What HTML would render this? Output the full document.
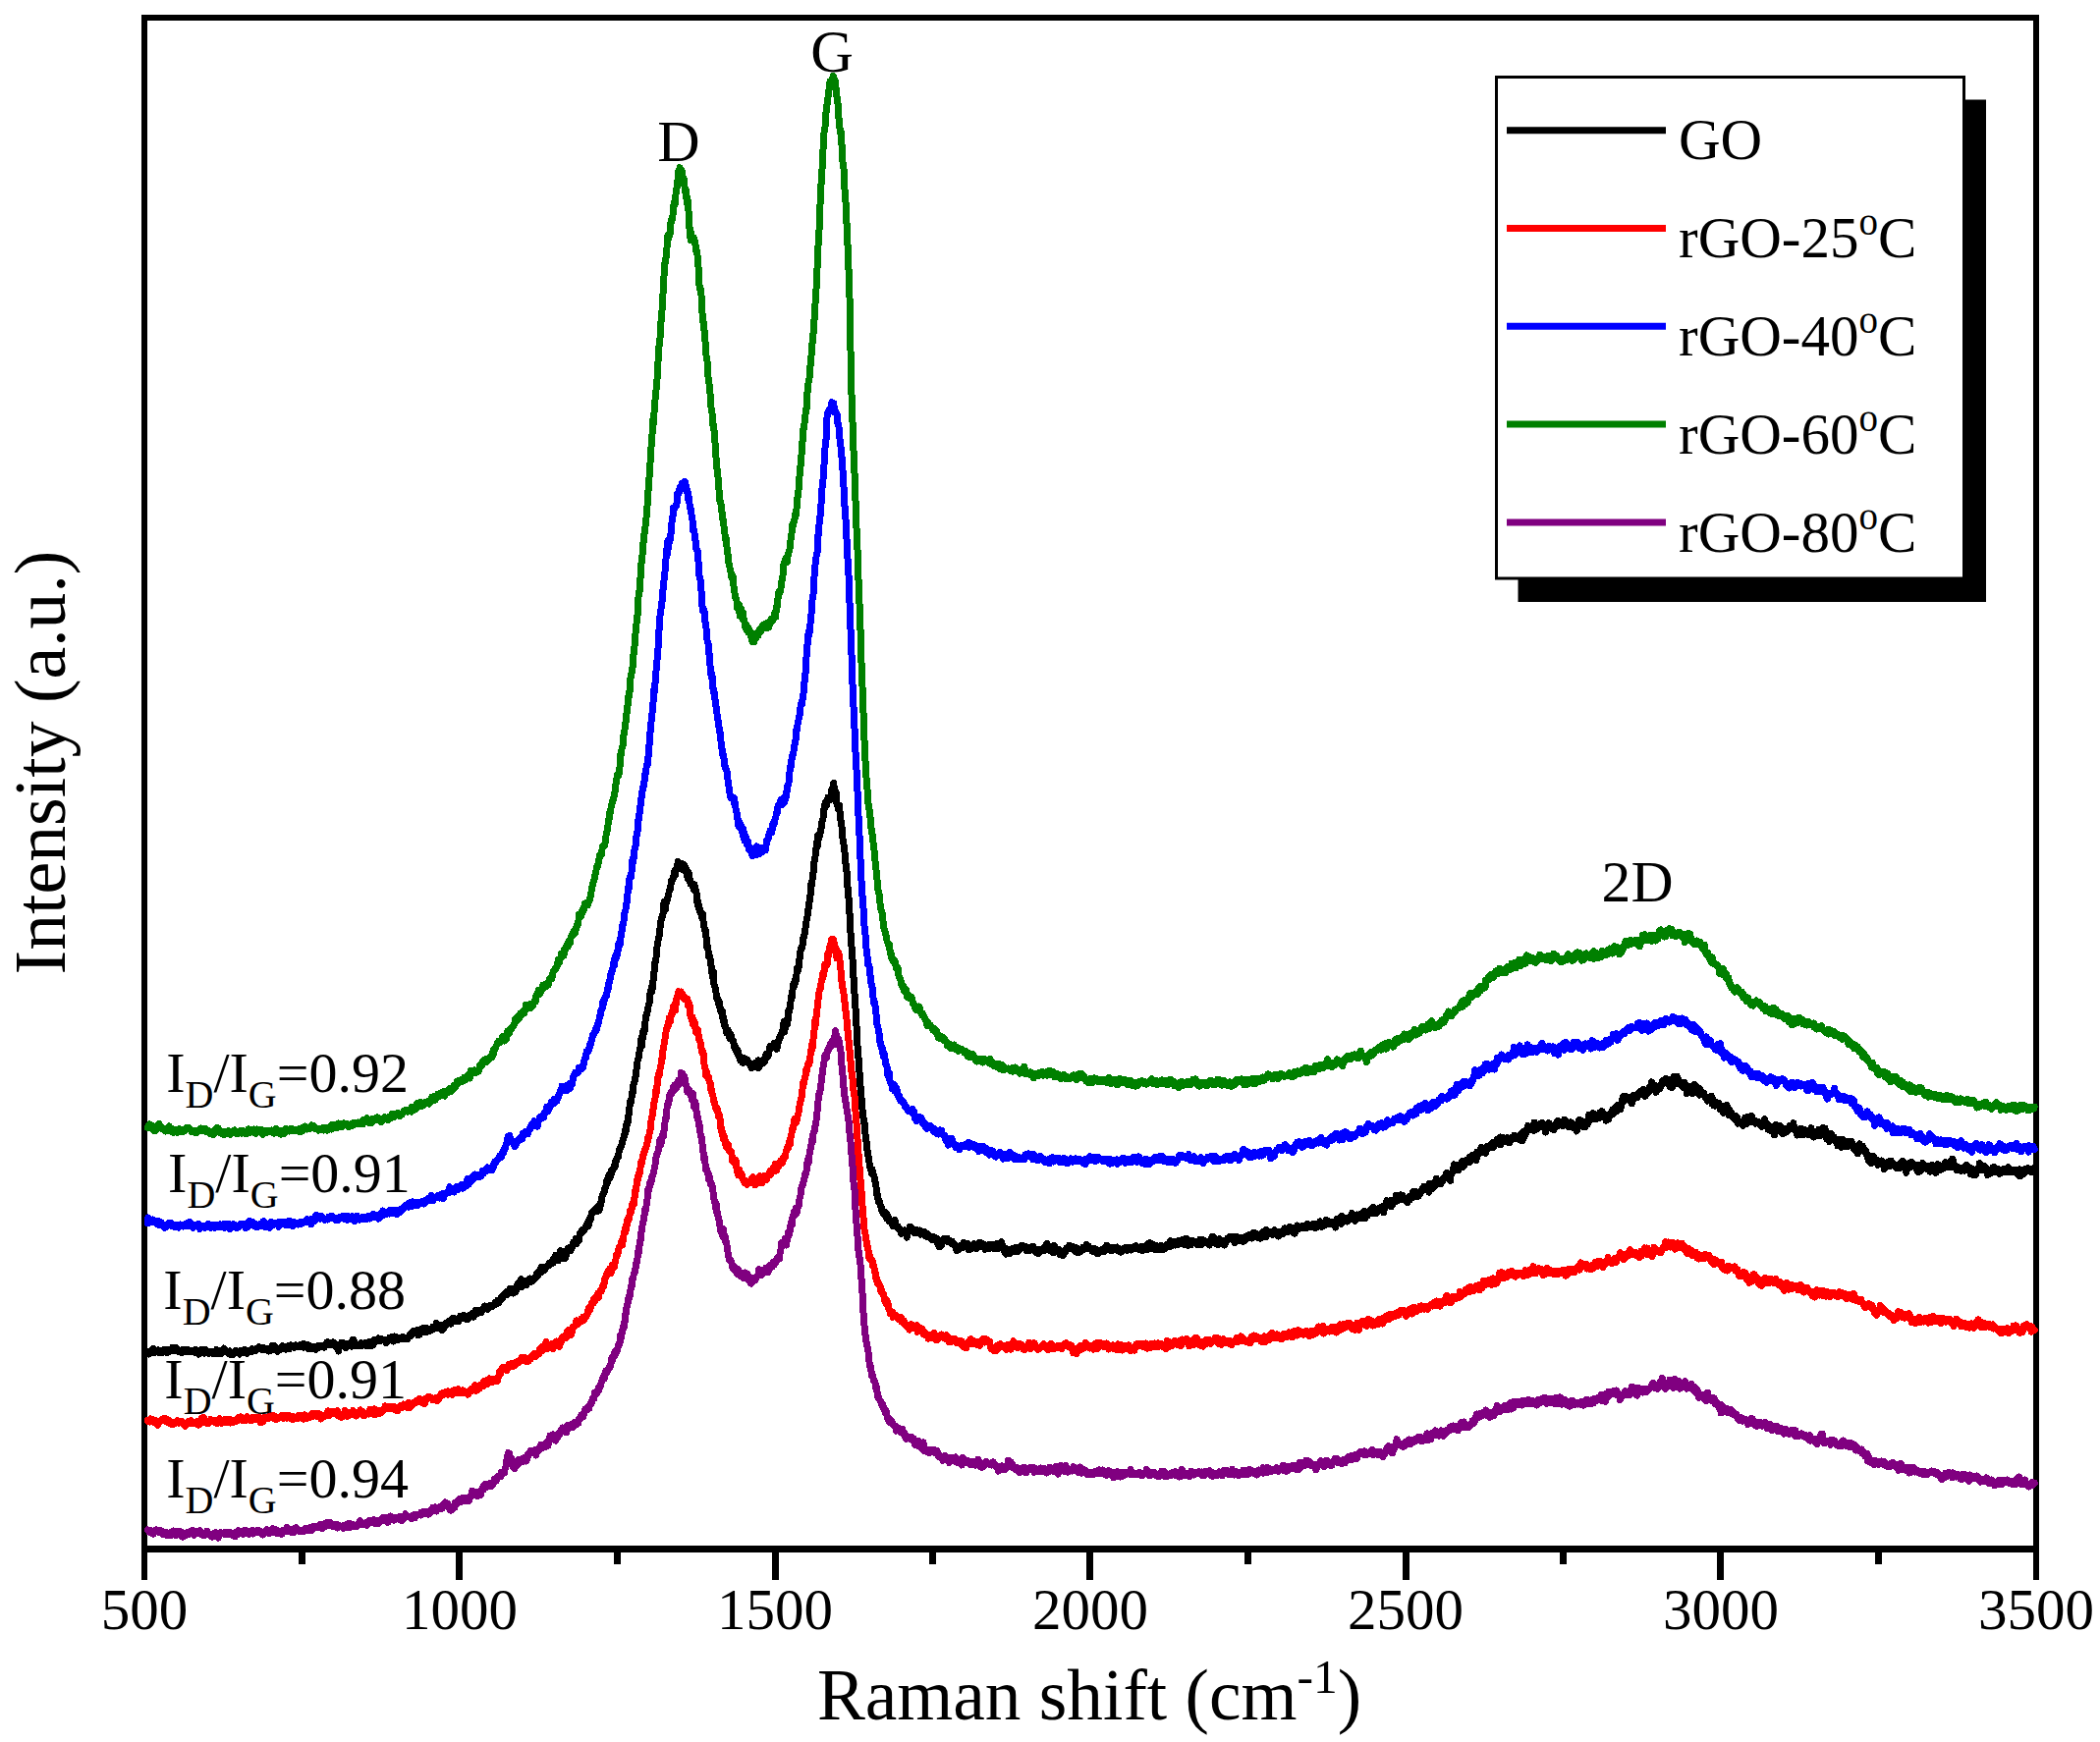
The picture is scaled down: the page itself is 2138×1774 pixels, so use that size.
<!DOCTYPE html>
<html><head><meta charset="utf-8"><title>Raman spectra</title>
<style>
html,body{margin:0;padding:0;background:#fff;}
svg{display:block;}
text{font-family:"Liberation Serif","Times New Roman",serif;fill:#000;}
</style></head><body>
<svg width="2138" height="1774" viewBox="0 0 2138 1774">
<rect x="0" y="0" width="2138" height="1774" fill="#fff"/>

<g fill="#000" shape-rendering="crispEdges">
<rect x="144" y="15" width="1932" height="6"/>
<rect x="144" y="15" width="6" height="1566"/>
<rect x="2070" y="15" width="6" height="1566"/>
<rect x="144" y="1574" width="1932" height="7"/>
<rect x="144" y="1577" width="6" height="32"/>
<rect x="464" y="1577" width="7" height="32"/>
<rect x="786" y="1577" width="7" height="32"/>
<rect x="1106" y="1577" width="7" height="32"/>
<rect x="1428" y="1577" width="7" height="32"/>
<rect x="1748" y="1577" width="7" height="32"/>
<rect x="2070" y="1577" width="6" height="32"/>
<rect x="304" y="1577" width="7" height="16"/>
<rect x="625" y="1577" width="7" height="16"/>
<rect x="946" y="1577" width="7" height="16"/>
<rect x="1267" y="1577" width="7" height="16"/>
<rect x="1588" y="1577" width="7" height="16"/>
<rect x="1909" y="1577" width="7" height="16"/>
</g>
<path d="M150.3,1376.4 150.9,1378.7 151.6,1379.0 152.2,1376.7 152.9,1376.2 153.5,1375.8 154.2,1376.6 154.8,1375.7 155.4,1375.7 156.1,1373.2 156.7,1377.8 157.4,1376.2 158.0,1376.9 158.6,1376.1 159.3,1375.2 159.9,1376.4 160.6,1376.2 161.2,1374.8 161.9,1376.5 162.5,1377.8 163.1,1376.8 163.8,1376.6 164.4,1377.8 165.1,1377.3 165.7,1375.7 166.3,1375.9 167.0,1375.5 167.6,1374.3 168.3,1375.3 168.9,1377.3 169.6,1377.5 170.2,1376.6 170.8,1376.2 171.5,1377.0 172.1,1376.6 172.8,1374.3 173.4,1375.2 174.1,1375.5 174.7,1373.7 175.3,1372.6 176.0,1374.2 176.6,1374.8 177.3,1375.2 177.9,1372.6 178.5,1373.8 179.2,1374.0 179.8,1372.9 180.5,1374.8 181.1,1375.3 181.8,1375.0 182.4,1376.8 183.0,1376.4 183.7,1376.0 184.3,1376.5 185.0,1377.5 185.6,1374.8 186.3,1376.1 186.9,1376.8 187.5,1374.3 188.2,1376.5 188.8,1375.2 189.5,1375.7 190.1,1375.0 190.7,1376.3 191.4,1376.5 192.0,1374.8 192.7,1376.5 193.3,1376.3 194.0,1376.8 194.6,1375.4 195.2,1376.7 195.9,1376.5 196.5,1375.8 197.2,1376.3 197.8,1376.8 198.4,1377.4 199.1,1374.5 199.7,1377.6 200.4,1377.3 201.0,1377.4 201.7,1376.7 202.3,1379.2 202.9,1376.3 203.6,1377.9 204.2,1377.9 204.9,1374.7 205.5,1375.6 206.2,1374.6 206.8,1375.8 207.4,1377.7 208.1,1378.1 208.7,1374.3 209.4,1375.8 210.0,1376.9 210.6,1377.8 211.3,1377.8 211.9,1377.0 212.6,1378.1 213.2,1377.4 213.9,1376.7 214.5,1376.4 215.1,1378.0 215.8,1378.2 216.4,1377.2 217.1,1377.2 217.7,1376.3 218.4,1377.4 219.0,1378.8 219.6,1376.6 220.3,1374.6 220.9,1377.7 221.6,1377.3 222.2,1378.9 222.8,1376.9 223.5,1376.7 224.1,1375.4 224.8,1377.3 225.4,1378.8 226.1,1374.8 226.7,1374.4 227.3,1375.2 228.0,1373.0 228.6,1374.2 229.3,1375.3 229.9,1375.3 230.5,1377.0 231.2,1376.6 231.8,1377.5 232.5,1377.2 233.1,1378.6 233.8,1375.9 234.4,1377.7 235.0,1379.6 235.7,1378.8 236.3,1379.6 237.0,1378.5 237.6,1379.1 238.3,1378.0 238.9,1377.7 239.5,1375.9 240.2,1375.2 240.8,1376.7 241.5,1377.6 242.1,1377.1 242.7,1377.8 243.4,1378.3 244.0,1379.0 244.7,1377.6 245.3,1375.2 246.0,1376.9 246.6,1376.2 247.2,1377.0 247.9,1376.0 248.5,1374.7 249.2,1374.6 249.8,1377.6 250.5,1376.5 251.1,1377.9 251.7,1378.3 252.4,1375.4 253.0,1376.9 253.7,1376.8 254.3,1376.2 254.9,1375.9 255.6,1375.4 256.2,1376.3 256.9,1373.8 257.5,1374.5 258.2,1374.5 258.8,1375.7 259.4,1374.0 260.1,1375.5 260.7,1374.2 261.4,1373.7 262.0,1373.3 262.6,1372.4 263.3,1371.9 263.9,1373.1 264.6,1372.3 265.2,1373.3 265.9,1372.8 266.5,1374.1 267.1,1372.3 267.8,1374.2 268.4,1372.7 269.1,1372.8 269.7,1373.8 270.4,1373.3 271.0,1374.3 271.6,1373.3 272.3,1373.3 272.9,1373.4 273.6,1376.1 274.2,1374.6 274.8,1373.7 275.5,1374.2 276.1,1372.5 276.8,1375.0 277.4,1370.3 278.1,1372.0 278.7,1371.8 279.3,1370.2 280.0,1372.8 280.6,1374.0 281.3,1374.1 281.9,1375.0 282.6,1376.3 283.2,1375.7 283.8,1375.3 284.5,1374.5 285.1,1374.4 285.8,1372.4 286.4,1373.4 287.0,1371.6 287.7,1370.5 288.3,1371.6 289.0,1373.0 289.6,1372.3 290.3,1371.5 290.9,1374.2 291.5,1372.9 292.2,1373.0 292.8,1372.8 293.5,1370.9 294.1,1374.0 294.7,1371.7 295.4,1371.6 296.0,1369.8 296.7,1369.8 297.3,1371.0 298.0,1371.8 298.6,1372.0 299.2,1371.6 299.9,1372.2 300.5,1371.6 301.2,1370.0 301.8,1371.5 302.5,1371.7 303.1,1371.4 303.7,1371.5 304.4,1371.7 305.0,1370.2 305.7,1369.3 306.3,1371.6 306.9,1370.7 307.6,1370.7 308.2,1371.4 308.9,1372.1 309.5,1368.4 310.2,1369.2 310.8,1369.5 311.4,1371.3 312.1,1371.0 312.7,1369.4 313.4,1371.1 314.0,1373.8 314.7,1372.7 315.3,1370.8 315.9,1370.9 316.6,1372.1 317.2,1371.8 317.9,1371.3 318.5,1373.8 319.1,1371.3 319.8,1373.3 320.4,1373.3 321.1,1371.3 321.7,1374.5 322.4,1372.9 323.0,1371.5 323.6,1372.7 324.3,1371.9 324.9,1370.1 325.6,1371.7 326.2,1371.5 326.8,1371.3 327.5,1371.0 328.1,1371.7 328.8,1371.7 329.4,1370.9 330.1,1372.1 330.7,1370.4 331.3,1370.2 332.0,1369.3 332.6,1367.0 333.3,1366.8 333.9,1369.4 334.6,1368.6 335.2,1368.8 335.8,1369.5 336.5,1368.7 337.1,1369.6 337.8,1368.5 338.4,1368.2 339.0,1366.8 339.7,1370.1 340.3,1368.7 341.0,1368.3 341.6,1370.2 342.3,1370.8 342.9,1372.4 343.5,1370.4 344.2,1372.4 344.8,1376.1 345.5,1370.0 346.1,1371.5 346.8,1369.3 347.4,1369.7 348.0,1367.0 348.7,1367.0 349.3,1368.6 350.0,1368.3 350.6,1369.9 351.2,1368.6 351.9,1369.4 352.5,1372.7 353.2,1368.5 353.8,1368.8 354.5,1368.8 355.1,1368.8 355.7,1369.9 356.4,1368.6 357.0,1367.2 357.7,1369.1 358.3,1371.2 358.9,1370.0 359.6,1364.1 360.2,1366.9 360.9,1366.7 361.5,1368.7 362.2,1368.1 362.8,1370.4 363.4,1369.8 364.1,1370.7 364.7,1369.7 365.4,1369.3 366.0,1369.8 366.7,1370.1 367.3,1368.9 367.9,1367.6 368.6,1370.2 369.2,1368.6 369.9,1368.6 370.5,1368.2 371.1,1368.4 371.8,1368.7 372.4,1367.1 373.1,1370.8 373.7,1370.7 374.4,1369.3 375.0,1370.4 375.6,1369.7 376.3,1370.2 376.9,1366.2 377.6,1368.3 378.2,1368.9 378.9,1370.2 379.5,1369.6 380.1,1369.2 380.8,1365.8 381.4,1364.3 382.1,1366.0 382.7,1364.8 383.3,1366.2 384.0,1365.2 384.6,1365.2 385.3,1362.9 385.9,1365.6 386.6,1365.0 387.2,1365.7 387.8,1364.4 388.5,1363.7 389.1,1364.3 389.8,1364.3 390.4,1364.8 391.0,1364.7 391.7,1364.8 392.3,1365.2 393.0,1367.7 393.6,1365.2 394.3,1365.9 394.9,1364.8 395.5,1364.0 396.2,1362.7 396.8,1363.8 397.5,1363.7 398.1,1364.5 398.8,1361.7 399.4,1363.1 400.0,1363.8 400.7,1366.0 401.3,1361.0 402.0,1363.7 402.6,1361.3 403.2,1363.5 403.9,1361.7 404.5,1362.8 405.2,1364.4 405.8,1363.0 406.5,1363.2 407.1,1363.5 407.7,1362.2 408.4,1363.6 409.0,1362.3 409.7,1361.4 410.3,1362.3 411.0,1362.9 411.6,1363.6 412.2,1362.6 412.9,1362.5 413.5,1363.9 414.2,1363.3 414.8,1363.6 415.4,1362.1 416.1,1361.0 416.7,1360.0 417.4,1358.9 418.0,1360.5 418.7,1359.6 419.3,1357.4 419.9,1357.4 420.6,1355.6 421.2,1356.6 421.9,1355.8 422.5,1355.3 423.1,1355.3 423.8,1355.5 424.4,1354.7 425.1,1358.1 425.7,1359.7 426.4,1355.5 427.0,1359.4 427.6,1356.2 428.3,1355.2 428.9,1354.8 429.6,1353.0 430.2,1356.6 430.9,1354.5 431.5,1352.7 432.1,1355.0 432.8,1354.0 433.4,1355.3 434.1,1356.7 434.7,1352.5 435.3,1354.4 436.0,1355.6 436.6,1355.1 437.3,1355.7 437.9,1353.6 438.6,1353.2 439.2,1354.6 439.8,1352.8 440.5,1351.5 441.1,1353.3 441.8,1353.2 442.4,1351.4 443.1,1350.0 443.7,1350.5 444.3,1347.5 445.0,1350.4 445.6,1349.1 446.3,1352.7 446.9,1350.8 447.5,1351.3 448.2,1351.3 448.8,1349.7 449.5,1353.2 450.1,1354.6 450.8,1351.7 451.4,1353.5 452.0,1352.0 452.7,1349.2 453.3,1350.7 454.0,1349.9 454.6,1347.0 455.2,1347.3 455.9,1347.7 456.5,1345.9 457.2,1347.6 457.8,1347.3 458.5,1345.4 459.1,1348.2 459.7,1345.5 460.4,1342.9 461.0,1344.0 461.7,1342.2 462.3,1345.5 463.0,1343.6 463.6,1345.9 464.2,1343.6 464.9,1345.3 465.5,1344.5 466.2,1345.1 466.8,1345.5 467.4,1343.7 468.1,1342.4 468.7,1340.4 469.4,1343.0 470.0,1341.9 470.7,1340.1 471.3,1340.6 471.9,1339.4 472.6,1340.8 473.2,1342.0 473.9,1343.1 474.5,1342.4 475.2,1341.1 475.8,1343.2 476.4,1343.4 477.1,1341.4 477.7,1341.4 478.4,1339.0 479.0,1339.4 479.6,1340.4 480.3,1339.8 480.9,1339.9 481.6,1337.3 482.2,1341.2 482.9,1338.0 483.5,1338.2 484.1,1334.8 484.8,1337.2 485.4,1337.9 486.1,1337.6 486.7,1336.6 487.3,1334.5 488.0,1335.1 488.6,1336.8 489.3,1334.9 489.9,1336.7 490.6,1334.3 491.2,1333.8 491.8,1333.1 492.5,1331.8 493.1,1330.6 493.8,1330.1 494.4,1332.0 495.1,1332.7 495.7,1333.0 496.3,1333.4 497.0,1330.1 497.6,1330.2 498.3,1331.2 498.9,1329.3 499.5,1329.6 500.2,1330.3 500.8,1330.5 501.5,1329.9 502.1,1329.4 502.8,1328.2 503.4,1328.5 504.0,1326.2 504.7,1327.3 505.3,1328.0 506.0,1325.5 506.6,1324.3 507.3,1325.6 507.9,1326.7 508.5,1325.1 509.2,1324.0 509.8,1323.6 510.5,1320.5 511.1,1321.7 511.7,1321.6 512.4,1319.6 513.0,1318.5 513.7,1318.0 514.3,1317.7 515.0,1318.0 515.6,1315.6 516.2,1317.2 516.9,1318.2 517.5,1316.1 518.2,1316.9 518.8,1314.7 519.4,1312.3 520.1,1313.6 520.7,1313.0 521.4,1316.5 522.0,1313.7 522.7,1317.0 523.3,1316.4 523.9,1313.1 524.6,1316.0 525.2,1315.5 525.9,1310.3 526.5,1312.1 527.2,1307.6 527.8,1309.1 528.4,1306.3 529.1,1307.4 529.7,1304.5 530.4,1302.8 531.0,1307.1 531.6,1310.2 532.3,1306.1 532.9,1307.6 533.6,1307.0 534.2,1307.0 534.9,1308.8 535.5,1308.9 536.1,1304.7 536.8,1307.2 537.4,1305.3 538.1,1303.3 538.7,1306.1 539.4,1305.7 540.0,1302.0 540.6,1305.5 541.3,1303.2 541.9,1302.9 542.6,1304.2 543.2,1302.0 543.8,1301.2 544.5,1301.7 545.1,1301.2 545.8,1299.9 546.4,1297.4 547.1,1296.3 547.7,1299.3 548.3,1295.8 549.0,1296.8 549.6,1293.5 550.3,1293.9 550.9,1290.6 551.5,1295.6 552.2,1291.9 552.8,1292.6 553.5,1291.9 554.1,1294.0 554.8,1290.3 555.4,1291.7 556.0,1290.5 556.7,1289.9 557.3,1289.6 558.0,1289.1 558.6,1287.8 559.3,1286.1 559.9,1287.8 560.5,1285.9 561.2,1285.1 561.8,1285.3 562.5,1283.3 563.1,1286.3 563.7,1282.1 564.4,1281.9 565.0,1283.2 565.7,1278.1 566.3,1278.8 567.0,1279.3 567.6,1281.0 568.2,1283.9 568.9,1280.6 569.5,1280.8 570.2,1277.1 570.8,1273.6 571.5,1274.7 572.1,1280.5 572.7,1279.3 573.4,1277.8 574.0,1281.6 574.7,1278.3 575.3,1281.4 575.9,1280.2 576.6,1275.2 577.2,1273.6 577.9,1274.2 578.5,1271.1 579.2,1274.2 579.8,1270.5 580.4,1273.9 581.1,1273.0 581.7,1271.6 582.4,1270.0 583.0,1269.6 583.6,1265.5 584.3,1267.0 584.9,1264.6 585.6,1265.2 586.2,1261.6 586.9,1266.8 587.5,1264.0 588.1,1261.1 588.8,1263.7 589.4,1263.5 590.1,1258.3 590.7,1255.8 591.4,1255.4 592.0,1253.4 592.6,1252.6 593.3,1254.8 593.9,1252.6 594.6,1251.6 595.2,1251.9 595.8,1249.9 596.5,1250.4 597.1,1249.9 597.8,1246.1 598.4,1246.5 599.1,1248.4 599.7,1243.0 600.3,1241.3 601.0,1243.0 601.6,1238.9 602.3,1235.6 602.9,1236.1 603.6,1233.8 604.2,1234.6 604.8,1234.3 605.5,1232.8 606.1,1231.0 606.8,1232.2 607.4,1231.4 608.0,1233.7 608.7,1229.0 609.3,1229.5 610.0,1232.8 610.6,1226.5 611.3,1227.4 611.9,1226.0 612.5,1221.6 613.2,1216.9 613.8,1216.7 614.5,1214.8 615.1,1214.3 615.7,1210.4 616.4,1209.6 617.0,1207.8 617.7,1202.3 618.3,1205.2 619.0,1201.7 619.6,1198.5 620.2,1196.2 620.9,1199.7 621.5,1197.1 622.2,1192.5 622.8,1194.5 623.5,1190.7 624.1,1190.1 624.7,1190.1 625.4,1186.8 626.0,1188.4 626.7,1182.6 627.3,1181.1 627.9,1181.3 628.6,1178.5 629.2,1178.8 629.9,1174.7 630.5,1171.3 631.2,1169.0 631.8,1168.1 632.4,1168.0 633.1,1164.7 633.7,1162.8 634.4,1160.5 635.0,1158.0 635.7,1156.9 636.3,1151.0 636.9,1153.9 637.6,1145.6 638.2,1143.6 638.9,1144.6 639.5,1138.6 640.1,1134.8 640.8,1129.5 641.4,1122.6 642.1,1123.1 642.7,1121.6 643.4,1112.9 644.0,1114.0 644.6,1106.3 645.3,1103.0 645.9,1102.9 646.6,1098.2 647.2,1095.8 647.8,1090.4 648.5,1086.3 649.1,1079.9 649.8,1078.4 650.4,1075.4 651.1,1070.5 651.7,1068.8 652.3,1063.1 653.0,1056.9 653.6,1064.9 654.3,1054.9 654.9,1050.0 655.6,1052.2 656.2,1049.7 656.8,1041.1 657.5,1037.4 658.1,1032.8 658.8,1033.1 659.4,1027.7 660.0,1025.0 660.7,1022.3 661.3,1020.6 662.0,1011.6 662.6,1010.6 663.3,1005.5 663.9,1009.7 664.5,1002.8 665.2,996.7 665.8,990.6 666.5,987.7 667.1,977.3 667.8,978.6 668.4,967.7 669.0,964.1 669.7,960.9 670.3,955.3 671.0,953.6 671.6,948.9 672.2,943.0 672.9,937.6 673.5,936.7 674.2,932.4 674.8,933.2 675.5,925.2 676.1,918.5 676.7,921.4 677.4,926.5 678.0,921.0 678.7,916.2 679.3,916.8 679.9,913.8 680.6,912.2 681.2,908.0 681.9,906.4 682.5,904.7 683.2,899.9 683.8,896.6 684.4,896.8 685.1,895.6 685.7,892.2 686.4,890.0 687.0,886.7 687.7,891.0 688.3,884.9 688.9,883.8 689.6,883.4 690.2,877.2 690.9,878.0 691.5,880.4 692.1,883.1 692.8,880.3 693.4,881.8 694.1,882.7 694.7,879.5 695.4,885.8 696.0,883.7 696.6,880.5 697.3,884.8 697.9,883.0 698.6,886.1 699.2,891.2 699.9,890.2 700.5,894.8 701.1,888.5 701.8,893.4 702.4,896.3 703.1,900.0 703.7,899.8 704.3,899.5 705.0,901.7 705.6,902.3 706.3,906.1 706.9,900.8 707.6,905.3 708.2,905.8 708.8,908.6 709.5,911.8 710.1,921.2 710.8,918.2 711.4,924.5 712.0,924.8 712.7,928.1 713.3,929.4 714.0,930.4 714.6,934.3 715.3,930.3 715.9,937.6 716.5,940.2 717.2,946.3 717.8,945.9 718.5,948.8 719.1,955.4 719.8,964.3 720.4,964.0 721.0,967.8 721.7,974.5 722.3,973.7 723.0,975.7 723.6,981.2 724.2,984.4 724.9,991.0 725.5,994.8 726.2,989.6 726.8,1002.1 727.5,1003.6 728.1,1006.4 728.7,1007.8 729.4,1015.6 730.0,1015.1 730.7,1018.5 731.3,1021.7 732.0,1019.5 732.6,1025.0 733.2,1025.7 733.9,1030.7 734.5,1030.8 735.2,1029.1 735.8,1037.0 736.4,1035.2 737.1,1043.1 737.7,1040.5 738.4,1045.9 739.0,1047.4 739.7,1051.6 740.3,1051.0 740.9,1048.6 741.6,1049.9 742.2,1055.1 742.9,1057.3 743.5,1053.0 744.1,1053.6 744.8,1056.7 745.4,1058.9 746.1,1060.3 746.7,1060.1 747.4,1065.3 748.0,1067.7 748.6,1068.4 749.3,1066.7 749.9,1071.2 750.6,1071.9 751.2,1069.9 751.9,1075.5 752.5,1074.6 753.1,1075.0 753.8,1080.1 754.4,1078.7 755.1,1080.2 755.7,1081.9 756.3,1082.5 757.0,1077.6 757.6,1077.9 758.3,1080.3 758.9,1078.1 759.6,1079.7 760.2,1079.8 760.8,1079.6 761.5,1081.3 762.1,1082.6 762.8,1082.5 763.4,1084.6 764.1,1084.6 764.7,1084.2 765.3,1087.8 766.0,1087.1 766.6,1084.1 767.3,1086.8 767.9,1083.8 768.5,1085.7 769.2,1082.3 769.8,1085.9 770.5,1083.1 771.1,1082.2 771.8,1079.9 772.4,1087.4 773.0,1082.5 773.7,1082.3 774.3,1083.0 775.0,1081.4 775.6,1083.2 776.2,1079.8 776.9,1082.9 777.5,1080.6 778.2,1081.1 778.8,1080.8 779.5,1075.8 780.1,1073.1 780.7,1074.1 781.4,1076.4 782.0,1075.0 782.7,1074.1 783.3,1068.4 784.0,1065.5 784.6,1067.9 785.2,1066.9 785.9,1066.0 786.5,1066.4 787.2,1066.4 787.8,1062.8 788.4,1063.7 789.1,1066.5 789.7,1065.2 790.4,1065.0 791.0,1068.2 791.7,1061.7 792.3,1062.0 792.9,1058.5 793.6,1056.8 794.2,1057.0 794.9,1054.1 795.5,1052.5 796.2,1052.0 796.8,1050.0 797.4,1044.0 798.1,1040.7 798.7,1050.9 799.4,1046.9 800.0,1044.0 800.6,1039.6 801.3,1038.2 801.9,1042.5 802.6,1029.4 803.2,1031.1 803.9,1028.7 804.5,1023.3 805.1,1019.5 805.8,1014.1 806.4,1015.1 807.1,1007.1 807.7,1002.2 808.3,1004.1 809.0,1003.4 809.6,998.1 810.3,998.5 810.9,993.1 811.6,986.3 812.2,989.5 812.8,986.6 813.5,982.9 814.1,975.5 814.8,969.5 815.4,966.4 816.1,965.7 816.7,964.0 817.3,960.8 818.0,954.5 818.6,953.7 819.3,950.0 819.9,946.5 820.5,940.2 821.2,937.1 821.8,935.1 822.5,927.7 823.1,925.1 823.8,919.4 824.4,917.0 825.0,911.9 825.7,901.0 826.3,901.4 827.0,896.0 827.6,892.9 828.3,885.3 828.9,877.7 829.5,876.0 830.2,870.8 830.8,865.4 831.5,857.7 832.1,862.8 832.7,850.8 833.4,854.5 834.0,852.5 834.7,850.6 835.3,847.2 836.0,843.8 836.6,840.1 837.2,835.0 837.9,835.2 838.5,824.3 839.2,823.7 839.8,819.6 840.4,817.2 841.1,819.3 841.7,819.7 842.4,814.7 843.0,812.1 843.7,813.5 844.3,812.8 844.9,814.6 845.6,811.4 846.2,808.0 846.9,803.7 847.5,803.5 848.2,802.5 848.8,797.5 849.4,804.7 850.1,805.7 850.7,805.9 851.4,808.1 852.0,818.4 852.6,819.4 853.3,824.0 853.9,819.9 854.6,820.0 855.2,828.7 855.9,835.6 856.5,836.7 857.1,843.1 857.8,852.0 858.4,857.2 859.1,860.3 859.7,865.4 860.4,871.5 861.0,879.6 861.6,881.2 862.3,891.6 862.9,902.7 863.6,908.3 864.2,917.2 864.8,926.9 865.5,938.3 866.1,951.9 866.8,961.2 867.4,969.4 868.1,977.9 868.7,991.5 869.3,999.4 870.0,1011.8 870.6,1020.9 871.3,1030.6 871.9,1042.6 872.5,1055.5 873.2,1068.4 873.8,1076.6 874.5,1079.8 875.1,1094.5 875.8,1103.2 876.4,1112.5 877.0,1117.6 877.7,1128.3 878.3,1131.6 879.0,1138.5 879.6,1143.0 880.3,1144.3 880.9,1153.8 881.5,1159.9 882.2,1163.2 882.8,1170.3 883.5,1174.7 884.1,1177.6 884.7,1182.1 885.4,1186.7 886.0,1189.1 886.7,1190.9 887.3,1195.2 888.0,1190.9 888.6,1195.6 889.2,1195.9 889.9,1197.6 890.5,1202.4 891.2,1204.5 891.8,1207.4 892.5,1212.7 893.1,1219.1 893.7,1217.4 894.4,1224.0 895.0,1222.0 895.7,1225.0 896.3,1227.6 896.9,1228.2 897.6,1231.7 898.2,1234.1 898.9,1233.8 899.5,1236.5 900.2,1236.0 900.8,1234.4 901.4,1236.1 902.1,1235.9 902.7,1240.8 903.4,1237.1 904.0,1241.7 904.6,1239.4 905.3,1244.1 905.9,1244.1 906.6,1244.1 907.2,1244.2 907.9,1245.2 908.5,1247.1 909.1,1248.5 909.8,1245.9 910.4,1243.9 911.1,1242.6 911.7,1247.6 912.4,1249.3 913.0,1249.1 913.6,1249.4 914.3,1249.3 914.9,1251.5 915.6,1252.3 916.2,1253.3 916.8,1251.9 917.5,1256.3 918.1,1253.5 918.8,1254.7 919.4,1253.3 920.1,1254.9 920.7,1254.4 921.3,1253.0 922.0,1254.8 922.6,1253.3 923.3,1260.1 923.9,1255.3 924.6,1255.0 925.2,1253.9 925.8,1253.1 926.5,1249.1 927.1,1252.4 927.8,1253.3 928.4,1250.4 929.0,1253.7 929.7,1252.1 930.3,1254.0 931.0,1255.8 931.6,1255.8 932.3,1255.0 932.9,1252.6 933.5,1253.1 934.2,1253.0 934.8,1254.3 935.5,1256.1 936.1,1254.2 936.7,1253.0 937.4,1257.2 938.0,1255.3 938.7,1254.2 939.3,1254.1 940.0,1256.7 940.6,1256.7 941.2,1254.5 941.9,1258.1 942.5,1259.2 943.2,1259.2 943.8,1256.0 944.5,1257.7 945.1,1258.7 945.7,1258.4 946.4,1259.5 947.0,1259.5 947.7,1261.6 948.3,1262.2 948.9,1259.3 949.6,1260.6 950.2,1261.3 950.9,1259.7 951.5,1260.7 952.2,1262.4 952.8,1262.2 953.4,1262.1 954.1,1261.2 954.7,1266.1 955.4,1267.7 956.0,1269.7 956.7,1267.3 957.3,1267.6 957.9,1269.1 958.6,1267.6 959.2,1264.1 959.9,1265.1 960.5,1261.7 961.1,1263.7 961.8,1261.8 962.4,1262.2 963.1,1262.2 963.7,1263.4 964.4,1261.2 965.0,1263.4 965.6,1264.9 966.3,1263.0 966.9,1263.5 967.6,1265.4 968.2,1266.0 968.8,1266.7 969.5,1264.2 970.1,1266.1 970.8,1266.7 971.4,1266.5 972.1,1267.1 972.7,1269.4 973.3,1268.2 974.0,1273.5 974.6,1269.8 975.3,1269.6 975.9,1269.2 976.6,1272.5 977.2,1268.8 977.8,1271.0 978.5,1269.0 979.1,1270.3 979.8,1269.5 980.4,1270.7 981.0,1265.4 981.7,1267.4 982.3,1269.0 983.0,1266.0 983.6,1266.8 984.3,1267.3 984.9,1266.2 985.5,1271.4 986.2,1272.7 986.8,1269.9 987.5,1268.9 988.1,1272.1 988.8,1271.1 989.4,1270.8 990.0,1270.9 990.7,1268.7 991.3,1269.6 992.0,1266.6 992.6,1270.7 993.2,1270.3 993.9,1271.8 994.5,1271.6 995.2,1269.4 995.8,1268.9 996.5,1266.8 997.1,1265.2 997.7,1267.0 998.4,1267.3 999.0,1265.9 999.7,1268.8 1000.3,1268.7 1000.9,1270.1 1001.6,1268.0 1002.2,1267.2 1002.9,1272.2 1003.5,1271.2 1004.2,1271.4 1004.8,1270.7 1005.4,1270.2 1006.1,1270.9 1006.7,1269.6 1007.4,1267.4 1008.0,1271.5 1008.7,1267.3 1009.3,1269.8 1009.9,1270.8 1010.6,1269.8 1011.2,1267.5 1011.9,1271.5 1012.5,1271.1 1013.1,1271.3 1013.8,1271.1 1014.4,1267.9 1015.1,1266.7 1015.7,1270.7 1016.4,1271.2 1017.0,1270.4 1017.6,1266.8 1018.3,1267.8 1018.9,1268.8 1019.6,1264.8 1020.2,1267.8 1020.9,1268.3 1021.5,1272.1 1022.1,1270.8 1022.8,1275.2 1023.4,1272.5 1024.1,1271.3 1024.7,1277.2 1025.3,1272.8 1026.0,1275.8 1026.6,1276.7 1027.3,1272.8 1027.9,1273.2 1028.6,1276.4 1029.2,1274.2 1029.8,1272.8 1030.5,1271.9 1031.1,1273.1 1031.8,1274.1 1032.4,1271.0 1033.0,1270.9 1033.7,1273.1 1034.3,1272.6 1035.0,1273.7 1035.6,1274.8 1036.3,1270.5 1036.9,1273.8 1037.5,1272.9 1038.2,1271.6 1038.8,1270.5 1039.5,1269.1 1040.1,1268.2 1040.8,1270.0 1041.4,1268.7 1042.0,1269.6 1042.7,1270.1 1043.3,1270.6 1044.0,1269.4 1044.6,1270.3 1045.2,1273.3 1045.9,1270.5 1046.5,1272.6 1047.2,1270.7 1047.8,1273.8 1048.5,1272.8 1049.1,1271.7 1049.7,1270.5 1050.4,1269.9 1051.0,1269.6 1051.7,1269.4 1052.3,1272.0 1053.0,1272.9 1053.6,1271.5 1054.2,1274.7 1054.9,1273.0 1055.5,1275.8 1056.2,1274.0 1056.8,1272.3 1057.4,1276.4 1058.1,1275.1 1058.7,1273.1 1059.4,1272.8 1060.0,1273.9 1060.7,1272.4 1061.3,1273.3 1061.9,1272.8 1062.6,1273.7 1063.2,1270.1 1063.9,1272.2 1064.5,1270.8 1065.1,1267.7 1065.8,1266.4 1066.4,1270.5 1067.1,1271.0 1067.7,1273.1 1068.4,1272.3 1069.0,1271.9 1069.6,1274.1 1070.3,1269.6 1070.9,1272.3 1071.6,1271.8 1072.2,1275.7 1072.9,1272.9 1073.5,1268.5 1074.1,1275.2 1074.8,1271.7 1075.4,1274.1 1076.1,1272.2 1076.7,1272.4 1077.3,1274.5 1078.0,1274.7 1078.6,1272.5 1079.3,1277.4 1079.9,1276.6 1080.6,1275.2 1081.2,1277.5 1081.8,1275.2 1082.5,1278.6 1083.1,1277.2 1083.8,1275.8 1084.4,1275.0 1085.1,1272.9 1085.7,1271.2 1086.3,1272.4 1087.0,1271.4 1087.6,1271.8 1088.3,1271.6 1088.9,1268.1 1089.5,1270.6 1090.2,1270.9 1090.8,1271.1 1091.5,1271.1 1092.1,1269.1 1092.8,1272.6 1093.4,1270.9 1094.0,1272.9 1094.7,1270.1 1095.3,1274.6 1096.0,1272.5 1096.6,1275.4 1097.2,1275.6 1097.9,1275.9 1098.5,1272.0 1099.2,1273.5 1099.8,1273.0 1100.5,1274.3 1101.1,1273.1 1101.7,1272.3 1102.4,1270.5 1103.0,1270.9 1103.7,1270.3 1104.3,1272.0 1105.0,1269.4 1105.6,1270.2 1106.2,1267.3 1106.9,1268.2 1107.5,1268.7 1108.2,1268.7 1108.8,1271.0 1109.4,1272.0 1110.1,1270.8 1110.7,1272.0 1111.4,1272.5 1112.0,1274.1 1112.7,1271.2 1113.3,1271.5 1113.9,1272.7 1114.6,1274.4 1115.2,1273.6 1115.9,1272.0 1116.5,1273.0 1117.2,1276.7 1117.8,1275.3 1118.4,1276.6 1119.1,1273.3 1119.7,1273.2 1120.4,1274.6 1121.0,1273.0 1121.6,1273.9 1122.3,1272.5 1122.9,1272.2 1123.6,1274.9 1124.2,1271.6 1124.9,1273.0 1125.5,1271.0 1126.1,1271.1 1126.8,1268.1 1127.4,1269.4 1128.1,1272.7 1128.7,1271.0 1129.3,1272.0 1130.0,1272.1 1130.6,1273.4 1131.3,1270.2 1131.9,1270.5 1132.6,1272.4 1133.2,1273.0 1133.8,1270.9 1134.5,1270.4 1135.1,1270.2 1135.8,1272.2 1136.4,1270.7 1137.1,1270.1 1137.7,1273.2 1138.3,1271.0 1139.0,1273.6 1139.6,1274.1 1140.3,1273.1 1140.9,1275.2 1141.5,1274.8 1142.2,1274.6 1142.8,1272.5 1143.5,1271.5 1144.1,1273.0 1144.8,1272.2 1145.4,1270.6 1146.0,1271.3 1146.7,1270.1 1147.3,1270.1 1148.0,1273.4 1148.6,1271.6 1149.3,1272.0 1149.9,1271.2 1150.5,1270.8 1151.2,1270.3 1151.8,1273.0 1152.5,1271.2 1153.1,1270.1 1153.7,1270.6 1154.4,1271.8 1155.0,1269.3 1155.7,1270.8 1156.3,1268.6 1157.0,1271.8 1157.6,1269.6 1158.2,1271.8 1158.9,1272.2 1159.5,1271.1 1160.2,1270.6 1160.8,1271.9 1161.4,1269.8 1162.1,1269.9 1162.7,1270.1 1163.4,1273.4 1164.0,1272.2 1164.7,1272.5 1165.3,1269.3 1165.9,1272.2 1166.6,1268.7 1167.2,1269.7 1167.9,1267.5 1168.5,1272.5 1169.2,1266.4 1169.8,1270.4 1170.4,1269.8 1171.1,1265.7 1171.7,1269.5 1172.4,1271.9 1173.0,1271.4 1173.6,1268.1 1174.3,1268.7 1174.9,1267.8 1175.6,1268.3 1176.2,1269.0 1176.9,1272.8 1177.5,1270.2 1178.1,1269.0 1178.8,1271.5 1179.4,1272.6 1180.1,1272.2 1180.7,1269.7 1181.4,1271.6 1182.0,1268.5 1182.6,1270.3 1183.3,1270.4 1183.9,1272.8 1184.6,1270.6 1185.2,1270.1 1185.8,1272.0 1186.5,1270.2 1187.1,1270.1 1187.8,1269.4 1188.4,1267.1 1189.1,1266.9 1189.7,1268.2 1190.3,1267.6 1191.0,1269.6 1191.6,1263.8 1192.3,1264.1 1192.9,1269.1 1193.5,1267.4 1194.2,1265.1 1194.8,1265.6 1195.5,1267.2 1196.1,1264.8 1196.8,1268.0 1197.4,1265.6 1198.0,1265.6 1198.7,1266.2 1199.3,1267.6 1200.0,1263.6 1200.6,1265.6 1201.3,1266.6 1201.9,1263.1 1202.5,1262.9 1203.2,1265.8 1203.8,1265.8 1204.5,1264.3 1205.1,1263.2 1205.7,1261.9 1206.4,1268.0 1207.0,1262.5 1207.7,1263.5 1208.3,1261.7 1209.0,1264.2 1209.6,1268.2 1210.2,1266.0 1210.9,1267.1 1211.5,1265.5 1212.2,1268.0 1212.8,1265.8 1213.5,1263.3 1214.1,1265.7 1214.7,1263.7 1215.4,1265.0 1216.0,1264.9 1216.7,1266.1 1217.3,1266.1 1217.9,1265.0 1218.6,1264.5 1219.2,1267.8 1219.9,1267.1 1220.5,1267.3 1221.2,1265.3 1221.8,1262.1 1222.4,1264.1 1223.1,1267.5 1223.7,1264.6 1224.4,1264.2 1225.0,1262.9 1225.6,1264.2 1226.3,1265.1 1226.9,1264.7 1227.6,1265.8 1228.2,1265.6 1228.9,1265.6 1229.5,1265.6 1230.1,1267.1 1230.8,1265.2 1231.4,1268.0 1232.1,1264.6 1232.7,1262.9 1233.4,1260.7 1234.0,1262.3 1234.6,1259.2 1235.3,1259.6 1235.9,1260.4 1236.6,1263.9 1237.2,1262.0 1237.8,1266.2 1238.5,1264.6 1239.1,1262.3 1239.8,1264.1 1240.4,1267.7 1241.1,1262.6 1241.7,1261.7 1242.3,1263.9 1243.0,1266.3 1243.6,1265.8 1244.3,1263.5 1244.9,1263.5 1245.6,1264.0 1246.2,1265.2 1246.8,1268.0 1247.5,1263.5 1248.1,1265.7 1248.8,1263.0 1249.4,1263.7 1250.0,1260.6 1250.7,1260.5 1251.3,1261.5 1252.0,1259.1 1252.6,1261.5 1253.3,1259.8 1253.9,1261.5 1254.5,1261.1 1255.2,1259.6 1255.8,1260.8 1256.5,1263.7 1257.1,1266.0 1257.7,1259.2 1258.4,1260.8 1259.0,1260.6 1259.7,1261.4 1260.3,1262.2 1261.0,1260.0 1261.6,1262.4 1262.2,1263.8 1262.9,1260.2 1263.5,1263.0 1264.2,1263.2 1264.8,1261.3 1265.5,1264.5 1266.1,1263.1 1266.7,1261.5 1267.4,1263.6 1268.0,1259.6 1268.7,1262.1 1269.3,1260.3 1269.9,1258.2 1270.6,1259.4 1271.2,1260.0 1271.9,1260.7 1272.5,1257.4 1273.2,1257.7 1273.8,1258.8 1274.4,1261.0 1275.1,1256.3 1275.7,1258.8 1276.4,1255.1 1277.0,1257.9 1277.7,1259.8 1278.3,1259.3 1278.9,1257.2 1279.6,1256.8 1280.2,1257.7 1280.9,1260.7 1281.5,1260.4 1282.1,1257.6 1282.8,1261.1 1283.4,1258.2 1284.1,1256.7 1284.7,1256.2 1285.4,1260.0 1286.0,1259.3 1286.6,1254.2 1287.3,1255.7 1287.9,1256.8 1288.6,1259.9 1289.2,1252.4 1289.8,1256.4 1290.5,1257.4 1291.1,1254.0 1291.8,1256.3 1292.4,1256.7 1293.1,1256.7 1293.7,1255.7 1294.3,1255.8 1295.0,1255.2 1295.6,1257.4 1296.3,1256.1 1296.9,1254.8 1297.6,1252.6 1298.2,1256.8 1298.8,1257.0 1299.5,1256.8 1300.1,1254.0 1300.8,1255.8 1301.4,1259.0 1302.0,1259.0 1302.7,1256.1 1303.3,1257.3 1304.0,1257.1 1304.6,1256.7 1305.3,1254.0 1305.9,1256.9 1306.5,1254.6 1307.2,1253.0 1307.8,1250.8 1308.5,1251.5 1309.1,1252.5 1309.8,1253.5 1310.4,1252.5 1311.0,1254.6 1311.7,1253.9 1312.3,1251.9 1313.0,1249.4 1313.6,1251.5 1314.2,1252.3 1314.9,1253.6 1315.5,1253.1 1316.2,1254.7 1316.8,1252.2 1317.5,1250.9 1318.1,1256.1 1318.7,1251.4 1319.4,1250.3 1320.0,1251.1 1320.7,1248.0 1321.3,1251.3 1321.9,1250.2 1322.6,1251.1 1323.2,1250.4 1323.9,1250.6 1324.5,1250.5 1325.2,1248.9 1325.8,1249.3 1326.4,1250.0 1327.1,1249.5 1327.7,1250.0 1328.4,1248.2 1329.0,1250.8 1329.7,1248.9 1330.3,1246.8 1330.9,1249.2 1331.6,1249.9 1332.2,1246.8 1332.9,1249.8 1333.5,1249.8 1334.1,1248.5 1334.8,1247.9 1335.4,1248.2 1336.1,1246.8 1336.7,1249.2 1337.4,1248.3 1338.0,1246.2 1338.6,1249.2 1339.3,1250.6 1339.9,1247.8 1340.6,1249.0 1341.2,1249.0 1341.9,1246.5 1342.5,1249.2 1343.1,1246.2 1343.8,1243.8 1344.4,1247.5 1345.1,1248.0 1345.7,1249.2 1346.3,1246.8 1347.0,1246.5 1347.6,1248.1 1348.3,1246.9 1348.9,1247.9 1349.6,1247.1 1350.2,1242.5 1350.8,1244.2 1351.5,1243.9 1352.1,1246.5 1352.8,1244.5 1353.4,1244.0 1354.0,1245.4 1354.7,1245.9 1355.3,1246.6 1356.0,1246.1 1356.6,1244.8 1357.3,1246.0 1357.9,1246.5 1358.5,1246.2 1359.2,1245.4 1359.8,1250.1 1360.5,1246.2 1361.1,1241.8 1361.8,1243.3 1362.4,1244.9 1363.0,1243.4 1363.7,1240.8 1364.3,1241.9 1365.0,1243.3 1365.6,1246.3 1366.2,1238.7 1366.9,1243.8 1367.5,1240.5 1368.2,1241.3 1368.8,1240.5 1369.5,1240.2 1370.1,1242.6 1370.7,1243.0 1371.4,1243.9 1372.0,1243.1 1372.7,1243.2 1373.3,1242.1 1374.0,1241.2 1374.6,1241.3 1375.2,1240.6 1375.9,1236.6 1376.5,1235.3 1377.2,1237.4 1377.8,1241.0 1378.4,1241.6 1379.1,1241.6 1379.7,1243.5 1380.4,1240.6 1381.0,1241.9 1381.7,1237.0 1382.3,1240.3 1382.9,1240.7 1383.6,1237.8 1384.2,1236.7 1384.9,1236.9 1385.5,1238.1 1386.1,1239.0 1386.8,1240.4 1387.4,1239.1 1388.1,1234.3 1388.7,1233.4 1389.4,1238.5 1390.0,1240.5 1390.6,1236.4 1391.3,1237.1 1391.9,1237.3 1392.6,1237.6 1393.2,1235.7 1393.9,1235.4 1394.5,1235.7 1395.1,1232.5 1395.8,1234.1 1396.4,1235.5 1397.1,1230.1 1397.7,1229.4 1398.3,1231.7 1399.0,1234.0 1399.6,1233.9 1400.3,1235.9 1400.9,1233.6 1401.6,1235.4 1402.2,1232.5 1402.8,1234.0 1403.5,1232.1 1404.1,1230.6 1404.8,1231.9 1405.4,1231.5 1406.1,1229.2 1406.7,1232.2 1407.3,1228.8 1408.0,1233.6 1408.6,1234.9 1409.3,1230.5 1409.9,1229.5 1410.5,1226.8 1411.2,1227.4 1411.8,1222.8 1412.5,1224.2 1413.1,1224.5 1413.8,1223.5 1414.4,1224.9 1415.0,1225.6 1415.7,1222.5 1416.3,1228.8 1417.0,1226.2 1417.6,1222.6 1418.2,1226.2 1418.9,1223.0 1419.5,1223.6 1420.2,1224.1 1420.8,1222.7 1421.5,1217.3 1422.1,1220.5 1422.7,1222.2 1423.4,1222.6 1424.0,1217.8 1424.7,1217.9 1425.3,1218.1 1426.0,1216.9 1426.6,1217.3 1427.2,1217.7 1427.9,1217.2 1428.5,1221.7 1429.2,1219.4 1429.8,1221.3 1430.4,1221.3 1431.1,1220.8 1431.7,1223.2 1432.4,1223.7 1433.0,1224.9 1433.7,1222.0 1434.3,1220.3 1434.9,1222.4 1435.6,1218.2 1436.2,1219.5 1436.9,1220.3 1437.5,1218.8 1438.2,1215.7 1438.8,1213.6 1439.4,1219.0 1440.1,1215.8 1440.7,1214.5 1441.4,1213.4 1442.0,1216.1 1442.6,1218.3 1443.3,1217.0 1443.9,1218.4 1444.6,1215.9 1445.2,1215.4 1445.9,1216.2 1446.5,1214.0 1447.1,1213.3 1447.8,1211.6 1448.4,1209.8 1449.1,1211.5 1449.7,1208.2 1450.3,1209.8 1451.0,1208.7 1451.6,1209.7 1452.3,1208.5 1452.9,1212.1 1453.6,1211.2 1454.2,1211.9 1454.8,1214.2 1455.5,1205.5 1456.1,1208.7 1456.8,1206.5 1457.4,1210.8 1458.1,1210.4 1458.7,1209.5 1459.3,1207.1 1460.0,1204.4 1460.6,1208.4 1461.3,1204.6 1461.9,1203.2 1462.5,1200.3 1463.2,1202.7 1463.8,1202.1 1464.5,1202.9 1465.1,1204.0 1465.8,1205.2 1466.4,1202.4 1467.0,1205.8 1467.7,1202.6 1468.3,1201.1 1469.0,1202.3 1469.6,1200.1 1470.3,1199.5 1470.9,1199.1 1471.5,1199.4 1472.2,1195.9 1472.8,1194.3 1473.5,1198.1 1474.1,1196.6 1474.7,1197.9 1475.4,1198.7 1476.0,1197.3 1476.7,1202.4 1477.3,1194.6 1478.0,1194.0 1478.6,1193.4 1479.2,1193.7 1479.9,1189.1 1480.5,1185.8 1481.2,1190.7 1481.8,1186.4 1482.4,1188.6 1483.1,1191.3 1483.7,1188.3 1484.4,1189.9 1485.0,1191.8 1485.7,1188.6 1486.3,1189.4 1486.9,1186.3 1487.6,1186.6 1488.2,1184.5 1488.9,1182.3 1489.5,1188.4 1490.2,1186.2 1490.8,1186.3 1491.4,1183.2 1492.1,1183.5 1492.7,1182.7 1493.4,1181.4 1494.0,1183.6 1494.6,1182.1 1495.3,1182.6 1495.9,1178.8 1496.6,1183.3 1497.2,1182.0 1497.9,1179.6 1498.5,1176.5 1499.1,1176.2 1499.8,1179.3 1500.4,1176.4 1501.1,1176.5 1501.7,1178.5 1502.4,1175.9 1503.0,1181.4 1503.6,1173.4 1504.3,1176.0 1504.9,1176.0 1505.6,1172.6 1506.2,1172.6 1506.8,1172.6 1507.5,1169.8 1508.1,1168.5 1508.8,1170.9 1509.4,1171.4 1510.1,1170.4 1510.7,1173.6 1511.3,1172.7 1512.0,1173.8 1512.6,1174.4 1513.3,1169.0 1513.9,1167.6 1514.5,1169.7 1515.2,1168.9 1515.8,1168.8 1516.5,1166.5 1517.1,1165.9 1517.8,1167.1 1518.4,1166.4 1519.0,1164.6 1519.7,1163.7 1520.3,1168.4 1521.0,1166.0 1521.6,1164.9 1522.3,1165.3 1522.9,1164.9 1523.5,1164.9 1524.2,1160.6 1524.8,1162.4 1525.5,1161.2 1526.1,1163.4 1526.7,1163.6 1527.4,1158.0 1528.0,1165.9 1528.7,1162.5 1529.3,1162.2 1530.0,1158.3 1530.6,1160.9 1531.2,1159.8 1531.9,1159.7 1532.5,1160.6 1533.2,1162.9 1533.8,1160.0 1534.5,1158.9 1535.1,1162.8 1535.7,1161.6 1536.4,1159.1 1537.0,1163.8 1537.7,1159.2 1538.3,1158.8 1538.9,1159.6 1539.6,1159.0 1540.2,1159.0 1540.9,1158.4 1541.5,1156.3 1542.2,1158.0 1542.8,1158.4 1543.4,1159.5 1544.1,1157.1 1544.7,1158.6 1545.4,1159.1 1546.0,1160.0 1546.6,1156.6 1547.3,1157.8 1547.9,1158.9 1548.6,1155.5 1549.2,1158.2 1549.9,1161.9 1550.5,1152.7 1551.1,1159.4 1551.8,1152.0 1552.4,1154.1 1553.1,1155.4 1553.7,1154.0 1554.4,1150.1 1555.0,1148.3 1555.6,1146.4 1556.3,1150.7 1556.9,1150.0 1557.6,1150.5 1558.2,1150.8 1558.8,1150.0 1559.5,1150.5 1560.1,1149.8 1560.8,1145.9 1561.4,1151.3 1562.1,1143.1 1562.7,1150.7 1563.3,1148.3 1564.0,1149.5 1564.6,1150.0 1565.3,1149.4 1565.9,1147.9 1566.6,1147.3 1567.2,1144.8 1567.8,1147.5 1568.5,1144.3 1569.1,1145.4 1569.8,1143.4 1570.4,1143.8 1571.0,1145.5 1571.7,1147.9 1572.3,1144.9 1573.0,1146.1 1573.6,1153.1 1574.3,1149.0 1574.9,1148.2 1575.5,1149.6 1576.2,1145.8 1576.8,1143.6 1577.5,1144.4 1578.1,1146.3 1578.7,1146.7 1579.4,1148.3 1580.0,1149.5 1580.7,1148.1 1581.3,1150.4 1582.0,1150.7 1582.6,1145.9 1583.2,1148.2 1583.9,1144.6 1584.5,1143.8 1585.2,1142.8 1585.8,1141.3 1586.5,1146.7 1587.1,1142.3 1587.7,1143.1 1588.4,1142.2 1589.0,1145.3 1589.7,1145.6 1590.3,1143.9 1590.9,1146.7 1591.6,1144.9 1592.2,1145.2 1592.9,1140.3 1593.5,1145.7 1594.2,1145.2 1594.8,1143.3 1595.4,1142.6 1596.1,1145.8 1596.7,1146.0 1597.4,1147.7 1598.0,1145.7 1598.7,1142.9 1599.3,1145.9 1599.9,1143.2 1600.6,1148.1 1601.2,1147.9 1601.9,1146.0 1602.5,1147.8 1603.1,1148.2 1603.8,1146.6 1604.4,1149.9 1605.1,1152.0 1605.7,1146.6 1606.4,1147.2 1607.0,1142.7 1607.6,1140.5 1608.3,1144.1 1608.9,1140.7 1609.6,1142.6 1610.2,1142.9 1610.8,1145.6 1611.5,1145.5 1612.1,1148.0 1612.8,1145.2 1613.4,1146.4 1614.1,1147.7 1614.7,1141.9 1615.3,1141.7 1616.0,1145.3 1616.6,1141.5 1617.3,1142.3 1617.9,1135.0 1618.6,1139.5 1619.2,1135.5 1619.8,1134.9 1620.5,1138.5 1621.1,1139.9 1621.8,1133.8 1622.4,1134.7 1623.0,1137.6 1623.7,1138.3 1624.3,1134.7 1625.0,1140.0 1625.6,1137.4 1626.3,1135.5 1626.9,1135.4 1627.5,1138.4 1628.2,1138.8 1628.8,1133.0 1629.5,1135.1 1630.1,1135.7 1630.8,1131.5 1631.4,1133.1 1632.0,1137.4 1632.7,1135.5 1633.3,1137.0 1634.0,1134.8 1634.6,1136.2 1635.2,1141.2 1635.9,1138.4 1636.5,1136.8 1637.2,1136.3 1637.8,1139.8 1638.5,1137.0 1639.1,1135.0 1639.7,1133.5 1640.4,1133.2 1641.0,1133.5 1641.7,1130.0 1642.3,1134.5 1642.9,1132.7 1643.6,1132.8 1644.2,1128.6 1644.9,1132.1 1645.5,1128.1 1646.2,1126.0 1646.8,1131.3 1647.4,1125.9 1648.1,1128.9 1648.7,1127.3 1649.4,1129.9 1650.0,1128.9 1650.7,1125.5 1651.3,1123.0 1651.9,1119.1 1652.6,1116.8 1653.2,1120.0 1653.9,1116.5 1654.5,1119.5 1655.1,1119.9 1655.8,1116.6 1656.4,1117.0 1657.1,1118.0 1657.7,1118.9 1658.4,1119.3 1659.0,1118.0 1659.6,1121.2 1660.3,1117.5 1660.9,1118.1 1661.6,1123.7 1662.2,1120.4 1662.9,1119.0 1663.5,1115.1 1664.1,1115.6 1664.8,1116.6 1665.4,1115.5 1666.1,1118.0 1666.7,1115.9 1667.3,1117.0 1668.0,1113.1 1668.6,1112.6 1669.3,1112.5 1669.9,1111.6 1670.6,1112.3 1671.2,1114.0 1671.8,1112.9 1672.5,1114.1 1673.1,1109.4 1673.8,1112.2 1674.4,1113.5 1675.0,1116.4 1675.7,1112.2 1676.3,1112.8 1677.0,1110.8 1677.6,1113.1 1678.3,1112.6 1678.9,1108.1 1679.5,1107.1 1680.2,1106.2 1680.8,1106.3 1681.5,1101.8 1682.1,1106.4 1682.8,1104.4 1683.4,1109.0 1684.0,1108.9 1684.7,1105.4 1685.3,1105.4 1686.0,1112.3 1686.6,1108.6 1687.2,1109.6 1687.9,1108.1 1688.5,1109.1 1689.2,1108.8 1689.8,1108.7 1690.5,1105.7 1691.1,1106.6 1691.7,1103.7 1692.4,1100.9 1693.0,1103.3 1693.7,1100.8 1694.3,1102.1 1695.0,1099.6 1695.6,1102.5 1696.2,1098.3 1696.9,1101.8 1697.5,1098.9 1698.2,1103.6 1698.8,1100.4 1699.4,1105.1 1700.1,1106.9 1700.7,1106.7 1701.4,1107.5 1702.0,1101.6 1702.7,1107.5 1703.3,1103.7 1703.9,1096.6 1704.6,1098.8 1705.2,1099.3 1705.9,1100.9 1706.5,1101.9 1707.1,1096.1 1707.8,1103.2 1708.4,1102.9 1709.1,1099.1 1709.7,1103.5 1710.4,1101.3 1711.0,1104.4 1711.6,1103.6 1712.3,1102.9 1712.9,1105.4 1713.6,1107.3 1714.2,1104.6 1714.9,1102.2 1715.5,1104.9 1716.1,1108.2 1716.8,1108.0 1717.4,1113.7 1718.1,1110.4 1718.7,1110.0 1719.3,1112.0 1720.0,1110.1 1720.6,1111.7 1721.3,1109.0 1721.9,1106.1 1722.6,1107.4 1723.2,1113.5 1723.8,1108.4 1724.5,1107.1 1725.1,1104.3 1725.8,1106.7 1726.4,1109.5 1727.1,1108.0 1727.7,1107.2 1728.3,1113.2 1729.0,1111.2 1729.6,1111.3 1730.3,1115.1 1730.9,1108.8 1731.5,1112.1 1732.2,1111.2 1732.8,1112.4 1733.5,1113.7 1734.1,1113.8 1734.8,1113.6 1735.4,1115.3 1736.0,1117.4 1736.7,1118.2 1737.3,1118.9 1738.0,1118.1 1738.6,1121.1 1739.2,1119.8 1739.9,1119.0 1740.5,1121.0 1741.2,1119.1 1741.8,1120.6 1742.5,1116.1 1743.1,1124.0 1743.7,1118.6 1744.4,1121.7 1745.0,1126.0 1745.7,1122.9 1746.3,1126.1 1747.0,1122.3 1747.6,1125.3 1748.2,1123.4 1748.9,1126.0 1749.5,1125.6 1750.2,1123.6 1750.8,1127.7 1751.4,1129.9 1752.1,1127.5 1752.7,1129.3 1753.4,1130.5 1754.0,1129.4 1754.7,1133.2 1755.3,1131.0 1755.9,1127.3 1756.6,1126.1 1757.2,1126.9 1757.9,1125.3 1758.5,1128.3 1759.2,1128.0 1759.8,1132.0 1760.4,1135.6 1761.1,1130.8 1761.7,1132.1 1762.4,1134.8 1763.0,1133.6 1763.6,1137.4 1764.3,1135.9 1764.9,1136.0 1765.6,1136.9 1766.2,1140.0 1766.9,1140.8 1767.5,1136.5 1768.1,1137.5 1768.8,1138.9 1769.4,1144.1 1770.1,1141.5 1770.7,1141.6 1771.3,1142.3 1772.0,1143.5 1772.6,1142.8 1773.3,1144.5 1773.9,1142.4 1774.6,1146.4 1775.2,1142.8 1775.8,1140.6 1776.5,1138.2 1777.1,1138.8 1777.8,1139.0 1778.4,1142.3 1779.1,1144.0 1779.7,1137.2 1780.3,1140.7 1781.0,1142.1 1781.6,1140.8 1782.3,1141.6 1782.9,1141.5 1783.5,1136.4 1784.2,1142.7 1784.8,1141.7 1785.5,1141.8 1786.1,1141.2 1786.8,1141.1 1787.4,1144.1 1788.0,1141.7 1788.7,1143.0 1789.3,1142.2 1790.0,1144.0 1790.6,1142.9 1791.3,1144.8 1791.9,1143.5 1792.5,1144.4 1793.2,1146.9 1793.8,1147.3 1794.5,1146.3 1795.1,1143.9 1795.7,1143.7 1796.4,1139.7 1797.0,1145.9 1797.7,1143.7 1798.3,1145.2 1799.0,1147.5 1799.6,1144.7 1800.2,1150.2 1800.9,1147.5 1801.5,1150.2 1802.2,1147.5 1802.8,1149.3 1803.4,1151.7 1804.1,1148.9 1804.7,1147.8 1805.4,1147.9 1806.0,1148.8 1806.7,1155.9 1807.3,1148.6 1807.9,1145.6 1808.6,1147.3 1809.2,1145.8 1809.9,1149.4 1810.5,1150.0 1811.2,1147.9 1811.8,1147.9 1812.4,1146.8 1813.1,1152.7 1813.7,1150.7 1814.4,1152.9 1815.0,1154.8 1815.6,1150.4 1816.3,1152.0 1816.9,1152.3 1817.6,1153.5 1818.2,1149.3 1818.9,1151.6 1819.5,1152.5 1820.1,1150.3 1820.8,1150.8 1821.4,1150.0 1822.1,1146.5 1822.7,1149.3 1823.4,1148.3 1824.0,1148.5 1824.6,1149.0 1825.3,1149.0 1825.9,1143.8 1826.6,1149.8 1827.2,1147.7 1827.8,1150.8 1828.5,1150.1 1829.1,1151.6 1829.8,1156.0 1830.4,1154.1 1831.1,1152.7 1831.7,1154.6 1832.3,1155.3 1833.0,1155.0 1833.6,1149.1 1834.3,1151.7 1834.9,1153.8 1835.5,1154.9 1836.2,1155.5 1836.8,1150.3 1837.5,1154.5 1838.1,1151.7 1838.8,1153.4 1839.4,1151.8 1840.0,1152.1 1840.7,1155.3 1841.3,1152.9 1842.0,1152.7 1842.6,1155.3 1843.3,1154.5 1843.9,1148.5 1844.5,1151.2 1845.2,1151.8 1845.8,1155.4 1846.5,1158.0 1847.1,1153.5 1847.7,1154.2 1848.4,1155.8 1849.0,1156.0 1849.7,1154.6 1850.3,1156.3 1851.0,1154.2 1851.6,1150.5 1852.2,1153.0 1852.9,1154.6 1853.5,1156.5 1854.2,1150.5 1854.8,1151.6 1855.5,1154.4 1856.1,1148.5 1856.7,1155.1 1857.4,1156.1 1858.0,1149.1 1858.7,1156.0 1859.3,1155.6 1859.9,1159.9 1860.6,1158.6 1861.2,1159.1 1861.9,1161.3 1862.5,1162.7 1863.2,1160.9 1863.8,1157.8 1864.4,1154.4 1865.1,1158.0 1865.7,1156.9 1866.4,1160.1 1867.0,1157.6 1867.6,1158.9 1868.3,1160.3 1868.9,1162.2 1869.6,1160.8 1870.2,1160.8 1870.9,1166.7 1871.5,1165.9 1872.1,1161.9 1872.8,1160.4 1873.4,1164.3 1874.1,1162.4 1874.7,1168.4 1875.4,1161.7 1876.0,1164.2 1876.6,1160.8 1877.3,1163.7 1877.9,1165.1 1878.6,1162.7 1879.2,1162.2 1879.8,1167.9 1880.5,1165.8 1881.1,1163.2 1881.8,1162.5 1882.4,1164.7 1883.1,1167.0 1883.7,1162.6 1884.3,1163.7 1885.0,1162.2 1885.6,1167.4 1886.3,1165.9 1886.9,1168.9 1887.6,1169.8 1888.2,1168.3 1888.8,1171.0 1889.5,1172.0 1890.1,1167.2 1890.8,1171.4 1891.4,1175.0 1892.0,1167.2 1892.7,1168.6 1893.3,1164.9 1894.0,1168.4 1894.6,1167.1 1895.3,1169.0 1895.9,1169.3 1896.5,1167.1 1897.2,1171.9 1897.8,1171.4 1898.5,1171.0 1899.1,1173.9 1899.7,1172.3 1900.4,1175.3 1901.0,1177.1 1901.7,1178.8 1902.3,1182.2 1903.0,1178.3 1903.6,1183.5 1904.2,1179.3 1904.9,1184.6 1905.5,1182.3 1906.2,1181.2 1906.8,1177.4 1907.5,1181.2 1908.1,1178.7 1908.7,1180.0 1909.4,1183.4 1910.0,1180.7 1910.7,1181.5 1911.3,1184.4 1911.9,1186.4 1912.6,1184.5 1913.2,1183.7 1913.9,1182.9 1914.5,1184.7 1915.2,1185.2 1915.8,1182.0 1916.4,1183.0 1917.1,1184.6 1917.7,1187.2 1918.4,1190.5 1919.0,1187.7 1919.7,1187.8 1920.3,1188.3 1920.9,1184.1 1921.6,1184.1 1922.2,1183.4 1922.9,1182.9 1923.5,1183.4 1924.1,1183.0 1924.8,1187.6 1925.4,1182.3 1926.1,1184.1 1926.7,1185.6 1927.4,1185.6 1928.0,1185.3 1928.6,1186.2 1929.3,1188.1 1929.9,1187.6 1930.6,1189.0 1931.2,1188.0 1931.8,1189.8 1932.5,1186.5 1933.1,1188.5 1933.8,1185.9 1934.4,1189.5 1935.1,1184.8 1935.7,1185.5 1936.3,1182.9 1937.0,1183.7 1937.6,1182.7 1938.3,1183.9 1938.9,1188.4 1939.6,1185.1 1940.2,1189.4 1940.8,1194.3 1941.5,1188.3 1942.1,1189.7 1942.8,1185.0 1943.4,1187.4 1944.0,1185.2 1944.7,1189.0 1945.3,1185.7 1946.0,1183.1 1946.6,1184.6 1947.3,1185.1 1947.9,1185.9 1948.5,1187.5 1949.2,1186.6 1949.8,1187.1 1950.5,1189.3 1951.1,1190.7 1951.8,1186.8 1952.4,1193.1 1953.0,1193.5 1953.7,1188.3 1954.3,1193.0 1955.0,1186.6 1955.6,1188.7 1956.2,1191.4 1956.9,1185.9 1957.5,1184.5 1958.2,1186.0 1958.8,1187.7 1959.5,1189.2 1960.1,1188.6 1960.7,1189.0 1961.4,1189.0 1962.0,1190.7 1962.7,1187.7 1963.3,1188.5 1963.9,1189.0 1964.6,1188.4 1965.2,1193.2 1965.9,1186.9 1966.5,1188.6 1967.2,1186.3 1967.8,1189.0 1968.4,1189.3 1969.1,1189.5 1969.7,1190.3 1970.4,1187.1 1971.0,1194.3 1971.7,1190.0 1972.3,1187.9 1972.9,1185.5 1973.6,1191.2 1974.2,1189.7 1974.9,1188.1 1975.5,1189.2 1976.1,1191.1 1976.8,1187.7 1977.4,1188.4 1978.1,1188.8 1978.7,1189.9 1979.4,1187.0 1980.0,1184.9 1980.6,1187.7 1981.3,1183.7 1981.9,1185.5 1982.6,1188.5 1983.2,1187.2 1983.9,1188.5 1984.5,1188.0 1985.1,1188.5 1985.8,1187.5 1986.4,1182.2 1987.1,1186.2 1987.7,1180.2 1988.3,1181.7 1989.0,1188.6 1989.6,1188.8 1990.3,1186.6 1990.9,1188.6 1991.6,1190.8 1992.2,1191.9 1992.8,1188.6 1993.5,1188.6 1994.1,1190.0 1994.8,1190.8 1995.4,1191.0 1996.0,1189.9 1996.7,1192.5 1997.3,1189.8 1998.0,1191.6 1998.6,1189.8 1999.3,1189.7 1999.9,1192.3 2000.5,1189.0 2001.2,1186.9 2001.8,1188.2 2002.5,1186.4 2003.1,1189.3 2003.8,1188.9 2004.4,1191.4 2005.0,1188.7 2005.7,1192.2 2006.3,1196.0 2007.0,1192.0 2007.6,1194.4 2008.2,1196.1 2008.9,1190.9 2009.5,1194.7 2010.2,1193.9 2010.8,1195.0 2011.5,1196.5 2012.1,1194.4 2012.7,1192.2 2013.4,1192.5 2014.0,1189.9 2014.7,1190.8 2015.3,1184.7 2016.0,1191.8 2016.6,1189.0 2017.2,1191.7 2017.9,1189.5 2018.5,1189.3 2019.2,1189.0 2019.8,1190.5 2020.4,1187.3 2021.1,1189.2 2021.7,1191.9 2022.4,1190.2 2023.0,1190.9 2023.7,1196.6 2024.3,1194.6 2024.9,1195.5 2025.6,1192.8 2026.2,1193.5 2026.9,1194.5 2027.5,1192.3 2028.1,1191.3 2028.8,1189.3 2029.4,1191.0 2030.1,1188.6 2030.7,1193.5 2031.4,1190.1 2032.0,1192.1 2032.6,1193.4 2033.3,1192.5 2033.9,1193.1 2034.6,1192.6 2035.2,1191.0 2035.9,1195.5 2036.5,1191.8 2037.1,1191.4 2037.8,1191.3 2038.4,1191.3 2039.1,1190.8 2039.7,1193.9 2040.3,1191.7 2041.0,1192.4 2041.6,1191.2 2042.3,1193.9 2042.9,1190.1 2043.6,1193.3 2044.2,1192.5 2044.8,1188.8 2045.5,1192.7 2046.1,1193.3 2046.8,1191.9 2047.4,1192.5 2048.1,1193.1 2048.7,1193.6 2049.3,1191.9 2050.0,1191.6 2050.6,1192.3 2051.3,1194.0 2051.9,1193.7 2052.5,1194.3 2053.2,1194.7 2053.8,1191.5 2054.5,1193.7 2055.1,1192.1 2055.8,1197.4 2056.4,1190.9 2057.0,1195.3 2057.7,1197.2 2058.3,1191.8 2059.0,1192.5 2059.6,1193.8 2060.2,1195.4 2060.9,1190.9 2061.5,1193.3 2062.2,1193.9 2062.8,1192.7 2063.5,1190.1 2064.1,1190.9 2064.7,1189.6 2065.4,1191.4 2066.0,1191.8 2066.7,1193.0 2067.3,1192.7 2068.0,1193.4 2068.6,1191.9 2069.2,1193.8 2069.9,1189.9 2070.5,1190.8 2071.2,1191.2" fill="none" stroke="#000000" stroke-width="7" stroke-linejoin="round" stroke-linecap="round" shape-rendering="crispEdges"/>
<path d="M150.3,1446.4 150.9,1447.7 151.6,1447.6 152.2,1446.9 152.9,1447.9 153.5,1444.8 154.2,1446.3 154.8,1445.2 155.4,1445.8 156.1,1446.2 156.7,1447.3 157.4,1448.7 158.0,1446.4 158.6,1448.5 159.3,1447.2 159.9,1450.5 160.6,1451.1 161.2,1449.6 161.9,1447.3 162.5,1447.8 163.1,1447.2 163.8,1446.8 164.4,1446.7 165.1,1445.9 165.7,1444.9 166.3,1445.4 167.0,1446.0 167.6,1445.1 168.3,1447.0 168.9,1444.5 169.6,1448.0 170.2,1447.3 170.8,1447.2 171.5,1446.0 172.1,1448.7 172.8,1448.8 173.4,1449.6 174.1,1448.5 174.7,1448.4 175.3,1451.0 176.0,1449.9 176.6,1448.1 177.3,1449.6 177.9,1448.5 178.5,1448.3 179.2,1449.2 179.8,1447.6 180.5,1446.6 181.1,1448.3 181.8,1449.1 182.4,1447.5 183.0,1448.7 183.7,1448.6 184.3,1447.2 185.0,1448.2 185.6,1448.4 186.3,1448.6 186.9,1449.5 187.5,1450.9 188.2,1452.3 188.8,1449.7 189.5,1449.8 190.1,1450.9 190.7,1448.2 191.4,1448.0 192.0,1447.4 192.7,1449.6 193.3,1449.7 194.0,1447.4 194.6,1446.9 195.2,1448.9 195.9,1448.0 196.5,1448.3 197.2,1448.5 197.8,1449.3 198.4,1449.3 199.1,1449.9 199.7,1448.3 200.4,1447.9 201.0,1450.8 201.7,1451.2 202.3,1451.2 202.9,1449.8 203.6,1448.6 204.2,1448.1 204.9,1444.9 205.5,1444.0 206.2,1445.7 206.8,1445.9 207.4,1443.6 208.1,1448.2 208.7,1446.4 209.4,1448.3 210.0,1449.3 210.6,1449.4 211.3,1447.1 211.9,1449.7 212.6,1448.1 213.2,1448.1 213.9,1447.8 214.5,1445.4 215.1,1446.1 215.8,1447.7 216.4,1446.6 217.1,1446.5 217.7,1446.3 218.4,1446.6 219.0,1448.3 219.6,1447.7 220.3,1446.1 220.9,1447.4 221.6,1449.5 222.2,1446.7 222.8,1446.9 223.5,1444.7 224.1,1448.0 224.8,1448.2 225.4,1449.2 226.1,1447.6 226.7,1446.4 227.3,1448.6 228.0,1447.5 228.6,1445.6 229.3,1445.2 229.9,1447.0 230.5,1446.1 231.2,1448.6 231.8,1445.5 232.5,1446.2 233.1,1446.8 233.8,1445.4 234.4,1445.7 235.0,1449.0 235.7,1447.8 236.3,1447.4 237.0,1446.3 237.6,1448.2 238.3,1447.7 238.9,1447.3 239.5,1446.1 240.2,1446.5 240.8,1447.0 241.5,1445.1 242.1,1446.9 242.7,1443.8 243.4,1444.2 244.0,1444.9 244.7,1444.6 245.3,1442.9 246.0,1445.7 246.6,1446.3 247.2,1446.3 247.9,1445.8 248.5,1446.1 249.2,1446.1 249.8,1444.4 250.5,1445.3 251.1,1446.2 251.7,1442.8 252.4,1445.1 253.0,1444.5 253.7,1444.4 254.3,1444.3 254.9,1445.7 255.6,1446.8 256.2,1446.6 256.9,1443.4 257.5,1444.6 258.2,1444.6 258.8,1444.7 259.4,1444.2 260.1,1443.9 260.7,1444.4 261.4,1445.5 262.0,1443.7 262.6,1445.1 263.3,1444.6 263.9,1443.0 264.6,1444.7 265.2,1449.0 265.9,1444.5 266.5,1444.2 267.1,1445.5 267.8,1447.6 268.4,1445.0 269.1,1444.3 269.7,1443.2 270.4,1443.6 271.0,1444.7 271.6,1444.5 272.3,1443.6 272.9,1444.6 273.6,1444.5 274.2,1442.2 274.8,1443.1 275.5,1443.3 276.1,1441.8 276.8,1442.7 277.4,1441.8 278.1,1441.8 278.7,1441.7 279.3,1441.9 280.0,1445.1 280.6,1442.9 281.3,1445.3 281.9,1444.5 282.6,1444.9 283.2,1444.6 283.8,1443.1 284.5,1442.9 285.1,1443.3 285.8,1443.1 286.4,1441.7 287.0,1442.7 287.7,1443.7 288.3,1444.2 289.0,1442.8 289.6,1441.3 290.3,1442.6 290.9,1442.3 291.5,1442.3 292.2,1444.2 292.8,1441.2 293.5,1442.4 294.1,1441.1 294.7,1442.1 295.4,1442.6 296.0,1444.8 296.7,1443.3 297.3,1443.7 298.0,1445.9 298.6,1442.6 299.2,1444.4 299.9,1444.1 300.5,1444.1 301.2,1443.0 301.8,1443.1 302.5,1443.1 303.1,1444.4 303.7,1441.5 304.4,1443.4 305.0,1443.4 305.7,1443.1 306.3,1441.2 306.9,1442.9 307.6,1442.1 308.2,1443.7 308.9,1445.0 309.5,1443.7 310.2,1440.8 310.8,1442.6 311.4,1441.4 312.1,1443.4 312.7,1444.4 313.4,1442.6 314.0,1443.9 314.7,1443.6 315.3,1442.8 315.9,1441.7 316.6,1442.3 317.2,1439.9 317.9,1442.3 318.5,1440.9 319.1,1442.2 319.8,1441.7 320.4,1439.1 321.1,1441.5 321.7,1441.8 322.4,1442.3 323.0,1440.0 323.6,1440.0 324.3,1440.9 324.9,1439.7 325.6,1440.0 326.2,1441.1 326.8,1445.1 327.5,1441.3 328.1,1441.3 328.8,1441.2 329.4,1441.8 330.1,1442.8 330.7,1441.1 331.3,1441.2 332.0,1440.8 332.6,1440.2 333.3,1438.7 333.9,1436.9 334.6,1441.9 335.2,1439.1 335.8,1440.6 336.5,1438.1 337.1,1438.9 337.8,1438.5 338.4,1437.2 339.0,1437.8 339.7,1438.3 340.3,1439.2 341.0,1439.8 341.6,1440.1 342.3,1438.9 342.9,1438.9 343.5,1436.6 344.2,1439.4 344.8,1442.0 345.5,1440.4 346.1,1441.1 346.8,1440.9 347.4,1440.6 348.0,1443.4 348.7,1440.7 349.3,1441.0 350.0,1439.5 350.6,1439.1 351.2,1436.4 351.9,1439.8 352.5,1438.5 353.2,1438.3 353.8,1442.3 354.5,1441.7 355.1,1441.5 355.7,1441.3 356.4,1439.9 357.0,1440.1 357.7,1439.1 358.3,1439.6 358.9,1440.3 359.6,1436.5 360.2,1440.3 360.9,1439.0 361.5,1441.2 362.2,1441.9 362.8,1439.7 363.4,1440.6 364.1,1440.5 364.7,1439.2 365.4,1439.3 366.0,1438.6 366.7,1435.9 367.3,1437.0 367.9,1439.0 368.6,1438.6 369.2,1437.4 369.9,1438.8 370.5,1441.8 371.1,1441.6 371.8,1440.6 372.4,1439.3 373.1,1439.9 373.7,1439.9 374.4,1439.0 375.0,1439.2 375.6,1439.9 376.3,1439.2 376.9,1435.2 377.6,1438.2 378.2,1436.2 378.9,1437.3 379.5,1436.3 380.1,1437.4 380.8,1439.8 381.4,1434.8 382.1,1441.0 382.7,1440.0 383.3,1437.7 384.0,1436.9 384.6,1439.0 385.3,1437.0 385.9,1439.4 386.6,1438.4 387.2,1437.8 387.8,1439.0 388.5,1436.3 389.1,1437.6 389.8,1436.7 390.4,1435.3 391.0,1435.0 391.7,1434.9 392.3,1431.7 393.0,1434.2 393.6,1434.4 394.3,1434.5 394.9,1432.9 395.5,1433.3 396.2,1433.8 396.8,1434.0 397.5,1434.8 398.1,1432.2 398.8,1432.1 399.4,1432.4 400.0,1433.3 400.7,1433.2 401.3,1432.2 402.0,1435.0 402.6,1436.0 403.2,1435.5 403.9,1433.4 404.5,1433.9 405.2,1436.4 405.8,1433.6 406.5,1433.5 407.1,1431.9 407.7,1433.3 408.4,1432.9 409.0,1433.7 409.7,1431.1 410.3,1431.4 411.0,1430.1 411.6,1431.3 412.2,1430.5 412.9,1430.8 413.5,1430.3 414.2,1433.3 414.8,1430.0 415.4,1430.2 416.1,1428.5 416.7,1432.3 417.4,1433.8 418.0,1430.3 418.7,1431.1 419.3,1430.8 419.9,1430.9 420.6,1430.6 421.2,1427.9 421.9,1427.8 422.5,1427.6 423.1,1427.5 423.8,1426.2 424.4,1428.1 425.1,1426.3 425.7,1426.6 426.4,1425.8 427.0,1424.6 427.6,1426.4 428.3,1425.3 428.9,1427.4 429.6,1428.3 430.2,1427.2 430.9,1427.9 431.5,1426.6 432.1,1429.9 432.8,1425.9 433.4,1424.3 434.1,1425.6 434.7,1424.4 435.3,1423.4 436.0,1422.8 436.6,1422.2 437.3,1423.4 437.9,1423.3 438.6,1423.0 439.2,1423.5 439.8,1423.8 440.5,1425.6 441.1,1424.8 441.8,1425.3 442.4,1424.1 443.1,1423.8 443.7,1425.3 444.3,1426.0 445.0,1426.4 445.6,1424.2 446.3,1424.3 446.9,1424.8 447.5,1421.9 448.2,1421.2 448.8,1421.6 449.5,1419.0 450.1,1420.8 450.8,1420.8 451.4,1420.3 452.0,1420.3 452.7,1417.9 453.3,1419.4 454.0,1418.1 454.6,1419.5 455.2,1418.5 455.9,1417.0 456.5,1420.1 457.2,1419.8 457.8,1418.6 458.5,1418.6 459.1,1418.0 459.7,1417.7 460.4,1420.4 461.0,1418.1 461.7,1416.0 462.3,1415.9 463.0,1415.5 463.6,1415.8 464.2,1418.5 464.9,1418.6 465.5,1417.4 466.2,1418.4 466.8,1414.9 467.4,1418.2 468.1,1418.2 468.7,1418.8 469.4,1416.5 470.0,1416.7 470.7,1416.9 471.3,1415.8 471.9,1418.1 472.6,1416.6 473.2,1417.7 473.9,1417.8 474.5,1417.2 475.2,1417.4 475.8,1418.5 476.4,1420.1 477.1,1418.1 477.7,1417.4 478.4,1415.8 479.0,1416.0 479.6,1415.5 480.3,1416.5 480.9,1414.1 481.6,1414.5 482.2,1413.4 482.9,1413.3 483.5,1410.6 484.1,1414.8 484.8,1416.5 485.4,1414.2 486.1,1415.8 486.7,1414.5 487.3,1412.0 488.0,1414.2 488.6,1411.6 489.3,1410.5 489.9,1411.3 490.6,1410.8 491.2,1409.3 491.8,1411.7 492.5,1406.9 493.1,1408.3 493.8,1407.9 494.4,1408.3 495.1,1406.9 495.7,1405.6 496.3,1409.6 497.0,1406.8 497.6,1405.3 498.3,1403.8 498.9,1406.3 499.5,1406.0 500.2,1406.0 500.8,1407.6 501.5,1405.5 502.1,1404.2 502.8,1404.6 503.4,1406.9 504.0,1405.4 504.7,1405.5 505.3,1404.1 506.0,1405.5 506.6,1406.5 507.3,1402.1 507.9,1400.8 508.5,1396.8 509.2,1399.7 509.8,1397.6 510.5,1396.5 511.1,1395.3 511.7,1392.5 512.4,1392.4 513.0,1394.5 513.7,1393.8 514.3,1392.5 515.0,1394.6 515.6,1393.3 516.2,1395.4 516.9,1392.0 517.5,1390.2 518.2,1390.8 518.8,1389.2 519.4,1391.3 520.1,1388.8 520.7,1388.3 521.4,1391.2 522.0,1391.0 522.7,1391.5 523.3,1391.1 523.9,1389.7 524.6,1390.4 525.2,1389.7 525.9,1387.1 526.5,1387.6 527.2,1387.9 527.8,1385.9 528.4,1385.8 529.1,1386.6 529.7,1385.5 530.4,1385.2 531.0,1382.3 531.6,1385.4 532.3,1384.9 532.9,1385.8 533.6,1382.7 534.2,1383.0 534.9,1382.8 535.5,1386.2 536.1,1385.8 536.8,1383.2 537.4,1385.1 538.1,1386.0 538.7,1385.4 539.4,1383.7 540.0,1384.2 540.6,1382.8 541.3,1380.7 541.9,1381.7 542.6,1381.2 543.2,1379.1 543.8,1380.5 544.5,1381.9 545.1,1378.0 545.8,1381.1 546.4,1380.0 547.1,1378.1 547.7,1377.9 548.3,1377.3 549.0,1378.6 549.6,1374.2 550.3,1375.4 550.9,1372.7 551.5,1376.2 552.2,1375.2 552.8,1371.0 553.5,1371.5 554.1,1373.4 554.8,1370.2 555.4,1369.1 556.0,1366.4 556.7,1370.8 557.3,1373.5 558.0,1371.1 558.6,1370.5 559.3,1371.3 559.9,1370.7 560.5,1370.5 561.2,1370.4 561.8,1368.6 562.5,1372.8 563.1,1373.6 563.7,1370.4 564.4,1370.8 565.0,1367.5 565.7,1368.0 566.3,1369.6 567.0,1366.0 567.6,1367.0 568.2,1368.6 568.9,1366.1 569.5,1371.3 570.2,1368.5 570.8,1366.9 571.5,1366.2 572.1,1362.0 572.7,1361.6 573.4,1363.5 574.0,1363.3 574.7,1362.8 575.3,1360.5 575.9,1359.7 576.6,1362.2 577.2,1356.6 577.9,1357.7 578.5,1356.2 579.2,1354.4 579.8,1355.6 580.4,1355.4 581.1,1357.5 581.7,1359.3 582.4,1355.6 583.0,1351.8 583.6,1352.0 584.3,1351.1 584.9,1351.1 585.6,1349.9 586.2,1349.0 586.9,1344.9 587.5,1346.1 588.1,1347.3 588.8,1348.1 589.4,1346.0 590.1,1345.7 590.7,1345.1 591.4,1343.6 592.0,1345.8 592.6,1343.6 593.3,1341.6 593.9,1344.4 594.6,1344.2 595.2,1340.9 595.8,1341.3 596.5,1341.0 597.1,1339.1 597.8,1338.7 598.4,1337.6 599.1,1332.7 599.7,1332.8 600.3,1334.3 601.0,1331.6 601.6,1331.1 602.3,1327.1 602.9,1328.0 603.6,1327.5 604.2,1327.1 604.8,1322.6 605.5,1323.3 606.1,1324.3 606.8,1323.1 607.4,1320.4 608.0,1319.1 608.7,1317.2 609.3,1321.5 610.0,1317.0 610.6,1316.2 611.3,1314.5 611.9,1314.1 612.5,1314.7 613.2,1310.9 613.8,1308.8 614.5,1310.4 615.1,1307.3 615.7,1302.6 616.4,1301.3 617.0,1299.4 617.7,1297.0 618.3,1298.8 619.0,1295.6 619.6,1293.6 620.2,1294.1 620.9,1291.9 621.5,1293.6 622.2,1296.5 622.8,1290.8 623.5,1287.9 624.1,1291.1 624.7,1289.2 625.4,1290.3 626.0,1285.4 626.7,1285.3 627.3,1279.4 627.9,1277.3 628.6,1278.3 629.2,1275.3 629.9,1272.4 630.5,1269.4 631.2,1268.9 631.8,1267.9 632.4,1265.1 633.1,1262.9 633.7,1267.8 634.4,1260.4 635.0,1258.1 635.7,1254.8 636.3,1255.6 636.9,1249.3 637.6,1252.2 638.2,1246.6 638.9,1242.3 639.5,1242.9 640.1,1239.4 640.8,1240.6 641.4,1233.5 642.1,1235.2 642.7,1232.7 643.4,1230.6 644.0,1225.3 644.6,1225.6 645.3,1226.4 645.9,1221.0 646.6,1212.4 647.2,1212.7 647.8,1207.9 648.5,1206.2 649.1,1198.8 649.8,1200.7 650.4,1195.3 651.1,1195.4 651.7,1191.9 652.3,1186.3 653.0,1182.9 653.6,1184.5 654.3,1177.7 654.9,1176.6 655.6,1173.9 656.2,1172.6 656.8,1170.1 657.5,1169.5 658.1,1167.0 658.8,1164.5 659.4,1162.1 660.0,1157.7 660.7,1158.4 661.3,1152.3 662.0,1150.9 662.6,1145.7 663.3,1138.3 663.9,1137.8 664.5,1132.0 665.2,1129.1 665.8,1123.5 666.5,1121.4 667.1,1117.5 667.8,1110.7 668.4,1112.3 669.0,1105.8 669.7,1097.3 670.3,1097.1 671.0,1092.0 671.6,1093.9 672.2,1086.4 672.9,1084.7 673.5,1079.5 674.2,1077.4 674.8,1070.7 675.5,1066.3 676.1,1063.6 676.7,1059.6 677.4,1055.9 678.0,1051.1 678.7,1047.8 679.3,1046.5 679.9,1044.0 680.6,1043.9 681.2,1036.9 681.9,1039.0 682.5,1039.9 683.2,1033.9 683.8,1032.7 684.4,1032.1 685.1,1027.2 685.7,1024.7 686.4,1026.8 687.0,1022.9 687.7,1028.5 688.3,1020.2 688.9,1016.8 689.6,1014.0 690.2,1014.2 690.9,1009.7 691.5,1014.9 692.1,1014.4 692.8,1013.4 693.4,1010.0 694.1,1015.0 694.7,1015.0 695.4,1013.1 696.0,1014.3 696.6,1017.4 697.3,1017.3 697.9,1017.4 698.6,1017.7 699.2,1019.2 699.9,1017.0 700.5,1024.2 701.1,1023.7 701.8,1022.4 702.4,1024.9 703.1,1035.7 703.7,1035.2 704.3,1038.9 705.0,1035.9 705.6,1043.3 706.3,1043.2 706.9,1040.0 707.6,1044.9 708.2,1048.6 708.8,1051.4 709.5,1049.4 710.1,1048.3 710.8,1050.3 711.4,1057.8 712.0,1059.1 712.7,1059.6 713.3,1062.5 714.0,1067.6 714.6,1071.3 715.3,1072.5 715.9,1071.0 716.5,1078.0 717.2,1086.1 717.8,1085.7 718.5,1094.7 719.1,1093.0 719.8,1092.0 720.4,1097.4 721.0,1098.4 721.7,1097.4 722.3,1101.9 723.0,1102.3 723.6,1108.9 724.2,1109.5 724.9,1113.4 725.5,1114.5 726.2,1118.0 726.8,1122.1 727.5,1123.2 728.1,1125.6 728.7,1128.7 729.4,1130.7 730.0,1128.1 730.7,1131.3 731.3,1136.5 732.0,1134.9 732.6,1136.2 733.2,1140.8 733.9,1149.3 734.5,1148.9 735.2,1155.1 735.8,1152.9 736.4,1159.4 737.1,1156.5 737.7,1159.0 738.4,1161.7 739.0,1167.1 739.7,1166.3 740.3,1169.2 740.9,1165.6 741.6,1165.6 742.2,1171.6 742.9,1171.0 743.5,1172.6 744.1,1174.2 744.8,1172.8 745.4,1181.4 746.1,1179.6 746.7,1183.5 747.4,1183.3 748.0,1180.8 748.6,1181.4 749.3,1182.9 749.9,1188.6 750.6,1193.1 751.2,1192.2 751.9,1196.9 752.5,1190.8 753.1,1194.4 753.8,1195.0 754.4,1197.3 755.1,1195.6 755.7,1199.2 756.3,1200.9 757.0,1201.5 757.6,1203.1 758.3,1204.8 758.9,1202.2 759.6,1204.3 760.2,1205.9 760.8,1206.3 761.5,1203.6 762.1,1204.1 762.8,1204.6 763.4,1204.0 764.1,1202.8 764.7,1204.0 765.3,1199.9 766.0,1199.1 766.6,1198.8 767.3,1202.7 767.9,1204.9 768.5,1206.8 769.2,1205.9 769.8,1203.2 770.5,1202.7 771.1,1202.2 771.8,1202.6 772.4,1204.2 773.0,1198.9 773.7,1197.9 774.3,1201.1 775.0,1201.6 775.6,1201.1 776.2,1204.5 776.9,1200.8 777.5,1200.4 778.2,1199.6 778.8,1197.4 779.5,1198.1 780.1,1201.5 780.7,1201.3 781.4,1198.4 782.0,1196.8 782.7,1195.3 783.3,1196.0 784.0,1192.4 784.6,1196.3 785.2,1193.4 785.9,1192.5 786.5,1192.4 787.2,1189.2 787.8,1192.7 788.4,1192.7 789.1,1185.3 789.7,1190.1 790.4,1192.1 791.0,1191.3 791.7,1185.7 792.3,1187.4 792.9,1187.8 793.6,1184.4 794.2,1183.9 794.9,1181.9 795.5,1185.0 796.2,1181.8 796.8,1183.6 797.4,1179.0 798.1,1180.1 798.7,1179.4 799.4,1178.5 800.0,1174.3 800.6,1171.2 801.3,1169.9 801.9,1167.8 802.6,1169.2 803.2,1163.2 803.9,1164.7 804.5,1165.2 805.1,1156.6 805.8,1156.5 806.4,1150.1 807.1,1150.3 807.7,1147.7 808.3,1144.0 809.0,1139.3 809.6,1140.3 810.3,1143.4 810.9,1142.3 811.6,1138.7 812.2,1135.5 812.8,1134.3 813.5,1129.8 814.1,1125.1 814.8,1122.2 815.4,1120.3 816.1,1117.1 816.7,1112.0 817.3,1106.0 818.0,1101.5 818.6,1103.2 819.3,1097.3 819.9,1097.9 820.5,1090.1 821.2,1091.1 821.8,1088.0 822.5,1083.8 823.1,1082.2 823.8,1083.8 824.4,1080.7 825.0,1074.8 825.7,1072.3 826.3,1063.9 827.0,1068.1 827.6,1063.1 828.3,1054.0 828.9,1051.4 829.5,1040.3 830.2,1044.0 830.8,1037.3 831.5,1030.9 832.1,1026.0 832.7,1021.6 833.4,1013.0 834.0,1010.0 834.7,1007.2 835.3,1006.9 836.0,1001.3 836.6,997.7 837.2,996.7 837.9,990.6 838.5,993.7 839.2,988.5 839.8,982.1 840.4,983.5 841.1,983.8 841.7,980.5 842.4,981.4 843.0,970.3 843.7,972.4 844.3,965.6 844.9,966.9 845.6,966.1 846.2,957.6 846.9,956.6 847.5,958.9 848.2,957.3 848.8,956.9 849.4,963.0 850.1,968.8 850.7,964.5 851.4,967.2 852.0,975.9 852.6,969.5 853.3,970.0 853.9,970.4 854.6,975.7 855.2,979.5 855.9,986.7 856.5,992.5 857.1,1000.6 857.8,1005.0 858.4,1008.9 859.1,1012.4 859.7,1017.6 860.4,1024.3 861.0,1029.3 861.6,1035.3 862.3,1039.7 862.9,1048.0 863.6,1058.6 864.2,1059.9 864.8,1069.1 865.5,1071.8 866.1,1082.1 866.8,1089.6 867.4,1094.5 868.1,1098.8 868.7,1109.5 869.3,1111.4 870.0,1116.5 870.6,1125.2 871.3,1136.3 871.9,1142.0 872.5,1153.2 873.2,1162.5 873.8,1173.3 874.5,1180.0 875.1,1189.7 875.8,1199.5 876.4,1204.6 877.0,1212.7 877.7,1221.9 878.3,1233.1 879.0,1240.0 879.6,1247.5 880.3,1254.9 880.9,1255.6 881.5,1261.5 882.2,1264.3 882.8,1268.9 883.5,1269.1 884.1,1274.0 884.7,1280.8 885.4,1278.0 886.0,1281.2 886.7,1283.2 887.3,1284.2 888.0,1283.4 888.6,1288.7 889.2,1287.5 889.9,1290.8 890.5,1295.6 891.2,1296.2 891.8,1301.8 892.5,1301.7 893.1,1306.6 893.7,1304.8 894.4,1308.1 895.0,1307.5 895.7,1309.3 896.3,1310.3 896.9,1314.9 897.6,1313.7 898.2,1316.3 898.9,1317.6 899.5,1317.8 900.2,1322.3 900.8,1324.7 901.4,1322.2 902.1,1327.4 902.7,1327.3 903.4,1324.9 904.0,1327.5 904.6,1332.0 905.3,1333.5 905.9,1334.0 906.6,1338.0 907.2,1336.1 907.9,1336.3 908.5,1336.3 909.1,1341.3 909.8,1338.0 910.4,1339.3 911.1,1339.3 911.7,1339.0 912.4,1340.1 913.0,1341.1 913.6,1341.4 914.3,1342.2 914.9,1343.6 915.6,1341.9 916.2,1341.4 916.8,1342.7 917.5,1341.4 918.1,1346.3 918.8,1346.7 919.4,1347.1 920.1,1345.0 920.7,1346.6 921.3,1348.8 922.0,1348.4 922.6,1348.9 923.3,1350.4 923.9,1351.3 924.6,1350.8 925.2,1352.7 925.8,1354.2 926.5,1350.7 927.1,1350.0 927.8,1348.6 928.4,1351.5 929.0,1350.0 929.7,1351.7 930.3,1351.3 931.0,1350.7 931.6,1352.8 932.3,1351.9 932.9,1352.1 933.5,1349.8 934.2,1356.3 934.8,1354.4 935.5,1352.4 936.1,1352.6 936.7,1353.8 937.4,1352.4 938.0,1355.1 938.7,1353.0 939.3,1355.7 940.0,1357.1 940.6,1359.1 941.2,1356.5 941.9,1358.3 942.5,1359.3 943.2,1358.9 943.8,1359.5 944.5,1360.7 945.1,1363.2 945.7,1362.8 946.4,1360.9 947.0,1362.9 947.7,1359.4 948.3,1359.1 948.9,1362.5 949.6,1358.8 950.2,1358.1 950.9,1357.3 951.5,1358.9 952.2,1363.7 952.8,1360.7 953.4,1364.6 954.1,1362.8 954.7,1364.2 955.4,1363.6 956.0,1362.5 956.7,1360.4 957.3,1360.3 957.9,1359.9 958.6,1359.0 959.2,1361.9 959.9,1362.2 960.5,1360.9 961.1,1361.5 961.8,1360.7 962.4,1363.3 963.1,1362.7 963.7,1359.5 964.4,1362.2 965.0,1362.8 965.6,1362.4 966.3,1366.6 966.9,1366.0 967.6,1365.4 968.2,1366.9 968.8,1364.5 969.5,1363.4 970.1,1364.8 970.8,1363.7 971.4,1365.3 972.1,1363.7 972.7,1366.8 973.3,1367.2 974.0,1365.2 974.6,1365.3 975.3,1365.9 975.9,1367.2 976.6,1365.4 977.2,1365.5 977.8,1366.3 978.5,1368.8 979.1,1365.8 979.8,1367.8 980.4,1371.3 981.0,1370.3 981.7,1370.2 982.3,1371.5 983.0,1368.2 983.6,1372.8 984.3,1369.8 984.9,1367.2 985.5,1367.1 986.2,1366.1 986.8,1366.0 987.5,1364.3 988.1,1364.8 988.8,1363.8 989.4,1368.9 990.0,1364.8 990.7,1365.4 991.3,1365.9 992.0,1368.9 992.6,1368.2 993.2,1368.9 993.9,1366.3 994.5,1367.6 995.2,1367.6 995.8,1367.9 996.5,1369.6 997.1,1369.3 997.7,1370.2 998.4,1365.7 999.0,1367.9 999.7,1365.3 1000.3,1364.2 1000.9,1363.3 1001.6,1363.8 1002.2,1365.7 1002.9,1367.0 1003.5,1366.7 1004.2,1363.7 1004.8,1365.0 1005.4,1364.9 1006.1,1365.8 1006.7,1367.2 1007.4,1365.9 1008.0,1370.2 1008.7,1372.7 1009.3,1371.9 1009.9,1374.2 1010.6,1374.4 1011.2,1374.4 1011.9,1375.4 1012.5,1374.6 1013.1,1375.1 1013.8,1375.8 1014.4,1370.8 1015.1,1371.6 1015.7,1371.8 1016.4,1373.7 1017.0,1369.8 1017.6,1368.9 1018.3,1368.6 1018.9,1370.3 1019.6,1370.7 1020.2,1370.0 1020.9,1371.8 1021.5,1371.6 1022.1,1371.2 1022.8,1371.8 1023.4,1371.2 1024.1,1372.5 1024.7,1374.5 1025.3,1371.5 1026.0,1369.2 1026.6,1373.7 1027.3,1372.3 1027.9,1370.9 1028.6,1371.9 1029.2,1374.3 1029.8,1369.7 1030.5,1369.1 1031.1,1369.2 1031.8,1365.7 1032.4,1369.8 1033.0,1371.0 1033.7,1370.9 1034.3,1370.6 1035.0,1369.3 1035.6,1368.9 1036.3,1372.6 1036.9,1370.1 1037.5,1372.0 1038.2,1368.5 1038.8,1370.7 1039.5,1371.0 1040.1,1371.5 1040.8,1369.9 1041.4,1371.6 1042.0,1374.1 1042.7,1373.1 1043.3,1372.7 1044.0,1374.1 1044.6,1371.5 1045.2,1372.6 1045.9,1371.8 1046.5,1370.5 1047.2,1369.4 1047.8,1367.3 1048.5,1369.8 1049.1,1373.7 1049.7,1372.8 1050.4,1371.5 1051.0,1372.3 1051.7,1370.7 1052.3,1371.3 1053.0,1367.6 1053.6,1369.3 1054.2,1370.4 1054.9,1372.3 1055.5,1373.0 1056.2,1374.0 1056.8,1372.8 1057.4,1374.1 1058.1,1372.7 1058.7,1373.4 1059.4,1371.9 1060.0,1372.3 1060.7,1371.7 1061.3,1370.7 1061.9,1371.3 1062.6,1368.6 1063.2,1370.8 1063.9,1372.0 1064.5,1371.3 1065.1,1370.4 1065.8,1372.1 1066.4,1373.1 1067.1,1374.5 1067.7,1371.9 1068.4,1371.1 1069.0,1371.8 1069.6,1372.4 1070.3,1368.6 1070.9,1373.3 1071.6,1372.6 1072.2,1370.2 1072.9,1373.6 1073.5,1371.9 1074.1,1371.7 1074.8,1371.4 1075.4,1372.4 1076.1,1372.6 1076.7,1371.9 1077.3,1370.3 1078.0,1371.7 1078.6,1371.8 1079.3,1371.6 1079.9,1371.4 1080.6,1371.0 1081.2,1373.6 1081.8,1370.1 1082.5,1369.4 1083.1,1371.3 1083.8,1369.8 1084.4,1368.4 1085.1,1369.8 1085.7,1367.8 1086.3,1368.8 1087.0,1371.1 1087.6,1370.7 1088.3,1369.2 1088.9,1369.4 1089.5,1370.5 1090.2,1371.8 1090.8,1370.1 1091.5,1374.1 1092.1,1374.7 1092.8,1377.8 1093.4,1376.4 1094.0,1377.6 1094.7,1373.1 1095.3,1375.8 1096.0,1378.7 1096.6,1375.5 1097.2,1373.2 1097.9,1375.1 1098.5,1372.6 1099.2,1371.0 1099.8,1370.3 1100.5,1372.2 1101.1,1374.1 1101.7,1372.3 1102.4,1372.1 1103.0,1370.8 1103.7,1373.1 1104.3,1370.4 1105.0,1367.4 1105.6,1368.4 1106.2,1369.3 1106.9,1370.0 1107.5,1370.8 1108.2,1369.9 1108.8,1370.2 1109.4,1373.0 1110.1,1370.2 1110.7,1371.2 1111.4,1372.3 1112.0,1371.9 1112.7,1370.8 1113.3,1374.2 1113.9,1373.2 1114.6,1371.2 1115.2,1368.2 1115.9,1369.1 1116.5,1370.9 1117.2,1367.5 1117.8,1373.4 1118.4,1369.7 1119.1,1369.4 1119.7,1370.9 1120.4,1367.6 1121.0,1370.2 1121.6,1369.7 1122.3,1370.5 1122.9,1368.3 1123.6,1371.1 1124.2,1371.8 1124.9,1371.4 1125.5,1369.8 1126.1,1369.9 1126.8,1368.1 1127.4,1369.0 1128.1,1371.7 1128.7,1374.1 1129.3,1373.1 1130.0,1373.2 1130.6,1371.9 1131.3,1372.3 1131.9,1371.8 1132.6,1371.7 1133.2,1369.9 1133.8,1372.1 1134.5,1373.5 1135.1,1371.6 1135.8,1371.4 1136.4,1372.9 1137.1,1374.6 1137.7,1374.0 1138.3,1368.9 1139.0,1374.9 1139.6,1371.8 1140.3,1370.1 1140.9,1372.0 1141.5,1373.6 1142.2,1369.8 1142.8,1375.0 1143.5,1372.8 1144.1,1373.1 1144.8,1371.5 1145.4,1372.1 1146.0,1370.9 1146.7,1373.5 1147.3,1371.7 1148.0,1373.5 1148.6,1371.6 1149.3,1369.8 1149.9,1374.1 1150.5,1374.6 1151.2,1375.8 1151.8,1373.5 1152.5,1373.4 1153.1,1374.2 1153.7,1373.2 1154.4,1371.9 1155.0,1375.1 1155.7,1370.9 1156.3,1372.1 1157.0,1368.9 1157.6,1371.4 1158.2,1370.4 1158.9,1368.7 1159.5,1370.1 1160.2,1368.9 1160.8,1368.5 1161.4,1370.7 1162.1,1369.5 1162.7,1369.5 1163.4,1369.3 1164.0,1371.7 1164.7,1368.4 1165.3,1370.2 1165.9,1368.7 1166.6,1368.1 1167.2,1373.0 1167.9,1369.9 1168.5,1373.1 1169.2,1369.7 1169.8,1372.8 1170.4,1372.9 1171.1,1371.7 1171.7,1368.6 1172.4,1369.6 1173.0,1372.0 1173.6,1371.1 1174.3,1370.8 1174.9,1369.4 1175.6,1368.1 1176.2,1371.1 1176.9,1369.2 1177.5,1371.4 1178.1,1368.8 1178.8,1368.0 1179.4,1371.5 1180.1,1368.2 1180.7,1369.3 1181.4,1369.9 1182.0,1369.5 1182.6,1368.6 1183.3,1369.6 1183.9,1371.7 1184.6,1371.2 1185.2,1372.0 1185.8,1370.4 1186.5,1371.9 1187.1,1373.8 1187.8,1369.1 1188.4,1365.4 1189.1,1368.3 1189.7,1369.3 1190.3,1371.7 1191.0,1368.0 1191.6,1367.1 1192.3,1368.9 1192.9,1370.9 1193.5,1368.4 1194.2,1369.9 1194.8,1368.3 1195.5,1368.1 1196.1,1365.3 1196.8,1367.4 1197.4,1366.4 1198.0,1367.9 1198.7,1366.9 1199.3,1370.0 1200.0,1367.4 1200.6,1368.2 1201.3,1365.3 1201.9,1367.0 1202.5,1370.6 1203.2,1365.9 1203.8,1364.0 1204.5,1366.3 1205.1,1364.9 1205.7,1364.1 1206.4,1364.3 1207.0,1364.4 1207.7,1366.7 1208.3,1363.6 1209.0,1366.0 1209.6,1368.4 1210.2,1365.8 1210.9,1370.8 1211.5,1367.6 1212.2,1367.0 1212.8,1367.2 1213.5,1368.4 1214.1,1364.9 1214.7,1367.6 1215.4,1369.6 1216.0,1366.1 1216.7,1366.3 1217.3,1362.6 1217.9,1365.2 1218.6,1362.7 1219.2,1364.3 1219.9,1365.1 1220.5,1369.1 1221.2,1366.9 1221.8,1366.3 1222.4,1369.9 1223.1,1370.8 1223.7,1370.6 1224.4,1369.7 1225.0,1371.0 1225.6,1370.1 1226.3,1369.4 1226.9,1365.7 1227.6,1364.5 1228.2,1368.7 1228.9,1365.2 1229.5,1367.3 1230.1,1367.4 1230.8,1364.1 1231.4,1366.3 1232.1,1367.0 1232.7,1368.4 1233.4,1365.5 1234.0,1366.7 1234.6,1365.1 1235.3,1365.1 1235.9,1365.8 1236.6,1365.2 1237.2,1362.2 1237.8,1365.7 1238.5,1364.5 1239.1,1364.3 1239.8,1362.6 1240.4,1367.6 1241.1,1368.5 1241.7,1366.8 1242.3,1366.3 1243.0,1367.0 1243.6,1369.2 1244.3,1367.2 1244.9,1365.5 1245.6,1363.6 1246.2,1366.5 1246.8,1365.0 1247.5,1365.0 1248.1,1367.5 1248.8,1365.3 1249.4,1365.4 1250.0,1365.9 1250.7,1366.2 1251.3,1365.3 1252.0,1368.7 1252.6,1368.3 1253.3,1366.0 1253.9,1369.7 1254.5,1366.8 1255.2,1367.6 1255.8,1366.5 1256.5,1366.8 1257.1,1366.3 1257.7,1366.8 1258.4,1366.2 1259.0,1362.6 1259.7,1365.1 1260.3,1365.9 1261.0,1366.2 1261.6,1363.1 1262.2,1363.8 1262.9,1363.7 1263.5,1360.8 1264.2,1363.0 1264.8,1365.3 1265.5,1362.6 1266.1,1363.8 1266.7,1364.6 1267.4,1365.3 1268.0,1365.3 1268.7,1366.2 1269.3,1365.8 1269.9,1366.5 1270.6,1366.7 1271.2,1367.0 1271.9,1366.7 1272.5,1367.9 1273.2,1366.6 1273.8,1362.4 1274.4,1361.0 1275.1,1364.2 1275.7,1362.5 1276.4,1360.0 1277.0,1362.7 1277.7,1363.8 1278.3,1360.7 1278.9,1361.1 1279.6,1361.9 1280.2,1361.6 1280.9,1362.6 1281.5,1362.1 1282.1,1364.3 1282.8,1364.0 1283.4,1365.4 1284.1,1362.8 1284.7,1365.1 1285.4,1366.7 1286.0,1364.8 1286.6,1364.1 1287.3,1360.8 1287.9,1362.5 1288.6,1366.4 1289.2,1364.8 1289.8,1363.4 1290.5,1362.3 1291.1,1362.0 1291.8,1364.8 1292.4,1359.8 1293.1,1362.2 1293.7,1358.8 1294.3,1360.6 1295.0,1357.3 1295.6,1361.9 1296.3,1360.0 1296.9,1360.5 1297.6,1362.9 1298.2,1360.6 1298.8,1362.6 1299.5,1361.3 1300.1,1358.7 1300.8,1360.6 1301.4,1361.4 1302.0,1361.2 1302.7,1361.9 1303.3,1360.3 1304.0,1363.7 1304.6,1360.6 1305.3,1363.5 1305.9,1361.4 1306.5,1361.9 1307.2,1358.1 1307.8,1360.7 1308.5,1359.0 1309.1,1360.9 1309.8,1361.8 1310.4,1359.8 1311.0,1359.4 1311.7,1360.2 1312.3,1356.9 1313.0,1358.5 1313.6,1358.2 1314.2,1360.5 1314.9,1358.3 1315.5,1361.6 1316.2,1361.5 1316.8,1356.0 1317.5,1360.1 1318.1,1355.9 1318.7,1359.8 1319.4,1357.1 1320.0,1359.3 1320.7,1360.0 1321.3,1357.1 1321.9,1354.6 1322.6,1358.7 1323.2,1356.6 1323.9,1357.6 1324.5,1358.9 1325.2,1357.2 1325.8,1357.3 1326.4,1356.6 1327.1,1359.2 1327.7,1357.8 1328.4,1356.5 1329.0,1357.6 1329.7,1356.9 1330.3,1355.2 1330.9,1357.6 1331.6,1358.9 1332.2,1358.6 1332.9,1360.7 1333.5,1360.2 1334.1,1359.0 1334.8,1355.7 1335.4,1358.1 1336.1,1359.5 1336.7,1356.8 1337.4,1358.9 1338.0,1355.1 1338.6,1356.9 1339.3,1357.2 1339.9,1357.5 1340.6,1353.9 1341.2,1356.7 1341.9,1353.3 1342.5,1350.9 1343.1,1352.4 1343.8,1353.7 1344.4,1353.1 1345.1,1356.0 1345.7,1352.8 1346.3,1356.6 1347.0,1350.7 1347.6,1358.1 1348.3,1352.7 1348.9,1354.8 1349.6,1353.9 1350.2,1355.6 1350.8,1354.7 1351.5,1354.0 1352.1,1354.3 1352.8,1355.6 1353.4,1354.0 1354.0,1356.0 1354.7,1353.3 1355.3,1352.6 1356.0,1351.7 1356.6,1355.8 1357.3,1355.3 1357.9,1352.6 1358.5,1352.6 1359.2,1351.2 1359.8,1355.0 1360.5,1357.1 1361.1,1353.1 1361.8,1353.6 1362.4,1353.6 1363.0,1354.1 1363.7,1354.4 1364.3,1348.9 1365.0,1350.2 1365.6,1351.8 1366.2,1350.3 1366.9,1353.1 1367.5,1352.5 1368.2,1348.7 1368.8,1349.7 1369.5,1352.1 1370.1,1348.1 1370.7,1348.1 1371.4,1347.5 1372.0,1349.7 1372.7,1349.6 1373.3,1350.0 1374.0,1350.0 1374.6,1347.8 1375.2,1351.9 1375.9,1350.1 1376.5,1349.5 1377.2,1354.0 1377.8,1352.6 1378.4,1352.9 1379.1,1353.3 1379.7,1354.5 1380.4,1351.3 1381.0,1352.6 1381.7,1347.3 1382.3,1349.0 1382.9,1354.2 1383.6,1354.3 1384.2,1350.7 1384.9,1348.6 1385.5,1347.0 1386.1,1346.1 1386.8,1346.7 1387.4,1345.2 1388.1,1347.9 1388.7,1349.1 1389.4,1348.1 1390.0,1348.8 1390.6,1349.9 1391.3,1350.3 1391.9,1349.5 1392.6,1349.0 1393.2,1343.4 1393.9,1344.5 1394.5,1344.8 1395.1,1345.5 1395.8,1345.9 1396.4,1344.9 1397.1,1348.1 1397.7,1350.1 1398.3,1347.7 1399.0,1349.8 1399.6,1348.2 1400.3,1346.8 1400.9,1346.0 1401.6,1346.8 1402.2,1349.0 1402.8,1345.8 1403.5,1343.8 1404.1,1345.0 1404.8,1347.2 1405.4,1343.9 1406.1,1346.1 1406.7,1347.1 1407.3,1346.8 1408.0,1347.9 1408.6,1342.1 1409.3,1342.3 1409.9,1343.2 1410.5,1343.9 1411.2,1340.0 1411.8,1341.0 1412.5,1343.8 1413.1,1341.4 1413.8,1343.6 1414.4,1341.5 1415.0,1338.6 1415.7,1341.2 1416.3,1342.2 1417.0,1339.9 1417.6,1338.1 1418.2,1338.9 1418.9,1338.4 1419.5,1340.1 1420.2,1338.4 1420.8,1340.1 1421.5,1337.3 1422.1,1339.8 1422.7,1336.6 1423.4,1336.6 1424.0,1339.3 1424.7,1337.3 1425.3,1334.8 1426.0,1334.7 1426.6,1335.1 1427.2,1334.5 1427.9,1335.9 1428.5,1336.4 1429.2,1334.6 1429.8,1337.1 1430.4,1338.2 1431.1,1335.9 1431.7,1340.2 1432.4,1339.3 1433.0,1337.2 1433.7,1334.7 1434.3,1336.2 1434.9,1337.4 1435.6,1333.0 1436.2,1333.5 1436.9,1335.7 1437.5,1338.1 1438.2,1337.8 1438.8,1336.3 1439.4,1331.2 1440.1,1334.2 1440.7,1332.1 1441.4,1333.6 1442.0,1335.7 1442.6,1334.1 1443.3,1333.0 1443.9,1333.4 1444.6,1331.8 1445.2,1334.0 1445.9,1330.2 1446.5,1331.1 1447.1,1329.9 1447.8,1331.4 1448.4,1330.8 1449.1,1331.6 1449.7,1330.8 1450.3,1333.2 1451.0,1330.6 1451.6,1330.6 1452.3,1331.6 1452.9,1333.0 1453.6,1333.2 1454.2,1331.2 1454.8,1330.1 1455.5,1330.1 1456.1,1328.8 1456.8,1329.8 1457.4,1329.2 1458.1,1329.7 1458.7,1330.0 1459.3,1329.5 1460.0,1329.7 1460.6,1326.3 1461.3,1327.6 1461.9,1326.9 1462.5,1325.0 1463.2,1329.1 1463.8,1326.8 1464.5,1325.9 1465.1,1329.9 1465.8,1330.1 1466.4,1329.9 1467.0,1328.7 1467.7,1327.5 1468.3,1327.6 1469.0,1324.9 1469.6,1326.9 1470.3,1325.4 1470.9,1326.6 1471.5,1323.1 1472.2,1323.9 1472.8,1319.4 1473.5,1321.1 1474.1,1324.8 1474.7,1325.6 1475.4,1326.1 1476.0,1322.7 1476.7,1323.2 1477.3,1325.2 1478.0,1326.0 1478.6,1320.6 1479.2,1321.3 1479.9,1320.3 1480.5,1322.0 1481.2,1321.3 1481.8,1322.3 1482.4,1322.4 1483.1,1320.8 1483.7,1320.4 1484.4,1321.3 1485.0,1320.8 1485.7,1321.5 1486.3,1315.4 1486.9,1319.1 1487.6,1320.6 1488.2,1317.9 1488.9,1318.1 1489.5,1317.4 1490.2,1317.2 1490.8,1316.7 1491.4,1317.3 1492.1,1313.1 1492.7,1314.3 1493.4,1314.9 1494.0,1313.7 1494.6,1312.8 1495.3,1311.5 1495.9,1312.7 1496.6,1315.7 1497.2,1310.5 1497.9,1315.0 1498.5,1312.2 1499.1,1311.7 1499.8,1314.9 1500.4,1314.3 1501.1,1313.2 1501.7,1311.6 1502.4,1312.1 1503.0,1309.3 1503.6,1309.7 1504.3,1310.3 1504.9,1308.9 1505.6,1309.5 1506.2,1313.9 1506.8,1310.3 1507.5,1308.4 1508.1,1311.4 1508.8,1311.7 1509.4,1309.6 1510.1,1304.6 1510.7,1307.0 1511.3,1307.7 1512.0,1308.8 1512.6,1304.4 1513.3,1304.7 1513.9,1307.0 1514.5,1307.9 1515.2,1307.5 1515.8,1307.7 1516.5,1303.4 1517.1,1304.0 1517.8,1305.8 1518.4,1308.3 1519.0,1305.6 1519.7,1307.3 1520.3,1301.7 1521.0,1305.4 1521.6,1307.3 1522.3,1307.0 1522.9,1303.4 1523.5,1307.1 1524.2,1302.3 1524.8,1305.1 1525.5,1303.5 1526.1,1299.3 1526.7,1296.3 1527.4,1302.1 1528.0,1299.1 1528.7,1295.7 1529.3,1299.3 1530.0,1298.3 1530.6,1301.4 1531.2,1300.4 1531.9,1297.0 1532.5,1301.2 1533.2,1299.4 1533.8,1299.8 1534.5,1300.1 1535.1,1297.4 1535.7,1295.7 1536.4,1297.8 1537.0,1297.6 1537.7,1296.8 1538.3,1295.1 1538.9,1294.7 1539.6,1298.5 1540.2,1298.7 1540.9,1296.9 1541.5,1298.9 1542.2,1299.1 1542.8,1300.1 1543.4,1299.5 1544.1,1299.1 1544.7,1296.2 1545.4,1297.8 1546.0,1297.3 1546.6,1297.4 1547.3,1297.3 1547.9,1297.7 1548.6,1296.3 1549.2,1296.4 1549.9,1298.3 1550.5,1297.7 1551.1,1299.4 1551.8,1296.4 1552.4,1296.4 1553.1,1293.6 1553.7,1296.1 1554.4,1296.0 1555.0,1298.2 1555.6,1296.3 1556.3,1298.0 1556.9,1295.4 1557.6,1293.3 1558.2,1297.1 1558.8,1294.1 1559.5,1295.2 1560.1,1291.5 1560.8,1289.7 1561.4,1293.6 1562.1,1293.2 1562.7,1291.4 1563.3,1297.0 1564.0,1294.0 1564.6,1292.4 1565.3,1295.2 1565.9,1293.2 1566.6,1291.9 1567.2,1294.8 1567.8,1294.6 1568.5,1294.1 1569.1,1293.9 1569.8,1292.7 1570.4,1296.8 1571.0,1298.5 1571.7,1295.2 1572.3,1296.9 1573.0,1297.5 1573.6,1294.1 1574.3,1291.9 1574.9,1291.6 1575.5,1294.1 1576.2,1295.6 1576.8,1292.7 1577.5,1296.5 1578.1,1293.7 1578.7,1296.9 1579.4,1294.0 1580.0,1295.4 1580.7,1296.3 1581.3,1296.8 1582.0,1296.3 1582.6,1297.8 1583.2,1297.3 1583.9,1297.7 1584.5,1294.2 1585.2,1294.1 1585.8,1294.4 1586.5,1297.4 1587.1,1294.2 1587.7,1295.7 1588.4,1295.4 1589.0,1295.1 1589.7,1294.6 1590.3,1294.2 1590.9,1293.3 1591.6,1296.6 1592.2,1296.0 1592.9,1295.6 1593.5,1293.6 1594.2,1299.2 1594.8,1293.9 1595.4,1298.4 1596.1,1296.6 1596.7,1292.9 1597.4,1293.2 1598.0,1295.2 1598.7,1293.6 1599.3,1292.2 1599.9,1292.2 1600.6,1295.8 1601.2,1292.7 1601.9,1292.7 1602.5,1294.8 1603.1,1295.3 1603.8,1291.8 1604.4,1291.6 1605.1,1292.6 1605.7,1292.2 1606.4,1289.8 1607.0,1291.3 1607.6,1290.2 1608.3,1293.3 1608.9,1290.5 1609.6,1285.9 1610.2,1288.0 1610.8,1290.5 1611.5,1289.1 1612.1,1288.9 1612.8,1289.5 1613.4,1288.7 1614.1,1289.8 1614.7,1287.1 1615.3,1288.1 1616.0,1292.0 1616.6,1289.0 1617.3,1291.0 1617.9,1290.0 1618.6,1291.5 1619.2,1292.6 1619.8,1290.1 1620.5,1289.5 1621.1,1292.2 1621.8,1288.0 1622.4,1291.6 1623.0,1288.8 1623.7,1289.5 1624.3,1285.7 1625.0,1288.1 1625.6,1286.4 1626.3,1289.4 1626.9,1284.5 1627.5,1287.3 1628.2,1284.4 1628.8,1288.2 1629.5,1286.6 1630.1,1284.8 1630.8,1284.9 1631.4,1287.7 1632.0,1290.8 1632.7,1285.6 1633.3,1286.4 1634.0,1285.5 1634.6,1285.8 1635.2,1284.8 1635.9,1286.0 1636.5,1282.8 1637.2,1280.4 1637.8,1284.5 1638.5,1283.0 1639.1,1284.0 1639.7,1283.9 1640.4,1286.3 1641.0,1286.4 1641.7,1284.9 1642.3,1283.6 1642.9,1285.1 1643.6,1283.4 1644.2,1281.3 1644.9,1283.0 1645.5,1285.7 1646.2,1282.6 1646.8,1280.9 1647.4,1281.2 1648.1,1279.2 1648.7,1279.5 1649.4,1275.7 1650.0,1278.4 1650.7,1280.0 1651.3,1280.9 1651.9,1281.5 1652.6,1282.6 1653.2,1282.0 1653.9,1281.7 1654.5,1281.3 1655.1,1280.9 1655.8,1277.3 1656.4,1279.1 1657.1,1278.0 1657.7,1278.8 1658.4,1275.3 1659.0,1276.0 1659.6,1272.6 1660.3,1277.9 1660.9,1277.2 1661.6,1276.9 1662.2,1276.5 1662.9,1277.0 1663.5,1276.5 1664.1,1277.5 1664.8,1275.2 1665.4,1275.3 1666.1,1278.5 1666.7,1276.5 1667.3,1276.8 1668.0,1278.1 1668.6,1279.5 1669.3,1280.7 1669.9,1278.3 1670.6,1274.5 1671.2,1279.3 1671.8,1276.1 1672.5,1277.6 1673.1,1275.2 1673.8,1275.2 1674.4,1270.8 1675.0,1274.6 1675.7,1273.3 1676.3,1275.7 1677.0,1271.0 1677.6,1278.0 1678.3,1276.1 1678.9,1273.9 1679.5,1277.6 1680.2,1277.5 1680.8,1277.4 1681.5,1275.9 1682.1,1279.7 1682.8,1273.4 1683.4,1276.1 1684.0,1270.0 1684.7,1273.5 1685.3,1273.1 1686.0,1272.5 1686.6,1274.8 1687.2,1272.9 1687.9,1274.5 1688.5,1274.9 1689.2,1275.0 1689.8,1273.6 1690.5,1275.7 1691.1,1275.5 1691.7,1273.6 1692.4,1272.6 1693.0,1270.7 1693.7,1269.8 1694.3,1269.6 1695.0,1268.8 1695.6,1264.8 1696.2,1267.0 1696.9,1270.1 1697.5,1267.9 1698.2,1265.0 1698.8,1269.1 1699.4,1265.1 1700.1,1268.0 1700.7,1270.0 1701.4,1268.6 1702.0,1268.3 1702.7,1267.3 1703.3,1265.7 1703.9,1269.6 1704.6,1269.6 1705.2,1272.1 1705.9,1269.2 1706.5,1268.3 1707.1,1268.7 1707.8,1265.8 1708.4,1267.3 1709.1,1267.2 1709.7,1267.3 1710.4,1270.6 1711.0,1270.4 1711.6,1266.6 1712.3,1266.3 1712.9,1271.0 1713.6,1271.4 1714.2,1268.6 1714.9,1269.8 1715.5,1270.7 1716.1,1270.7 1716.8,1274.7 1717.4,1274.0 1718.1,1276.6 1718.7,1276.3 1719.3,1271.6 1720.0,1273.7 1720.6,1273.9 1721.3,1276.3 1721.9,1273.4 1722.6,1277.4 1723.2,1278.9 1723.8,1275.4 1724.5,1276.8 1725.1,1276.1 1725.8,1278.1 1726.4,1275.1 1727.1,1277.2 1727.7,1277.2 1728.3,1281.3 1729.0,1277.3 1729.6,1282.0 1730.3,1279.2 1730.9,1279.2 1731.5,1278.6 1732.2,1278.3 1732.8,1279.9 1733.5,1281.6 1734.1,1281.4 1734.8,1279.5 1735.4,1277.9 1736.0,1281.5 1736.7,1277.8 1737.3,1279.6 1738.0,1278.1 1738.6,1278.9 1739.2,1280.5 1739.9,1278.1 1740.5,1279.9 1741.2,1281.1 1741.8,1283.9 1742.5,1285.0 1743.1,1284.9 1743.7,1283.5 1744.4,1287.4 1745.0,1287.5 1745.7,1282.6 1746.3,1285.2 1747.0,1285.7 1747.6,1283.6 1748.2,1286.4 1748.9,1286.3 1749.5,1285.4 1750.2,1286.4 1750.8,1286.2 1751.4,1285.9 1752.1,1288.6 1752.7,1285.3 1753.4,1290.4 1754.0,1289.3 1754.7,1292.6 1755.3,1293.0 1755.9,1293.0 1756.6,1291.1 1757.2,1293.3 1757.9,1293.8 1758.5,1294.0 1759.2,1289.5 1759.8,1292.6 1760.4,1289.6 1761.1,1290.8 1761.7,1290.8 1762.4,1291.8 1763.0,1290.7 1763.6,1291.3 1764.3,1291.6 1764.9,1291.1 1765.6,1291.6 1766.2,1290.0 1766.9,1294.0 1767.5,1292.4 1768.1,1293.8 1768.8,1292.6 1769.4,1295.9 1770.1,1298.1 1770.7,1299.2 1771.3,1298.1 1772.0,1298.4 1772.6,1297.6 1773.3,1299.3 1773.9,1296.3 1774.6,1295.4 1775.2,1296.5 1775.8,1297.4 1776.5,1297.5 1777.1,1296.6 1777.8,1299.1 1778.4,1302.4 1779.1,1302.0 1779.7,1303.0 1780.3,1302.8 1781.0,1306.4 1781.6,1303.2 1782.3,1305.0 1782.9,1303.2 1783.5,1304.8 1784.2,1299.9 1784.8,1297.8 1785.5,1301.6 1786.1,1297.8 1786.8,1300.0 1787.4,1300.6 1788.0,1302.1 1788.7,1304.2 1789.3,1301.3 1790.0,1304.9 1790.6,1307.6 1791.3,1307.8 1791.9,1304.5 1792.5,1306.2 1793.2,1309.4 1793.8,1306.0 1794.5,1308.4 1795.1,1306.0 1795.7,1306.6 1796.4,1302.2 1797.0,1301.5 1797.7,1302.5 1798.3,1304.4 1799.0,1304.5 1799.6,1303.8 1800.2,1306.7 1800.9,1306.9 1801.5,1306.0 1802.2,1304.5 1802.8,1302.1 1803.4,1304.0 1804.1,1304.1 1804.7,1306.2 1805.4,1305.6 1806.0,1303.5 1806.7,1306.2 1807.3,1304.9 1807.9,1302.3 1808.6,1305.7 1809.2,1306.8 1809.9,1304.7 1810.5,1308.2 1811.2,1308.1 1811.8,1307.8 1812.4,1305.2 1813.1,1309.7 1813.7,1310.4 1814.4,1308.1 1815.0,1308.3 1815.6,1311.3 1816.3,1314.4 1816.9,1310.2 1817.6,1308.5 1818.2,1307.2 1818.9,1306.6 1819.5,1308.0 1820.1,1310.0 1820.8,1308.8 1821.4,1313.2 1822.1,1309.6 1822.7,1308.9 1823.4,1312.3 1824.0,1312.6 1824.6,1311.4 1825.3,1308.9 1825.9,1309.6 1826.6,1311.9 1827.2,1310.4 1827.8,1309.6 1828.5,1311.6 1829.1,1312.2 1829.8,1311.7 1830.4,1313.5 1831.1,1309.6 1831.7,1312.6 1832.3,1310.1 1833.0,1311.9 1833.6,1308.5 1834.3,1310.9 1834.9,1310.2 1835.5,1314.9 1836.2,1313.0 1836.8,1316.0 1837.5,1311.9 1838.1,1312.5 1838.8,1313.8 1839.4,1311.2 1840.0,1311.6 1840.7,1314.0 1841.3,1315.2 1842.0,1313.9 1842.6,1316.4 1843.3,1316.5 1843.9,1316.8 1844.5,1315.6 1845.2,1319.7 1845.8,1316.8 1846.5,1319.9 1847.1,1315.5 1847.7,1321.0 1848.4,1316.2 1849.0,1314.2 1849.7,1313.5 1850.3,1315.8 1851.0,1315.1 1851.6,1314.3 1852.2,1317.1 1852.9,1318.9 1853.5,1316.1 1854.2,1318.0 1854.8,1316.9 1855.5,1318.1 1856.1,1314.5 1856.7,1319.7 1857.4,1318.4 1858.0,1319.4 1858.7,1319.9 1859.3,1315.1 1859.9,1320.0 1860.6,1318.2 1861.2,1319.6 1861.9,1317.1 1862.5,1319.4 1863.2,1320.5 1863.8,1316.8 1864.4,1318.6 1865.1,1318.5 1865.7,1318.8 1866.4,1317.5 1867.0,1316.1 1867.6,1318.2 1868.3,1318.0 1868.9,1318.9 1869.6,1319.9 1870.2,1317.5 1870.9,1318.0 1871.5,1320.4 1872.1,1320.1 1872.8,1315.5 1873.4,1319.0 1874.1,1316.2 1874.7,1317.2 1875.4,1316.7 1876.0,1316.9 1876.6,1317.3 1877.3,1319.3 1877.9,1318.6 1878.6,1321.3 1879.2,1320.4 1879.8,1318.0 1880.5,1322.6 1881.1,1320.8 1881.8,1318.1 1882.4,1319.3 1883.1,1321.3 1883.7,1321.5 1884.3,1322.2 1885.0,1318.4 1885.6,1319.0 1886.3,1323.2 1886.9,1317.4 1887.6,1318.2 1888.2,1320.9 1888.8,1322.0 1889.5,1322.0 1890.1,1324.6 1890.8,1324.5 1891.4,1323.0 1892.0,1325.1 1892.7,1324.2 1893.3,1324.8 1894.0,1325.1 1894.6,1323.1 1895.3,1325.8 1895.9,1326.4 1896.5,1327.1 1897.2,1329.1 1897.8,1330.1 1898.5,1329.0 1899.1,1331.6 1899.7,1329.5 1900.4,1328.8 1901.0,1329.9 1901.7,1328.8 1902.3,1330.8 1903.0,1327.6 1903.6,1329.2 1904.2,1329.0 1904.9,1331.7 1905.5,1329.2 1906.2,1330.2 1906.8,1331.9 1907.5,1333.2 1908.1,1336.2 1908.7,1337.5 1909.4,1335.7 1910.0,1336.3 1910.7,1339.3 1911.3,1337.6 1911.9,1336.5 1912.6,1335.8 1913.2,1334.8 1913.9,1334.5 1914.5,1329.4 1915.2,1331.8 1915.8,1332.0 1916.4,1331.7 1917.1,1336.1 1917.7,1336.7 1918.4,1335.1 1919.0,1336.4 1919.7,1334.6 1920.3,1337.5 1920.9,1337.7 1921.6,1337.2 1922.2,1337.9 1922.9,1337.1 1923.5,1340.3 1924.1,1339.6 1924.8,1340.9 1925.4,1339.1 1926.1,1339.9 1926.7,1341.6 1927.4,1340.8 1928.0,1344.6 1928.6,1341.8 1929.3,1343.0 1929.9,1341.5 1930.6,1342.9 1931.2,1341.5 1931.8,1338.8 1932.5,1335.6 1933.1,1337.6 1933.8,1337.8 1934.4,1336.8 1935.1,1337.7 1935.7,1336.6 1936.3,1338.7 1937.0,1341.4 1937.6,1338.4 1938.3,1338.7 1938.9,1342.1 1939.6,1341.8 1940.2,1340.6 1940.8,1339.6 1941.5,1338.6 1942.1,1341.7 1942.8,1338.6 1943.4,1337.7 1944.0,1342.5 1944.7,1340.2 1945.3,1341.2 1946.0,1346.2 1946.6,1342.9 1947.3,1346.1 1947.9,1345.4 1948.5,1343.8 1949.2,1346.2 1949.8,1346.3 1950.5,1347.6 1951.1,1343.7 1951.8,1345.4 1952.4,1344.9 1953.0,1346.9 1953.7,1343.9 1954.3,1341.3 1955.0,1344.9 1955.6,1344.5 1956.2,1346.1 1956.9,1345.9 1957.5,1345.7 1958.2,1346.0 1958.8,1344.1 1959.5,1344.2 1960.1,1345.9 1960.7,1342.1 1961.4,1343.7 1962.0,1345.1 1962.7,1342.6 1963.3,1347.1 1963.9,1342.3 1964.6,1345.6 1965.2,1341.3 1965.9,1345.4 1966.5,1346.1 1967.2,1343.3 1967.8,1340.8 1968.4,1340.8 1969.1,1343.8 1969.7,1345.6 1970.4,1344.2 1971.0,1344.4 1971.7,1342.9 1972.3,1345.1 1972.9,1344.4 1973.6,1342.2 1974.2,1345.0 1974.9,1346.2 1975.5,1346.2 1976.1,1347.5 1976.8,1343.6 1977.4,1342.1 1978.1,1345.9 1978.7,1345.3 1979.4,1343.6 1980.0,1345.8 1980.6,1344.5 1981.3,1346.1 1981.9,1345.2 1982.6,1343.2 1983.2,1345.0 1983.9,1344.2 1984.5,1344.7 1985.1,1344.1 1985.8,1343.9 1986.4,1346.9 1987.1,1346.7 1987.7,1346.5 1988.3,1346.3 1989.0,1350.6 1989.6,1348.0 1990.3,1346.4 1990.9,1345.2 1991.6,1343.1 1992.2,1345.2 1992.8,1346.2 1993.5,1345.1 1994.1,1347.5 1994.8,1347.8 1995.4,1347.8 1996.0,1347.8 1996.7,1350.9 1997.3,1349.6 1998.0,1347.0 1998.6,1347.8 1999.3,1348.9 1999.9,1348.0 2000.5,1350.7 2001.2,1349.7 2001.8,1348.0 2002.5,1351.9 2003.1,1350.5 2003.8,1351.8 2004.4,1351.1 2005.0,1352.1 2005.7,1349.0 2006.3,1349.7 2007.0,1347.9 2007.6,1349.3 2008.2,1348.9 2008.9,1349.6 2009.5,1352.4 2010.2,1347.8 2010.8,1349.9 2011.5,1348.6 2012.1,1349.3 2012.7,1345.6 2013.4,1345.8 2014.0,1343.8 2014.7,1349.1 2015.3,1347.7 2016.0,1348.4 2016.6,1346.1 2017.2,1351.9 2017.9,1351.8 2018.5,1350.9 2019.2,1351.1 2019.8,1350.1 2020.4,1351.9 2021.1,1347.6 2021.7,1350.0 2022.4,1350.0 2023.0,1350.9 2023.7,1348.6 2024.3,1348.7 2024.9,1348.5 2025.6,1351.2 2026.2,1350.4 2026.9,1351.7 2027.5,1350.9 2028.1,1351.5 2028.8,1348.9 2029.4,1349.7 2030.1,1353.0 2030.7,1352.5 2031.4,1351.6 2032.0,1353.0 2032.6,1353.3 2033.3,1354.1 2033.9,1354.8 2034.6,1355.2 2035.2,1355.6 2035.9,1356.4 2036.5,1355.3 2037.1,1353.3 2037.8,1357.7 2038.4,1355.5 2039.1,1353.5 2039.7,1355.5 2040.3,1355.3 2041.0,1354.1 2041.6,1356.0 2042.3,1353.3 2042.9,1353.6 2043.6,1352.8 2044.2,1356.4 2044.8,1355.5 2045.5,1357.5 2046.1,1353.4 2046.8,1356.3 2047.4,1354.5 2048.1,1355.6 2048.7,1352.6 2049.3,1353.6 2050.0,1350.1 2050.6,1351.0 2051.3,1350.6 2051.9,1352.5 2052.5,1349.8 2053.2,1352.7 2053.8,1355.2 2054.5,1355.1 2055.1,1355.5 2055.8,1357.2 2056.4,1357.1 2057.0,1357.0 2057.7,1357.0 2058.3,1353.3 2059.0,1356.5 2059.6,1352.5 2060.2,1350.4 2060.9,1350.0 2061.5,1350.3 2062.2,1350.0 2062.8,1348.9 2063.5,1348.6 2064.1,1349.3 2064.7,1352.0 2065.4,1352.2 2066.0,1351.3 2066.7,1350.3 2067.3,1351.3 2068.0,1356.1 2068.6,1350.9 2069.2,1353.2 2069.9,1355.3 2070.5,1355.1 2071.2,1354.4" fill="none" stroke="#ff0000" stroke-width="7" stroke-linejoin="round" stroke-linecap="round" shape-rendering="crispEdges"/>
<path d="M150.3,1245.7 150.9,1239.9 151.6,1244.3 152.2,1243.6 152.9,1244.3 153.5,1242.4 154.2,1244.5 154.8,1242.7 155.4,1242.1 156.1,1243.6 156.7,1243.2 157.4,1243.0 158.0,1244.0 158.6,1244.6 159.3,1246.2 159.9,1244.7 160.6,1244.4 161.2,1243.3 161.9,1247.4 162.5,1244.9 163.1,1246.8 163.8,1244.6 164.4,1247.8 165.1,1248.4 165.7,1247.6 166.3,1248.9 167.0,1247.5 167.6,1250.3 168.3,1247.4 168.9,1248.7 169.6,1249.2 170.2,1247.8 170.8,1246.9 171.5,1245.6 172.1,1245.5 172.8,1247.7 173.4,1247.6 174.1,1246.2 174.7,1245.7 175.3,1248.7 176.0,1247.3 176.6,1248.9 177.3,1248.0 177.9,1249.7 178.5,1249.3 179.2,1249.2 179.8,1248.2 180.5,1247.2 181.1,1248.8 181.8,1250.1 182.4,1248.0 183.0,1247.8 183.7,1247.1 184.3,1247.8 185.0,1247.2 185.6,1248.3 186.3,1247.5 186.9,1248.9 187.5,1248.0 188.2,1247.6 188.8,1248.1 189.5,1248.5 190.1,1245.8 190.7,1246.4 191.4,1248.3 192.0,1248.1 192.7,1247.7 193.3,1244.4 194.0,1247.4 194.6,1247.8 195.2,1247.5 195.9,1248.0 196.5,1250.5 197.2,1247.4 197.8,1247.6 198.4,1248.4 199.1,1247.3 199.7,1247.7 200.4,1247.8 201.0,1248.5 201.7,1249.7 202.3,1246.4 202.9,1247.4 203.6,1251.6 204.2,1250.0 204.9,1248.9 205.5,1249.0 206.2,1249.8 206.8,1249.0 207.4,1249.7 208.1,1250.2 208.7,1248.9 209.4,1250.0 210.0,1248.2 210.6,1248.9 211.3,1249.5 211.9,1246.5 212.6,1247.8 213.2,1248.7 213.9,1249.2 214.5,1250.3 215.1,1249.2 215.8,1247.5 216.4,1248.9 217.1,1248.0 217.7,1247.9 218.4,1250.3 219.0,1247.2 219.6,1248.9 220.3,1247.9 220.9,1249.8 221.6,1249.1 222.2,1248.9 222.8,1248.7 223.5,1249.1 224.1,1246.8 224.8,1247.4 225.4,1247.3 226.1,1250.0 226.7,1248.0 227.3,1246.7 228.0,1248.3 228.6,1250.5 229.3,1246.5 229.9,1247.1 230.5,1247.1 231.2,1246.2 231.8,1246.3 232.5,1247.1 233.1,1248.0 233.8,1247.0 234.4,1251.5 235.0,1249.0 235.7,1249.1 236.3,1248.6 237.0,1247.1 237.6,1248.2 238.3,1247.0 238.9,1248.4 239.5,1247.6 240.2,1248.6 240.8,1250.6 241.5,1248.5 242.1,1250.0 242.7,1248.9 243.4,1249.4 244.0,1248.3 244.7,1247.1 245.3,1246.4 246.0,1247.3 246.6,1247.1 247.2,1246.3 247.9,1247.6 248.5,1247.9 249.2,1246.8 249.8,1247.0 250.5,1250.7 251.1,1248.3 251.7,1247.4 252.4,1249.4 253.0,1246.1 253.7,1243.7 254.3,1244.7 254.9,1243.8 255.6,1246.3 256.2,1246.6 256.9,1244.4 257.5,1247.7 258.2,1246.0 258.8,1248.1 259.4,1248.5 260.1,1249.2 260.7,1249.5 261.4,1248.2 262.0,1247.1 262.6,1248.2 263.3,1249.0 263.9,1248.6 264.6,1248.1 265.2,1246.4 265.9,1246.7 266.5,1247.2 267.1,1245.5 267.8,1243.9 268.4,1243.7 269.1,1249.1 269.7,1248.0 270.4,1247.9 271.0,1246.9 271.6,1248.4 272.3,1249.8 272.9,1248.5 273.6,1246.4 274.2,1247.5 274.8,1250.3 275.5,1247.2 276.1,1244.6 276.8,1245.1 277.4,1245.2 278.1,1247.6 278.7,1246.5 279.3,1245.1 280.0,1245.6 280.6,1246.5 281.3,1245.9 281.9,1246.0 282.6,1246.7 283.2,1246.0 283.8,1249.3 284.5,1244.4 285.1,1247.1 285.8,1245.2 286.4,1246.1 287.0,1245.0 287.7,1245.6 288.3,1245.7 289.0,1246.3 289.6,1246.6 290.3,1244.5 290.9,1247.5 291.5,1245.8 292.2,1246.9 292.8,1247.0 293.5,1245.9 294.1,1247.4 294.7,1243.4 295.4,1245.0 296.0,1247.1 296.7,1244.6 297.3,1247.3 298.0,1248.6 298.6,1246.7 299.2,1244.4 299.9,1245.9 300.5,1246.3 301.2,1246.1 301.8,1245.3 302.5,1245.8 303.1,1245.2 303.7,1247.0 304.4,1246.3 305.0,1246.7 305.7,1246.9 306.3,1244.3 306.9,1245.8 307.6,1245.7 308.2,1244.5 308.9,1244.4 309.5,1244.4 310.2,1244.2 310.8,1244.3 311.4,1244.0 312.1,1244.8 312.7,1241.8 313.4,1244.3 314.0,1242.1 314.7,1243.2 315.3,1244.9 315.9,1245.7 316.6,1246.8 317.2,1245.6 317.9,1241.3 318.5,1242.1 319.1,1244.1 319.8,1243.6 320.4,1240.6 321.1,1238.1 321.7,1242.1 322.4,1237.4 323.0,1240.5 323.6,1240.5 324.3,1240.4 324.9,1238.6 325.6,1239.4 326.2,1241.0 326.8,1240.4 327.5,1238.6 328.1,1240.1 328.8,1240.2 329.4,1240.8 330.1,1240.8 330.7,1242.3 331.3,1241.3 332.0,1241.2 332.6,1241.8 333.3,1242.1 333.9,1241.9 334.6,1239.3 335.2,1239.6 335.8,1240.1 336.5,1239.9 337.1,1239.8 337.8,1238.2 338.4,1238.6 339.0,1239.0 339.7,1240.9 340.3,1240.8 341.0,1240.2 341.6,1241.7 342.3,1240.2 342.9,1242.8 343.5,1242.7 344.2,1241.7 344.8,1241.9 345.5,1241.0 346.1,1239.3 346.8,1240.3 347.4,1239.6 348.0,1239.5 348.7,1240.6 349.3,1238.1 350.0,1240.6 350.6,1241.6 351.2,1239.9 351.9,1240.7 352.5,1238.5 353.2,1239.8 353.8,1242.3 354.5,1238.7 355.1,1239.6 355.7,1239.4 356.4,1241.3 357.0,1241.7 357.7,1239.7 358.3,1241.3 358.9,1238.7 359.6,1242.2 360.2,1242.1 360.9,1243.6 361.5,1239.2 362.2,1242.3 362.8,1240.2 363.4,1238.2 364.1,1240.9 364.7,1240.8 365.4,1241.6 366.0,1242.0 366.7,1240.7 367.3,1241.8 367.9,1240.8 368.6,1239.9 369.2,1239.5 369.9,1241.0 370.5,1239.2 371.1,1241.1 371.8,1239.4 372.4,1241.8 373.1,1240.0 373.7,1240.9 374.4,1238.6 375.0,1239.3 375.6,1240.1 376.3,1240.9 376.9,1238.6 377.6,1239.8 378.2,1239.3 378.9,1239.5 379.5,1238.5 380.1,1236.4 380.8,1237.2 381.4,1237.9 382.1,1239.9 382.7,1237.7 383.3,1237.9 384.0,1237.3 384.6,1240.4 385.3,1241.0 385.9,1240.2 386.6,1236.3 387.2,1235.9 387.8,1238.5 388.5,1238.5 389.1,1238.3 389.8,1232.9 390.4,1234.7 391.0,1235.1 391.7,1236.1 392.3,1235.4 393.0,1236.6 393.6,1235.4 394.3,1235.6 394.9,1235.0 395.5,1235.7 396.2,1236.0 396.8,1232.4 397.5,1234.4 398.1,1234.0 398.8,1235.2 399.4,1234.6 400.0,1235.4 400.7,1232.4 401.3,1233.6 402.0,1233.1 402.6,1232.2 403.2,1233.9 403.9,1233.6 404.5,1236.7 405.2,1234.6 405.8,1233.2 406.5,1232.8 407.1,1234.9 407.7,1231.7 408.4,1232.3 409.0,1231.7 409.7,1232.2 410.3,1231.0 411.0,1229.7 411.6,1229.0 412.2,1227.9 412.9,1229.0 413.5,1229.0 414.2,1228.1 414.8,1227.9 415.4,1226.5 416.1,1229.1 416.7,1225.0 417.4,1224.6 418.0,1226.2 418.7,1226.5 419.3,1228.1 419.9,1223.9 420.6,1228.0 421.2,1226.9 421.9,1227.3 422.5,1227.5 423.1,1227.4 423.8,1224.2 424.4,1225.3 425.1,1227.9 425.7,1227.1 426.4,1226.1 427.0,1224.9 427.6,1225.2 428.3,1225.8 428.9,1223.9 429.6,1223.6 430.2,1225.6 430.9,1225.1 431.5,1226.0 432.1,1223.8 432.8,1224.5 433.4,1222.2 434.1,1223.2 434.7,1222.6 435.3,1221.7 436.0,1220.4 436.6,1221.6 437.3,1220.9 437.9,1222.0 438.6,1220.4 439.2,1217.5 439.8,1218.6 440.5,1222.3 441.1,1222.4 441.8,1219.1 442.4,1219.9 443.1,1219.7 443.7,1219.2 444.3,1219.7 445.0,1218.9 445.6,1217.8 446.3,1218.4 446.9,1218.7 447.5,1220.0 448.2,1218.4 448.8,1218.4 449.5,1216.6 450.1,1215.8 450.8,1215.5 451.4,1220.7 452.0,1217.0 452.7,1216.6 453.3,1216.2 454.0,1214.9 454.6,1214.8 455.2,1214.5 455.9,1214.5 456.5,1213.5 457.2,1214.3 457.8,1208.8 458.5,1211.6 459.1,1212.8 459.7,1211.9 460.4,1211.7 461.0,1213.7 461.7,1211.8 462.3,1214.0 463.0,1211.4 463.6,1211.6 464.2,1209.4 464.9,1208.7 465.5,1210.9 466.2,1211.6 466.8,1209.6 467.4,1208.0 468.1,1210.0 468.7,1208.9 469.4,1207.8 470.0,1206.5 470.7,1209.3 471.3,1210.1 471.9,1207.6 472.6,1206.0 473.2,1206.7 473.9,1208.3 474.5,1208.1 475.2,1204.1 475.8,1201.5 476.4,1200.3 477.1,1206.1 477.7,1201.2 478.4,1203.5 479.0,1203.2 479.6,1203.4 480.3,1200.9 480.9,1198.7 481.6,1201.0 482.2,1200.0 482.9,1199.9 483.5,1196.0 484.1,1198.0 484.8,1197.5 485.4,1196.3 486.1,1198.5 486.7,1198.8 487.3,1198.4 488.0,1196.4 488.6,1196.8 489.3,1198.1 489.9,1197.4 490.6,1195.9 491.2,1192.4 491.8,1194.8 492.5,1194.8 493.1,1193.4 493.8,1192.5 494.4,1190.6 495.1,1192.5 495.7,1190.1 496.3,1188.9 497.0,1189.5 497.6,1189.8 498.3,1191.1 498.9,1189.3 499.5,1189.6 500.2,1190.7 500.8,1191.8 501.5,1190.1 502.1,1187.0 502.8,1187.5 503.4,1185.5 504.0,1182.9 504.7,1183.9 505.3,1182.8 506.0,1181.9 506.6,1181.2 507.3,1180.6 507.9,1179.6 508.5,1177.5 509.2,1177.7 509.8,1176.9 510.5,1178.2 511.1,1175.1 511.7,1173.3 512.4,1174.8 513.0,1172.7 513.7,1169.8 514.3,1169.2 515.0,1167.1 515.6,1164.6 516.2,1162.8 516.9,1159.0 517.5,1157.0 518.2,1156.8 518.8,1156.3 519.4,1159.7 520.1,1162.4 520.7,1162.0 521.4,1161.7 522.0,1163.9 522.7,1163.3 523.3,1165.9 523.9,1167.6 524.6,1166.6 525.2,1165.2 525.9,1164.8 526.5,1163.3 527.2,1161.4 527.8,1160.6 528.4,1160.2 529.1,1161.3 529.7,1160.5 530.4,1158.0 531.0,1157.5 531.6,1160.0 532.3,1154.5 532.9,1156.4 533.6,1155.7 534.2,1153.9 534.9,1152.6 535.5,1152.6 536.1,1153.6 536.8,1154.4 537.4,1154.6 538.1,1151.0 538.7,1150.1 539.4,1150.6 540.0,1149.0 540.6,1146.3 541.3,1147.8 541.9,1144.9 542.6,1143.7 543.2,1143.9 543.8,1141.7 544.5,1145.1 545.1,1146.0 545.8,1145.0 546.4,1144.2 547.1,1147.3 547.7,1144.8 548.3,1141.6 549.0,1140.3 549.6,1137.6 550.3,1137.0 550.9,1137.3 551.5,1138.3 552.2,1138.4 552.8,1136.9 553.5,1138.1 554.1,1133.9 554.8,1134.0 555.4,1133.2 556.0,1129.9 556.7,1127.3 557.3,1128.2 558.0,1131.9 558.6,1129.5 559.3,1128.0 559.9,1127.9 560.5,1125.9 561.2,1122.3 561.8,1124.0 562.5,1124.0 563.1,1123.2 563.7,1120.9 564.4,1119.1 565.0,1123.1 565.7,1121.3 566.3,1121.8 567.0,1121.1 567.6,1118.2 568.2,1117.7 568.9,1115.1 569.5,1113.8 570.2,1111.6 570.8,1110.5 571.5,1110.8 572.1,1106.1 572.7,1106.3 573.4,1107.3 574.0,1106.5 574.7,1107.9 575.3,1106.3 575.9,1108.3 576.6,1110.8 577.2,1105.5 577.9,1109.9 578.5,1105.7 579.2,1107.3 579.8,1103.8 580.4,1108.5 581.1,1105.8 581.7,1104.0 582.4,1104.3 583.0,1100.4 583.6,1097.7 584.3,1094.6 584.9,1095.0 585.6,1092.1 586.2,1092.2 586.9,1092.8 587.5,1091.9 588.1,1091.1 588.8,1092.0 589.4,1087.3 590.1,1089.7 590.7,1087.0 591.4,1089.0 592.0,1088.9 592.6,1087.8 593.3,1087.3 593.9,1085.0 594.6,1082.1 595.2,1078.3 595.8,1077.9 596.5,1077.0 597.1,1070.9 597.8,1071.3 598.4,1071.3 599.1,1068.3 599.7,1068.7 600.3,1066.3 601.0,1062.9 601.6,1063.0 602.3,1059.0 602.9,1056.8 603.6,1053.8 604.2,1053.0 604.8,1053.3 605.5,1050.6 606.1,1050.5 606.8,1047.0 607.4,1048.9 608.0,1045.1 608.7,1042.6 609.3,1041.7 610.0,1037.9 610.6,1034.8 611.3,1033.6 611.9,1028.8 612.5,1028.8 613.2,1027.0 613.8,1020.2 614.5,1022.9 615.1,1019.6 615.7,1016.0 616.4,1014.7 617.0,1013.4 617.7,1013.7 618.3,1007.7 619.0,1008.5 619.6,1001.8 620.2,1000.8 620.9,998.3 621.5,994.1 622.2,990.6 622.8,990.8 623.5,987.5 624.1,985.2 624.7,980.6 625.4,983.6 626.0,975.4 626.7,973.2 627.3,975.9 627.9,974.7 628.6,969.0 629.2,968.5 629.9,961.0 630.5,961.8 631.2,962.4 631.8,955.9 632.4,951.9 633.1,947.8 633.7,942.8 634.4,941.0 635.0,938.0 635.7,930.0 636.3,928.8 636.9,926.8 637.6,921.8 638.2,918.1 638.9,911.1 639.5,904.3 640.1,905.1 640.8,895.9 641.4,892.7 642.1,893.8 642.7,890.6 643.4,885.3 644.0,875.2 644.6,878.1 645.3,872.7 645.9,866.1 646.6,864.0 647.2,860.5 647.8,853.2 648.5,848.3 649.1,846.2 649.8,834.8 650.4,834.6 651.1,827.5 651.7,822.5 652.3,818.2 653.0,812.3 653.6,810.0 654.3,802.6 654.9,801.6 655.6,799.7 656.2,793.7 656.8,788.5 657.5,787.3 658.1,781.0 658.8,778.5 659.4,778.9 660.0,770.6 660.7,762.3 661.3,755.2 662.0,745.7 662.6,738.7 663.3,732.2 663.9,728.0 664.5,719.3 665.2,713.5 665.8,702.0 666.5,703.9 667.1,694.1 667.8,686.0 668.4,677.0 669.0,672.1 669.7,666.0 670.3,655.0 671.0,641.6 671.6,634.0 672.2,623.2 672.9,621.2 673.5,616.4 674.2,611.3 674.8,601.8 675.5,599.0 676.1,589.2 676.7,584.9 677.4,579.1 678.0,569.3 678.7,559.8 679.3,564.8 679.9,550.7 680.6,557.9 681.2,552.7 681.9,551.8 682.5,545.0 683.2,542.8 683.8,534.8 684.4,527.9 685.1,524.8 685.7,517.2 686.4,517.5 687.0,517.8 687.7,515.8 688.3,513.7 688.9,515.0 689.6,502.6 690.2,504.1 690.9,502.1 691.5,498.6 692.1,500.4 692.8,495.5 693.4,497.1 694.1,498.1 694.7,492.0 695.4,495.9 696.0,497.0 696.6,497.9 697.3,490.3 697.9,496.7 698.6,494.6 699.2,500.3 699.9,498.8 700.5,507.6 701.1,505.2 701.8,511.3 702.4,515.6 703.1,518.5 703.7,519.1 704.3,527.8 705.0,529.6 705.6,540.5 706.3,539.3 706.9,541.3 707.6,549.5 708.2,550.9 708.8,559.0 709.5,559.9 710.1,560.4 710.8,569.2 711.4,577.4 712.0,587.0 712.7,588.9 713.3,592.4 714.0,602.0 714.6,610.5 715.3,622.1 715.9,621.2 716.5,620.8 717.2,623.6 717.8,632.3 718.5,635.5 719.1,640.8 719.8,650.7 720.4,654.3 721.0,655.3 721.7,665.6 722.3,665.7 723.0,677.8 723.6,685.2 724.2,689.4 724.9,686.6 725.5,695.9 726.2,704.1 726.8,702.1 727.5,707.6 728.1,713.4 728.7,717.1 729.4,722.8 730.0,727.1 730.7,731.6 731.3,735.0 732.0,740.4 732.6,745.5 733.2,746.2 733.9,754.2 734.5,759.0 735.2,764.0 735.8,768.5 736.4,768.4 737.1,773.3 737.7,779.5 738.4,780.8 739.0,783.0 739.7,784.3 740.3,785.9 740.9,793.6 741.6,796.4 742.2,802.8 742.9,807.2 743.5,811.2 744.1,812.8 744.8,810.9 745.4,811.6 746.1,814.1 746.7,812.8 747.4,812.7 748.0,819.3 748.6,817.9 749.3,826.3 749.9,826.5 750.6,833.2 751.2,834.6 751.9,841.6 752.5,837.1 753.1,837.7 753.8,842.5 754.4,840.1 755.1,846.5 755.7,845.5 756.3,843.2 757.0,852.9 757.6,848.0 758.3,856.2 758.9,851.0 759.6,855.9 760.2,859.4 760.8,859.3 761.5,856.4 762.1,863.3 762.8,865.5 763.4,866.4 764.1,863.5 764.7,867.2 765.3,869.6 766.0,871.7 766.6,869.2 767.3,867.6 767.9,866.7 768.5,870.8 769.2,864.5 769.8,866.2 770.5,861.9 771.1,870.1 771.8,868.9 772.4,865.1 773.0,867.7 773.7,869.3 774.3,868.2 775.0,866.8 775.6,868.1 776.2,863.3 776.9,863.4 777.5,863.8 778.2,864.6 778.8,862.6 779.5,865.8 780.1,859.6 780.7,855.3 781.4,855.0 782.0,854.5 782.7,850.6 783.3,849.4 784.0,846.0 784.6,845.9 785.2,847.2 785.9,847.7 786.5,840.5 787.2,838.0 787.8,839.5 788.4,838.2 789.1,833.2 789.7,833.0 790.4,828.0 791.0,828.9 791.7,822.1 792.3,820.1 792.9,819.8 793.6,819.0 794.2,819.3 794.9,814.4 795.5,817.9 796.2,819.0 796.8,819.1 797.4,814.7 798.1,812.6 798.7,817.0 799.4,813.5 800.0,812.8 800.6,806.6 801.3,805.5 801.9,800.0 802.6,799.3 803.2,795.9 803.9,786.7 804.5,781.4 805.1,781.7 805.8,774.7 806.4,771.6 807.1,767.2 807.7,767.8 808.3,762.1 809.0,758.4 809.6,755.3 810.3,752.2 810.9,742.6 811.6,743.4 812.2,735.4 812.8,734.6 813.5,729.7 814.1,728.8 814.8,721.7 815.4,717.5 816.1,718.0 816.7,713.6 817.3,712.0 818.0,706.2 818.6,695.8 819.3,693.8 819.9,687.9 820.5,675.9 821.2,666.8 821.8,657.3 822.5,654.4 823.1,644.1 823.8,647.0 824.4,639.9 825.0,634.8 825.7,630.5 826.3,619.9 827.0,611.0 827.6,607.4 828.3,603.2 828.9,587.6 829.5,584.9 830.2,571.0 830.8,568.3 831.5,563.6 832.1,562.2 832.7,545.6 833.4,544.1 834.0,534.2 834.7,530.0 835.3,521.5 836.0,513.5 836.6,502.0 837.2,494.3 837.9,489.3 838.5,483.0 839.2,469.9 839.8,459.8 840.4,450.5 841.1,447.4 841.7,428.1 842.4,421.3 843.0,419.2 843.7,420.3 844.3,419.7 844.9,416.1 845.6,415.9 846.2,413.4 846.9,409.8 847.5,410.5 848.2,413.4 848.8,410.7 849.4,417.7 850.1,420.3 850.7,419.3 851.4,421.5 852.0,421.5 852.6,430.4 853.3,430.7 853.9,433.9 854.6,441.6 855.2,449.7 855.9,453.4 856.5,461.4 857.1,465.9 857.8,475.2 858.4,485.2 859.1,497.2 859.7,509.6 860.4,522.9 861.0,528.9 861.6,541.7 862.3,554.5 862.9,568.1 863.6,574.9 864.2,591.5 864.8,610.6 865.5,621.9 866.1,644.0 866.8,659.6 867.4,679.9 868.1,699.7 868.7,714.6 869.3,724.8 870.0,742.1 870.6,759.3 871.3,770.5 871.9,780.8 872.5,796.3 873.2,810.1 873.8,827.8 874.5,837.9 875.1,852.9 875.8,869.9 876.4,885.0 877.0,896.9 877.7,908.6 878.3,916.0 879.0,924.8 879.6,937.0 880.3,946.8 880.9,950.7 881.5,959.2 882.2,968.0 882.8,970.1 883.5,981.7 884.1,982.0 884.7,982.7 885.4,987.3 886.0,993.6 886.7,999.1 887.3,1003.4 888.0,1005.0 888.6,1011.3 889.2,1017.8 889.9,1022.1 890.5,1021.3 891.2,1025.9 891.8,1031.9 892.5,1035.4 893.1,1044.6 893.7,1045.8 894.4,1048.6 895.0,1052.5 895.7,1060.2 896.3,1061.8 896.9,1065.3 897.6,1067.9 898.2,1066.4 898.9,1073.6 899.5,1076.4 900.2,1073.0 900.8,1077.2 901.4,1080.8 902.1,1085.0 902.7,1085.0 903.4,1087.5 904.0,1095.3 904.6,1093.8 905.3,1092.2 905.9,1100.0 906.6,1102.1 907.2,1103.7 907.9,1105.5 908.5,1109.0 909.1,1104.7 909.8,1104.4 910.4,1104.7 911.1,1111.2 911.7,1110.0 912.4,1108.1 913.0,1109.1 913.6,1114.4 914.3,1115.9 914.9,1117.1 915.6,1116.4 916.2,1117.7 916.8,1121.1 917.5,1120.7 918.1,1121.4 918.8,1121.5 919.4,1121.7 920.1,1123.4 920.7,1124.4 921.3,1126.3 922.0,1128.0 922.6,1127.2 923.3,1128.3 923.9,1129.7 924.6,1131.2 925.2,1130.6 925.8,1131.6 926.5,1131.6 927.1,1131.4 927.8,1130.6 928.4,1130.1 929.0,1129.5 929.7,1134.3 930.3,1131.3 931.0,1134.9 931.6,1139.1 932.3,1140.4 932.9,1138.6 933.5,1141.5 934.2,1140.5 934.8,1138.6 935.5,1139.2 936.1,1137.3 936.7,1138.3 937.4,1140.2 938.0,1138.1 938.7,1141.8 939.3,1144.3 940.0,1143.2 940.6,1142.7 941.2,1143.5 941.9,1146.9 942.5,1144.6 943.2,1146.5 943.8,1149.5 944.5,1145.8 945.1,1147.9 945.7,1147.8 946.4,1147.8 947.0,1147.7 947.7,1146.7 948.3,1149.4 948.9,1148.7 949.6,1150.8 950.2,1149.9 950.9,1149.3 951.5,1152.8 952.2,1152.3 952.8,1153.3 953.4,1152.0 954.1,1154.6 954.7,1151.7 955.4,1155.0 956.0,1152.7 956.7,1152.1 957.3,1151.0 957.9,1151.5 958.6,1151.4 959.2,1154.2 959.9,1155.8 960.5,1155.5 961.1,1156.0 961.8,1156.6 962.4,1158.8 963.1,1161.6 963.7,1159.9 964.4,1159.0 965.0,1162.2 965.6,1166.2 966.3,1162.0 966.9,1162.1 967.6,1160.1 968.2,1159.6 968.8,1159.4 969.5,1161.0 970.1,1163.7 970.8,1165.3 971.4,1164.8 972.1,1166.2 972.7,1168.2 973.3,1167.8 974.0,1166.4 974.6,1168.1 975.3,1167.5 975.9,1168.4 976.6,1170.8 977.2,1167.3 977.8,1168.4 978.5,1167.2 979.1,1166.6 979.8,1167.3 980.4,1167.3 981.0,1167.5 981.7,1165.9 982.3,1166.8 983.0,1166.5 983.6,1167.3 984.3,1166.6 984.9,1167.5 985.5,1166.5 986.2,1163.3 986.8,1168.4 987.5,1164.1 988.1,1166.5 988.8,1167.0 989.4,1165.6 990.0,1165.2 990.7,1167.5 991.3,1165.4 992.0,1167.7 992.6,1169.0 993.2,1167.8 993.9,1166.9 994.5,1168.5 995.2,1171.2 995.8,1170.1 996.5,1172.6 997.1,1169.9 997.7,1169.8 998.4,1167.5 999.0,1169.4 999.7,1171.8 1000.3,1169.8 1000.9,1168.5 1001.6,1167.6 1002.2,1170.6 1002.9,1169.4 1003.5,1169.0 1004.2,1173.3 1004.8,1170.1 1005.4,1173.1 1006.1,1173.9 1006.7,1174.7 1007.4,1176.1 1008.0,1173.2 1008.7,1171.7 1009.3,1174.4 1009.9,1173.5 1010.6,1171.9 1011.2,1173.7 1011.9,1175.6 1012.5,1174.3 1013.1,1177.9 1013.8,1178.1 1014.4,1177.7 1015.1,1175.7 1015.7,1175.8 1016.4,1176.5 1017.0,1174.9 1017.6,1173.9 1018.3,1173.4 1018.9,1175.1 1019.6,1177.1 1020.2,1175.4 1020.9,1179.2 1021.5,1180.1 1022.1,1178.4 1022.8,1175.7 1023.4,1176.1 1024.1,1177.5 1024.7,1176.5 1025.3,1176.0 1026.0,1176.7 1026.6,1179.7 1027.3,1174.8 1027.9,1173.3 1028.6,1176.7 1029.2,1175.5 1029.8,1176.8 1030.5,1176.0 1031.1,1177.4 1031.8,1176.1 1032.4,1180.3 1033.0,1178.6 1033.7,1179.5 1034.3,1177.3 1035.0,1180.4 1035.6,1179.0 1036.3,1179.0 1036.9,1178.2 1037.5,1178.4 1038.2,1179.0 1038.8,1180.9 1039.5,1180.6 1040.1,1180.6 1040.8,1180.4 1041.4,1179.0 1042.0,1178.4 1042.7,1180.8 1043.3,1178.1 1044.0,1175.9 1044.6,1177.6 1045.2,1176.3 1045.9,1175.5 1046.5,1176.3 1047.2,1174.8 1047.8,1177.4 1048.5,1176.6 1049.1,1178.2 1049.7,1176.6 1050.4,1178.1 1051.0,1178.1 1051.7,1180.6 1052.3,1175.4 1053.0,1179.2 1053.6,1179.0 1054.2,1180.7 1054.9,1178.5 1055.5,1178.7 1056.2,1179.9 1056.8,1181.8 1057.4,1179.2 1058.1,1177.7 1058.7,1177.3 1059.4,1178.0 1060.0,1178.0 1060.7,1178.7 1061.3,1180.5 1061.9,1180.9 1062.6,1180.3 1063.2,1180.9 1063.9,1183.7 1064.5,1181.7 1065.1,1183.0 1065.8,1183.2 1066.4,1181.3 1067.1,1183.0 1067.7,1182.5 1068.4,1184.9 1069.0,1180.0 1069.6,1180.5 1070.3,1180.7 1070.9,1180.8 1071.6,1178.7 1072.2,1183.0 1072.9,1183.1 1073.5,1181.6 1074.1,1181.7 1074.8,1181.2 1075.4,1180.5 1076.1,1180.7 1076.7,1179.1 1077.3,1180.2 1078.0,1181.9 1078.6,1179.7 1079.3,1183.8 1079.9,1181.9 1080.6,1181.4 1081.2,1180.8 1081.8,1181.8 1082.5,1181.1 1083.1,1179.2 1083.8,1180.2 1084.4,1183.4 1085.1,1180.5 1085.7,1184.2 1086.3,1180.8 1087.0,1182.0 1087.6,1184.5 1088.3,1183.1 1088.9,1181.9 1089.5,1182.6 1090.2,1179.8 1090.8,1182.4 1091.5,1181.7 1092.1,1183.3 1092.8,1182.8 1093.4,1181.0 1094.0,1180.1 1094.7,1179.8 1095.3,1181.7 1096.0,1181.7 1096.6,1182.7 1097.2,1180.5 1097.9,1182.2 1098.5,1180.8 1099.2,1180.7 1099.8,1181.9 1100.5,1181.9 1101.1,1181.2 1101.7,1182.0 1102.4,1184.4 1103.0,1182.5 1103.7,1182.3 1104.3,1180.8 1105.0,1185.5 1105.6,1183.9 1106.2,1181.5 1106.9,1182.3 1107.5,1179.6 1108.2,1179.3 1108.8,1180.8 1109.4,1181.6 1110.1,1177.8 1110.7,1180.4 1111.4,1181.3 1112.0,1181.7 1112.7,1180.4 1113.3,1181.7 1113.9,1178.1 1114.6,1180.2 1115.2,1182.7 1115.9,1181.9 1116.5,1181.9 1117.2,1180.1 1117.8,1181.1 1118.4,1178.4 1119.1,1180.6 1119.7,1179.8 1120.4,1179.9 1121.0,1180.6 1121.6,1180.7 1122.3,1182.3 1122.9,1181.8 1123.6,1180.5 1124.2,1181.2 1124.9,1180.9 1125.5,1182.3 1126.1,1182.7 1126.8,1181.5 1127.4,1181.6 1128.1,1180.5 1128.7,1183.6 1129.3,1181.4 1130.0,1185.1 1130.6,1182.5 1131.3,1180.8 1131.9,1181.4 1132.6,1184.4 1133.2,1181.2 1133.8,1182.7 1134.5,1183.8 1135.1,1182.6 1135.8,1183.3 1136.4,1182.2 1137.1,1181.0 1137.7,1185.2 1138.3,1182.6 1139.0,1184.2 1139.6,1183.2 1140.3,1181.4 1140.9,1183.5 1141.5,1181.4 1142.2,1180.4 1142.8,1180.2 1143.5,1179.3 1144.1,1180.0 1144.8,1182.4 1145.4,1184.2 1146.0,1182.2 1146.7,1183.9 1147.3,1183.0 1148.0,1182.7 1148.6,1183.2 1149.3,1180.4 1149.9,1182.1 1150.5,1181.1 1151.2,1183.4 1151.8,1182.3 1152.5,1181.4 1153.1,1183.2 1153.7,1178.7 1154.4,1180.3 1155.0,1179.7 1155.7,1179.7 1156.3,1178.6 1157.0,1183.0 1157.6,1183.6 1158.2,1181.5 1158.9,1182.8 1159.5,1177.8 1160.2,1180.8 1160.8,1182.6 1161.4,1182.0 1162.1,1183.1 1162.7,1184.5 1163.4,1182.7 1164.0,1182.7 1164.7,1183.3 1165.3,1184.4 1165.9,1180.5 1166.6,1185.7 1167.2,1180.3 1167.9,1181.5 1168.5,1183.3 1169.2,1183.3 1169.8,1183.2 1170.4,1185.6 1171.1,1181.8 1171.7,1182.2 1172.4,1182.7 1173.0,1181.0 1173.6,1182.9 1174.3,1182.6 1174.9,1182.0 1175.6,1178.6 1176.2,1179.9 1176.9,1179.6 1177.5,1181.8 1178.1,1180.3 1178.8,1181.7 1179.4,1181.8 1180.1,1177.9 1180.7,1180.5 1181.4,1178.0 1182.0,1180.8 1182.6,1177.2 1183.3,1178.5 1183.9,1179.3 1184.6,1178.6 1185.2,1182.4 1185.8,1181.5 1186.5,1181.7 1187.1,1182.3 1187.8,1182.7 1188.4,1180.6 1189.1,1183.8 1189.7,1182.8 1190.3,1180.8 1191.0,1181.8 1191.6,1180.5 1192.3,1183.2 1192.9,1182.5 1193.5,1180.2 1194.2,1182.3 1194.8,1182.8 1195.5,1184.0 1196.1,1182.3 1196.8,1184.4 1197.4,1181.8 1198.0,1182.8 1198.7,1181.1 1199.3,1180.9 1200.0,1178.6 1200.6,1176.6 1201.3,1178.5 1201.9,1178.9 1202.5,1177.7 1203.2,1176.3 1203.8,1178.0 1204.5,1178.3 1205.1,1177.7 1205.7,1178.8 1206.4,1179.1 1207.0,1178.7 1207.7,1179.2 1208.3,1179.8 1209.0,1178.5 1209.6,1177.0 1210.2,1175.7 1210.9,1180.5 1211.5,1179.7 1212.2,1181.4 1212.8,1178.7 1213.5,1180.7 1214.1,1179.6 1214.7,1179.5 1215.4,1177.7 1216.0,1179.9 1216.7,1181.1 1217.3,1182.7 1217.9,1180.9 1218.6,1180.6 1219.2,1182.6 1219.9,1181.7 1220.5,1181.2 1221.2,1180.3 1221.8,1181.0 1222.4,1178.7 1223.1,1179.0 1223.7,1182.9 1224.4,1183.6 1225.0,1184.5 1225.6,1181.4 1226.3,1182.1 1226.9,1180.5 1227.6,1180.2 1228.2,1180.9 1228.9,1179.9 1229.5,1178.4 1230.1,1178.5 1230.8,1179.9 1231.4,1179.2 1232.1,1178.0 1232.7,1179.8 1233.4,1177.5 1234.0,1180.4 1234.6,1181.1 1235.3,1180.8 1235.9,1182.6 1236.6,1178.7 1237.2,1177.6 1237.8,1181.3 1238.5,1179.0 1239.1,1181.6 1239.8,1182.4 1240.4,1182.1 1241.1,1182.3 1241.7,1180.9 1242.3,1180.3 1243.0,1181.3 1243.6,1180.8 1244.3,1181.5 1244.9,1180.5 1245.6,1179.3 1246.2,1178.9 1246.8,1181.2 1247.5,1180.0 1248.1,1179.4 1248.8,1179.1 1249.4,1177.1 1250.0,1179.1 1250.7,1177.3 1251.3,1180.3 1252.0,1178.3 1252.6,1181.9 1253.3,1179.1 1253.9,1179.9 1254.5,1179.3 1255.2,1177.9 1255.8,1177.0 1256.5,1175.6 1257.1,1176.6 1257.7,1175.7 1258.4,1179.9 1259.0,1177.3 1259.7,1178.3 1260.3,1178.7 1261.0,1178.9 1261.6,1181.7 1262.2,1178.4 1262.9,1176.8 1263.5,1175.9 1264.2,1176.9 1264.8,1175.3 1265.5,1170.7 1266.1,1171.3 1266.7,1170.8 1267.4,1171.8 1268.0,1172.6 1268.7,1172.3 1269.3,1173.9 1269.9,1176.3 1270.6,1173.3 1271.2,1176.1 1271.9,1178.0 1272.5,1178.7 1273.2,1178.6 1273.8,1178.8 1274.4,1177.1 1275.1,1177.2 1275.7,1174.2 1276.4,1175.0 1277.0,1173.4 1277.7,1174.7 1278.3,1177.2 1278.9,1174.9 1279.6,1175.9 1280.2,1176.1 1280.9,1176.2 1281.5,1175.6 1282.1,1177.2 1282.8,1173.3 1283.4,1174.0 1284.1,1172.1 1284.7,1177.0 1285.4,1172.7 1286.0,1176.2 1286.6,1173.7 1287.3,1174.2 1287.9,1171.4 1288.6,1172.6 1289.2,1172.8 1289.8,1173.8 1290.5,1171.6 1291.1,1172.7 1291.8,1171.3 1292.4,1174.8 1293.1,1173.4 1293.7,1179.7 1294.3,1174.3 1295.0,1174.5 1295.6,1176.5 1296.3,1176.3 1296.9,1177.7 1297.6,1177.1 1298.2,1173.8 1298.8,1173.1 1299.5,1171.4 1300.1,1171.4 1300.8,1171.0 1301.4,1170.1 1302.0,1168.2 1302.7,1168.7 1303.3,1169.2 1304.0,1170.2 1304.6,1169.5 1305.3,1171.4 1305.9,1169.2 1306.5,1169.6 1307.2,1168.5 1307.8,1165.7 1308.5,1165.6 1309.1,1166.3 1309.8,1168.4 1310.4,1167.9 1311.0,1169.1 1311.7,1171.7 1312.3,1169.6 1313.0,1171.8 1313.6,1171.4 1314.2,1169.3 1314.9,1172.6 1315.5,1173.0 1316.2,1173.7 1316.8,1172.3 1317.5,1171.5 1318.1,1168.3 1318.7,1166.2 1319.4,1165.6 1320.0,1165.3 1320.7,1163.3 1321.3,1166.3 1321.9,1162.9 1322.6,1165.2 1323.2,1162.7 1323.9,1166.8 1324.5,1166.8 1325.2,1168.2 1325.8,1164.8 1326.4,1168.3 1327.1,1165.8 1327.7,1164.2 1328.4,1164.3 1329.0,1162.6 1329.7,1163.4 1330.3,1165.1 1330.9,1162.8 1331.6,1165.1 1332.2,1163.4 1332.9,1161.2 1333.5,1163.6 1334.1,1166.2 1334.8,1166.8 1335.4,1163.7 1336.1,1166.8 1336.7,1164.6 1337.4,1163.5 1338.0,1162.9 1338.6,1164.7 1339.3,1162.5 1339.9,1161.9 1340.6,1162.8 1341.2,1161.2 1341.9,1163.2 1342.5,1163.9 1343.1,1160.3 1343.8,1160.2 1344.4,1161.5 1345.1,1158.6 1345.7,1160.1 1346.3,1160.5 1347.0,1161.2 1347.6,1161.1 1348.3,1164.8 1348.9,1161.9 1349.6,1164.4 1350.2,1165.7 1350.8,1166.1 1351.5,1161.0 1352.1,1161.2 1352.8,1160.6 1353.4,1161.0 1354.0,1160.8 1354.7,1158.8 1355.3,1159.3 1356.0,1161.2 1356.6,1157.4 1357.3,1157.8 1357.9,1159.8 1358.5,1158.7 1359.2,1156.0 1359.8,1154.4 1360.5,1156.6 1361.1,1154.4 1361.8,1156.0 1362.4,1158.9 1363.0,1159.7 1363.7,1160.9 1364.3,1158.9 1365.0,1160.8 1365.6,1154.7 1366.2,1156.6 1366.9,1160.9 1367.5,1158.2 1368.2,1156.0 1368.8,1153.0 1369.5,1152.8 1370.1,1155.7 1370.7,1154.7 1371.4,1153.9 1372.0,1157.3 1372.7,1157.5 1373.3,1155.3 1374.0,1155.4 1374.6,1159.9 1375.2,1155.6 1375.9,1158.6 1376.5,1156.4 1377.2,1156.1 1377.8,1155.5 1378.4,1157.6 1379.1,1157.1 1379.7,1157.2 1380.4,1155.1 1381.0,1154.6 1381.7,1153.9 1382.3,1153.1 1382.9,1152.8 1383.6,1151.9 1384.2,1149.2 1384.9,1151.7 1385.5,1149.6 1386.1,1150.5 1386.8,1154.5 1387.4,1154.4 1388.1,1153.2 1388.7,1153.1 1389.4,1153.4 1390.0,1153.2 1390.6,1152.5 1391.3,1147.6 1391.9,1148.2 1392.6,1147.6 1393.2,1144.7 1393.9,1145.5 1394.5,1147.4 1395.1,1146.4 1395.8,1146.9 1396.4,1146.1 1397.1,1146.5 1397.7,1148.3 1398.3,1148.9 1399.0,1150.6 1399.6,1150.5 1400.3,1147.6 1400.9,1151.1 1401.6,1148.9 1402.2,1148.9 1402.8,1146.0 1403.5,1147.5 1404.1,1144.5 1404.8,1146.4 1405.4,1144.2 1406.1,1144.9 1406.7,1143.6 1407.3,1144.1 1408.0,1148.1 1408.6,1144.4 1409.3,1144.6 1409.9,1147.6 1410.5,1145.8 1411.2,1146.3 1411.8,1141.7 1412.5,1140.7 1413.1,1142.1 1413.8,1143.9 1414.4,1142.4 1415.0,1144.2 1415.7,1143.5 1416.3,1143.7 1417.0,1142.7 1417.6,1143.0 1418.2,1143.3 1418.9,1141.7 1419.5,1139.5 1420.2,1141.1 1420.8,1140.2 1421.5,1139.0 1422.1,1138.4 1422.7,1139.6 1423.4,1138.4 1424.0,1140.7 1424.7,1137.1 1425.3,1138.7 1426.0,1136.7 1426.6,1138.3 1427.2,1138.4 1427.9,1139.1 1428.5,1138.8 1429.2,1140.5 1429.8,1142.5 1430.4,1138.5 1431.1,1140.7 1431.7,1140.1 1432.4,1140.0 1433.0,1138.0 1433.7,1135.5 1434.3,1136.1 1434.9,1133.4 1435.6,1134.7 1436.2,1135.2 1436.9,1133.1 1437.5,1132.2 1438.2,1132.1 1438.8,1136.1 1439.4,1133.9 1440.1,1131.6 1440.7,1131.9 1441.4,1133.7 1442.0,1134.3 1442.6,1128.1 1443.3,1129.7 1443.9,1130.3 1444.6,1128.7 1445.2,1126.5 1445.9,1130.6 1446.5,1127.8 1447.1,1125.9 1447.8,1127.5 1448.4,1128.4 1449.1,1129.2 1449.7,1127.7 1450.3,1124.4 1451.0,1127.6 1451.6,1123.5 1452.3,1127.6 1452.9,1128.6 1453.6,1130.8 1454.2,1129.2 1454.8,1130.2 1455.5,1128.0 1456.1,1127.2 1456.8,1126.7 1457.4,1128.4 1458.1,1123.8 1458.7,1123.7 1459.3,1122.5 1460.0,1123.8 1460.6,1122.6 1461.3,1126.5 1461.9,1125.7 1462.5,1124.3 1463.2,1124.5 1463.8,1123.3 1464.5,1120.4 1465.1,1121.8 1465.8,1119.8 1466.4,1118.6 1467.0,1120.2 1467.7,1120.5 1468.3,1116.4 1469.0,1119.3 1469.6,1119.0 1470.3,1117.6 1470.9,1118.3 1471.5,1118.3 1472.2,1117.4 1472.8,1117.6 1473.5,1119.1 1474.1,1117.6 1474.7,1117.8 1475.4,1114.9 1476.0,1116.0 1476.7,1116.2 1477.3,1111.5 1478.0,1110.9 1478.6,1111.7 1479.2,1111.6 1479.9,1110.0 1480.5,1110.2 1481.2,1115.4 1481.8,1111.0 1482.4,1108.9 1483.1,1104.5 1483.7,1111.1 1484.4,1107.8 1485.0,1110.7 1485.7,1108.1 1486.3,1105.9 1486.9,1105.3 1487.6,1107.0 1488.2,1103.0 1488.9,1103.7 1489.5,1101.4 1490.2,1101.2 1490.8,1106.0 1491.4,1104.7 1492.1,1102.0 1492.7,1102.1 1493.4,1103.2 1494.0,1102.1 1494.6,1104.7 1495.3,1102.6 1495.9,1102.2 1496.6,1105.7 1497.2,1103.3 1497.9,1103.6 1498.5,1099.8 1499.1,1101.6 1499.8,1099.7 1500.4,1096.9 1501.1,1093.6 1501.7,1089.6 1502.4,1093.1 1503.0,1092.2 1503.6,1090.3 1504.3,1092.1 1504.9,1094.9 1505.6,1091.9 1506.2,1095.4 1506.8,1089.4 1507.5,1092.9 1508.1,1091.0 1508.8,1091.5 1509.4,1092.9 1510.1,1090.7 1510.7,1086.7 1511.3,1090.7 1512.0,1084.0 1512.6,1084.1 1513.3,1083.2 1513.9,1086.8 1514.5,1085.3 1515.2,1087.6 1515.8,1085.8 1516.5,1089.2 1517.1,1086.8 1517.8,1088.5 1518.4,1083.9 1519.0,1083.9 1519.7,1088.2 1520.3,1086.5 1521.0,1084.3 1521.6,1089.1 1522.3,1083.3 1522.9,1085.0 1523.5,1083.7 1524.2,1077.6 1524.8,1081.5 1525.5,1080.0 1526.1,1077.1 1526.7,1077.4 1527.4,1077.3 1528.0,1075.2 1528.7,1074.1 1529.3,1076.6 1530.0,1076.7 1530.6,1078.0 1531.2,1077.7 1531.9,1076.4 1532.5,1076.2 1533.2,1078.5 1533.8,1077.4 1534.5,1078.1 1535.1,1077.8 1535.7,1079.1 1536.4,1074.3 1537.0,1076.0 1537.7,1073.8 1538.3,1073.9 1538.9,1074.8 1539.6,1072.0 1540.2,1075.1 1540.9,1071.0 1541.5,1066.4 1542.2,1069.6 1542.8,1074.3 1543.4,1069.0 1544.1,1069.6 1544.7,1070.1 1545.4,1068.6 1546.0,1071.9 1546.6,1066.3 1547.3,1064.9 1547.9,1067.0 1548.6,1068.1 1549.2,1069.1 1549.9,1070.3 1550.5,1073.6 1551.1,1070.3 1551.8,1070.6 1552.4,1071.8 1553.1,1073.1 1553.7,1068.2 1554.4,1068.4 1555.0,1063.9 1555.6,1067.0 1556.3,1068.1 1556.9,1067.8 1557.6,1071.6 1558.2,1071.4 1558.8,1066.5 1559.5,1071.8 1560.1,1070.3 1560.8,1067.6 1561.4,1068.5 1562.1,1068.0 1562.7,1067.6 1563.3,1068.8 1564.0,1067.7 1564.6,1071.3 1565.3,1070.2 1565.9,1067.0 1566.6,1067.8 1567.2,1068.8 1567.8,1069.0 1568.5,1067.0 1569.1,1063.5 1569.8,1062.5 1570.4,1063.6 1571.0,1065.9 1571.7,1068.7 1572.3,1067.5 1573.0,1066.9 1573.6,1067.1 1574.3,1068.1 1574.9,1067.3 1575.5,1070.0 1576.2,1065.9 1576.8,1065.4 1577.5,1067.5 1578.1,1066.1 1578.7,1068.6 1579.4,1066.1 1580.0,1067.3 1580.7,1066.1 1581.3,1065.9 1582.0,1071.4 1582.6,1072.8 1583.2,1069.4 1583.9,1069.9 1584.5,1071.3 1585.2,1073.3 1585.8,1071.2 1586.5,1074.2 1587.1,1066.9 1587.7,1069.2 1588.4,1065.5 1589.0,1066.9 1589.7,1065.5 1590.3,1067.1 1590.9,1066.2 1591.6,1062.3 1592.2,1062.0 1592.9,1069.2 1593.5,1065.0 1594.2,1061.3 1594.8,1063.4 1595.4,1063.1 1596.1,1067.6 1596.7,1066.3 1597.4,1065.8 1598.0,1064.5 1598.7,1068.2 1599.3,1064.5 1599.9,1068.9 1600.6,1068.1 1601.2,1064.7 1601.9,1061.7 1602.5,1063.6 1603.1,1063.4 1603.8,1065.9 1604.4,1065.9 1605.1,1061.3 1605.7,1061.8 1606.4,1061.7 1607.0,1064.3 1607.6,1064.4 1608.3,1067.5 1608.9,1065.8 1609.6,1067.0 1610.2,1065.9 1610.8,1064.5 1611.5,1069.4 1612.1,1064.5 1612.8,1067.4 1613.4,1065.0 1614.1,1062.7 1614.7,1065.5 1615.3,1064.3 1616.0,1065.4 1616.6,1065.3 1617.3,1065.3 1617.9,1065.1 1618.6,1062.2 1619.2,1064.7 1619.8,1068.0 1620.5,1063.7 1621.1,1059.7 1621.8,1061.6 1622.4,1060.8 1623.0,1062.8 1623.7,1066.6 1624.3,1061.9 1625.0,1062.0 1625.6,1065.9 1626.3,1064.1 1626.9,1064.4 1627.5,1063.5 1628.2,1064.5 1628.8,1067.0 1629.5,1065.6 1630.1,1064.7 1630.8,1064.3 1631.4,1063.3 1632.0,1062.4 1632.7,1066.2 1633.3,1064.7 1634.0,1063.1 1634.6,1061.6 1635.2,1059.1 1635.9,1061.3 1636.5,1062.1 1637.2,1063.0 1637.8,1061.3 1638.5,1061.9 1639.1,1058.6 1639.7,1061.6 1640.4,1057.7 1641.0,1058.1 1641.7,1057.1 1642.3,1053.7 1642.9,1055.3 1643.6,1057.4 1644.2,1053.1 1644.9,1054.5 1645.5,1052.6 1646.2,1055.7 1646.8,1059.4 1647.4,1056.2 1648.1,1057.5 1648.7,1056.2 1649.4,1054.1 1650.0,1054.9 1650.7,1053.5 1651.3,1052.3 1651.9,1051.4 1652.6,1051.9 1653.2,1050.0 1653.9,1052.7 1654.5,1051.5 1655.1,1050.4 1655.8,1048.4 1656.4,1050.0 1657.1,1048.0 1657.7,1046.8 1658.4,1048.6 1659.0,1049.5 1659.6,1047.2 1660.3,1048.1 1660.9,1045.4 1661.6,1047.6 1662.2,1046.4 1662.9,1046.9 1663.5,1047.0 1664.1,1046.8 1664.8,1046.1 1665.4,1046.4 1666.1,1046.2 1666.7,1044.3 1667.3,1042.0 1668.0,1046.4 1668.6,1044.2 1669.3,1041.6 1669.9,1046.3 1670.6,1045.8 1671.2,1047.8 1671.8,1049.5 1672.5,1042.2 1673.1,1042.9 1673.8,1044.6 1674.4,1043.0 1675.0,1046.6 1675.7,1045.7 1676.3,1042.0 1677.0,1043.5 1677.6,1046.3 1678.3,1050.2 1678.9,1048.0 1679.5,1043.8 1680.2,1048.1 1680.8,1045.8 1681.5,1048.4 1682.1,1045.7 1682.8,1045.9 1683.4,1046.1 1684.0,1046.1 1684.7,1041.8 1685.3,1042.0 1686.0,1041.3 1686.6,1041.4 1687.2,1044.9 1687.9,1042.0 1688.5,1041.5 1689.2,1042.7 1689.8,1043.5 1690.5,1040.2 1691.1,1039.2 1691.7,1040.1 1692.4,1040.9 1693.0,1040.7 1693.7,1043.9 1694.3,1040.8 1695.0,1041.3 1695.6,1038.5 1696.2,1037.5 1696.9,1038.7 1697.5,1040.6 1698.2,1038.1 1698.8,1040.9 1699.4,1038.7 1700.1,1041.0 1700.7,1038.0 1701.4,1037.5 1702.0,1038.8 1702.7,1036.1 1703.3,1035.3 1703.9,1036.0 1704.6,1038.1 1705.2,1036.2 1705.9,1040.0 1706.5,1038.2 1707.1,1040.5 1707.8,1039.7 1708.4,1042.3 1709.1,1040.9 1709.7,1037.1 1710.4,1042.7 1711.0,1041.3 1711.6,1039.5 1712.3,1038.2 1712.9,1037.1 1713.6,1040.9 1714.2,1039.2 1714.9,1038.9 1715.5,1040.0 1716.1,1038.3 1716.8,1043.4 1717.4,1040.8 1718.1,1042.9 1718.7,1044.2 1719.3,1044.8 1720.0,1044.4 1720.6,1046.3 1721.3,1044.0 1721.9,1048.7 1722.6,1043.1 1723.2,1047.0 1723.8,1049.6 1724.5,1043.7 1725.1,1047.3 1725.8,1050.3 1726.4,1045.6 1727.1,1049.1 1727.7,1047.1 1728.3,1050.1 1729.0,1050.9 1729.6,1051.0 1730.3,1049.7 1730.9,1052.2 1731.5,1051.8 1732.2,1054.7 1732.8,1055.3 1733.5,1056.7 1734.1,1056.2 1734.8,1056.1 1735.4,1056.6 1736.0,1062.6 1736.7,1055.9 1737.3,1056.1 1738.0,1063.8 1738.6,1062.9 1739.2,1062.8 1739.9,1063.8 1740.5,1063.7 1741.2,1059.2 1741.8,1061.9 1742.5,1064.1 1743.1,1064.2 1743.7,1065.4 1744.4,1064.9 1745.0,1065.0 1745.7,1065.0 1746.3,1068.6 1747.0,1068.3 1747.6,1068.2 1748.2,1069.3 1748.9,1067.7 1749.5,1063.2 1750.2,1068.1 1750.8,1063.4 1751.4,1062.7 1752.1,1071.7 1752.7,1069.3 1753.4,1069.1 1754.0,1071.1 1754.7,1074.0 1755.3,1077.1 1755.9,1076.3 1756.6,1073.5 1757.2,1072.3 1757.9,1075.1 1758.5,1076.9 1759.2,1077.4 1759.8,1074.7 1760.4,1076.2 1761.1,1077.8 1761.7,1076.2 1762.4,1080.5 1763.0,1081.8 1763.6,1080.6 1764.3,1077.9 1764.9,1080.6 1765.6,1079.9 1766.2,1079.8 1766.9,1080.7 1767.5,1079.9 1768.1,1080.6 1768.8,1082.0 1769.4,1081.0 1770.1,1081.9 1770.7,1085.5 1771.3,1085.7 1772.0,1088.2 1772.6,1088.0 1773.3,1087.8 1773.9,1090.2 1774.6,1088.3 1775.2,1085.5 1775.8,1090.0 1776.5,1088.6 1777.1,1087.2 1777.8,1086.0 1778.4,1086.7 1779.1,1090.8 1779.7,1089.0 1780.3,1089.6 1781.0,1092.4 1781.6,1091.6 1782.3,1091.1 1782.9,1096.2 1783.5,1095.0 1784.2,1096.6 1784.8,1095.8 1785.5,1096.4 1786.1,1095.6 1786.8,1093.1 1787.4,1093.5 1788.0,1096.3 1788.7,1093.9 1789.3,1097.4 1790.0,1095.0 1790.6,1093.6 1791.3,1097.4 1791.9,1096.9 1792.5,1097.1 1793.2,1096.4 1793.8,1095.3 1794.5,1099.3 1795.1,1099.4 1795.7,1098.7 1796.4,1097.7 1797.0,1101.3 1797.7,1101.5 1798.3,1102.2 1799.0,1101.6 1799.6,1101.3 1800.2,1099.1 1800.9,1097.9 1801.5,1100.0 1802.2,1100.0 1802.8,1096.6 1803.4,1098.2 1804.1,1100.6 1804.7,1097.4 1805.4,1100.5 1806.0,1098.8 1806.7,1100.2 1807.3,1102.7 1807.9,1102.8 1808.6,1105.7 1809.2,1100.4 1809.9,1102.5 1810.5,1100.9 1811.2,1099.5 1811.8,1100.5 1812.4,1099.3 1813.1,1099.7 1813.7,1099.0 1814.4,1100.3 1815.0,1098.7 1815.6,1099.3 1816.3,1100.3 1816.9,1100.6 1817.6,1101.8 1818.2,1104.6 1818.9,1105.1 1819.5,1104.9 1820.1,1106.0 1820.8,1107.5 1821.4,1108.0 1822.1,1104.3 1822.7,1103.4 1823.4,1103.5 1824.0,1104.1 1824.6,1102.3 1825.3,1102.4 1825.9,1104.2 1826.6,1107.2 1827.2,1106.1 1827.8,1107.2 1828.5,1105.4 1829.1,1103.8 1829.8,1104.4 1830.4,1102.4 1831.1,1102.8 1831.7,1103.4 1832.3,1105.9 1833.0,1105.0 1833.6,1106.0 1834.3,1104.0 1834.9,1104.1 1835.5,1104.9 1836.2,1106.0 1836.8,1105.8 1837.5,1104.6 1838.1,1105.8 1838.8,1106.0 1839.4,1109.7 1840.0,1108.4 1840.7,1110.8 1841.3,1103.5 1842.0,1105.8 1842.6,1104.8 1843.3,1106.1 1843.9,1105.9 1844.5,1105.5 1845.2,1102.5 1845.8,1108.3 1846.5,1104.0 1847.1,1109.9 1847.7,1108.1 1848.4,1107.7 1849.0,1108.9 1849.7,1111.7 1850.3,1108.4 1851.0,1108.8 1851.6,1107.2 1852.2,1110.2 1852.9,1108.9 1853.5,1111.6 1854.2,1109.7 1854.8,1110.2 1855.5,1108.8 1856.1,1107.5 1856.7,1112.4 1857.4,1112.6 1858.0,1111.6 1858.7,1113.7 1859.3,1117.1 1859.9,1114.4 1860.6,1119.2 1861.2,1116.8 1861.9,1113.2 1862.5,1114.4 1863.2,1115.1 1863.8,1114.5 1864.4,1113.6 1865.1,1112.9 1865.7,1113.3 1866.4,1111.9 1867.0,1110.5 1867.6,1108.1 1868.3,1113.8 1868.9,1111.8 1869.6,1113.9 1870.2,1113.6 1870.9,1116.3 1871.5,1116.7 1872.1,1119.5 1872.8,1117.6 1873.4,1118.7 1874.1,1119.4 1874.7,1119.7 1875.4,1119.6 1876.0,1116.5 1876.6,1118.9 1877.3,1117.3 1877.9,1116.7 1878.6,1120.7 1879.2,1119.8 1879.8,1118.4 1880.5,1118.0 1881.1,1120.4 1881.8,1119.9 1882.4,1120.2 1883.1,1120.8 1883.7,1119.6 1884.3,1118.4 1885.0,1123.6 1885.6,1120.9 1886.3,1122.5 1886.9,1119.9 1887.6,1120.7 1888.2,1126.4 1888.8,1126.2 1889.5,1126.9 1890.1,1129.5 1890.8,1130.8 1891.4,1131.6 1892.0,1131.1 1892.7,1128.0 1893.3,1129.9 1894.0,1132.6 1894.6,1135.3 1895.3,1135.6 1895.9,1134.7 1896.5,1135.2 1897.2,1138.0 1897.8,1136.8 1898.5,1137.7 1899.1,1136.7 1899.7,1135.9 1900.4,1133.4 1901.0,1131.8 1901.7,1133.9 1902.3,1134.9 1903.0,1134.8 1903.6,1136.7 1904.2,1134.8 1904.9,1138.6 1905.5,1139.3 1906.2,1137.4 1906.8,1139.5 1907.5,1140.9 1908.1,1142.7 1908.7,1146.2 1909.4,1143.7 1910.0,1143.8 1910.7,1140.1 1911.3,1144.3 1911.9,1142.2 1912.6,1141.1 1913.2,1137.9 1913.9,1139.5 1914.5,1144.7 1915.2,1144.8 1915.8,1143.8 1916.4,1142.8 1917.1,1143.5 1917.7,1145.4 1918.4,1146.0 1919.0,1143.9 1919.7,1144.4 1920.3,1144.4 1920.9,1149.5 1921.6,1143.4 1922.2,1148.5 1922.9,1148.5 1923.5,1147.7 1924.1,1148.4 1924.8,1149.4 1925.4,1149.9 1926.1,1148.1 1926.7,1146.9 1927.4,1153.9 1928.0,1152.3 1928.6,1149.1 1929.3,1151.7 1929.9,1149.8 1930.6,1151.9 1931.2,1149.1 1931.8,1149.5 1932.5,1153.7 1933.1,1150.8 1933.8,1151.2 1934.4,1152.8 1935.1,1153.9 1935.7,1151.3 1936.3,1151.4 1937.0,1152.2 1937.6,1149.2 1938.3,1150.1 1938.9,1152.3 1939.6,1151.2 1940.2,1153.4 1940.8,1150.0 1941.5,1152.3 1942.1,1153.2 1942.8,1152.1 1943.4,1152.1 1944.0,1150.5 1944.7,1153.4 1945.3,1155.5 1946.0,1154.1 1946.6,1154.8 1947.3,1153.4 1947.9,1154.2 1948.5,1154.6 1949.2,1155.7 1949.8,1155.1 1950.5,1155.2 1951.1,1157.1 1951.8,1159.7 1952.4,1157.5 1953.0,1157.1 1953.7,1158.1 1954.3,1159.3 1955.0,1154.3 1955.6,1157.5 1956.2,1160.1 1956.9,1160.2 1957.5,1159.7 1958.2,1161.6 1958.8,1158.7 1959.5,1163.2 1960.1,1163.3 1960.7,1162.8 1961.4,1160.1 1962.0,1160.7 1962.7,1159.3 1963.3,1161.1 1963.9,1158.6 1964.6,1154.8 1965.2,1155.4 1965.9,1159.3 1966.5,1159.3 1967.2,1159.9 1967.8,1157.9 1968.4,1160.3 1969.1,1160.8 1969.7,1161.0 1970.4,1161.5 1971.0,1164.9 1971.7,1161.7 1972.3,1165.0 1972.9,1160.6 1973.6,1161.1 1974.2,1161.7 1974.9,1162.9 1975.5,1162.1 1976.1,1160.9 1976.8,1163.2 1977.4,1164.8 1978.1,1164.4 1978.7,1165.1 1979.4,1164.0 1980.0,1163.0 1980.6,1163.0 1981.3,1161.3 1981.9,1165.8 1982.6,1163.9 1983.2,1163.7 1983.9,1163.6 1984.5,1162.7 1985.1,1161.2 1985.8,1164.2 1986.4,1162.6 1987.1,1163.4 1987.7,1163.8 1988.3,1164.7 1989.0,1162.2 1989.6,1164.3 1990.3,1167.0 1990.9,1163.5 1991.6,1165.3 1992.2,1164.0 1992.8,1166.8 1993.5,1168.6 1994.1,1165.9 1994.8,1167.1 1995.4,1165.8 1996.0,1167.8 1996.7,1161.5 1997.3,1165.0 1998.0,1166.0 1998.6,1166.4 1999.3,1169.2 1999.9,1168.2 2000.5,1166.2 2001.2,1165.1 2001.8,1168.4 2002.5,1167.4 2003.1,1166.8 2003.8,1168.2 2004.4,1170.8 2005.0,1170.0 2005.7,1170.4 2006.3,1167.3 2007.0,1170.6 2007.6,1173.2 2008.2,1171.3 2008.9,1167.7 2009.5,1166.8 2010.2,1168.1 2010.8,1165.6 2011.5,1165.7 2012.1,1164.5 2012.7,1166.0 2013.4,1169.3 2014.0,1168.1 2014.7,1169.3 2015.3,1168.5 2016.0,1171.1 2016.6,1170.8 2017.2,1170.3 2017.9,1165.7 2018.5,1169.5 2019.2,1168.6 2019.8,1170.5 2020.4,1169.1 2021.1,1172.4 2021.7,1173.6 2022.4,1171.9 2023.0,1172.8 2023.7,1171.0 2024.3,1169.8 2024.9,1165.8 2025.6,1167.4 2026.2,1166.8 2026.9,1171.1 2027.5,1168.4 2028.1,1170.0 2028.8,1170.3 2029.4,1170.6 2030.1,1171.0 2030.7,1173.9 2031.4,1169.5 2032.0,1169.5 2032.6,1168.8 2033.3,1170.4 2033.9,1169.8 2034.6,1168.4 2035.2,1168.5 2035.9,1164.8 2036.5,1168.6 2037.1,1168.0 2037.8,1166.4 2038.4,1170.3 2039.1,1169.5 2039.7,1168.5 2040.3,1167.3 2041.0,1169.8 2041.6,1171.7 2042.3,1170.7 2042.9,1170.6 2043.6,1170.6 2044.2,1168.7 2044.8,1167.6 2045.5,1167.3 2046.1,1167.1 2046.8,1166.2 2047.4,1168.1 2048.1,1167.3 2048.7,1169.3 2049.3,1166.6 2050.0,1169.4 2050.6,1166.7 2051.3,1168.0 2051.9,1168.4 2052.5,1166.4 2053.2,1164.6 2053.8,1169.3 2054.5,1170.8 2055.1,1167.1 2055.8,1170.4 2056.4,1168.8 2057.0,1169.2 2057.7,1172.8 2058.3,1168.3 2059.0,1168.9 2059.6,1170.4 2060.2,1168.6 2060.9,1168.7 2061.5,1167.3 2062.2,1167.2 2062.8,1167.4 2063.5,1169.2 2064.1,1168.5 2064.7,1169.7 2065.4,1173.1 2066.0,1166.6 2066.7,1169.8 2067.3,1170.1 2068.0,1167.7 2068.6,1168.8 2069.2,1167.5 2069.9,1167.2 2070.5,1169.3 2071.2,1170.6" fill="none" stroke="#0000ff" stroke-width="7" stroke-linejoin="round" stroke-linecap="round" shape-rendering="crispEdges"/>
<path d="M150.3,1148.6 150.9,1146.7 151.6,1146.3 152.2,1144.9 152.9,1147.6 153.5,1148.9 154.2,1147.7 154.8,1148.3 155.4,1149.6 156.1,1146.8 156.7,1151.5 157.4,1147.1 158.0,1148.5 158.6,1151.2 159.3,1147.2 159.9,1146.5 160.6,1146.4 161.2,1145.9 161.9,1144.2 162.5,1146.0 163.1,1148.4 163.8,1147.7 164.4,1148.3 165.1,1149.6 165.7,1150.1 166.3,1149.8 167.0,1150.9 167.6,1149.5 168.3,1152.0 168.9,1150.4 169.6,1151.6 170.2,1150.5 170.8,1148.9 171.5,1148.9 172.1,1147.0 172.8,1149.7 173.4,1149.2 174.1,1151.1 174.7,1149.0 175.3,1152.5 176.0,1151.3 176.6,1153.3 177.3,1152.7 177.9,1150.3 178.5,1151.3 179.2,1150.7 179.8,1152.2 180.5,1153.1 181.1,1152.6 181.8,1152.3 182.4,1149.6 183.0,1151.2 183.7,1151.7 184.3,1152.1 185.0,1150.5 185.6,1151.7 186.3,1152.4 186.9,1150.2 187.5,1150.8 188.2,1151.6 188.8,1149.2 189.5,1148.8 190.1,1150.3 190.7,1149.1 191.4,1148.9 192.0,1148.6 192.7,1149.7 193.3,1149.8 194.0,1150.0 194.6,1151.2 195.2,1152.6 195.9,1151.1 196.5,1151.8 197.2,1152.0 197.8,1151.6 198.4,1153.5 199.1,1153.6 199.7,1151.6 200.4,1153.2 201.0,1151.7 201.7,1152.0 202.3,1152.0 202.9,1150.7 203.6,1149.6 204.2,1150.6 204.9,1149.0 205.5,1149.2 206.2,1150.4 206.8,1151.5 207.4,1149.8 208.1,1150.2 208.7,1149.2 209.4,1150.5 210.0,1150.1 210.6,1152.8 211.3,1151.4 211.9,1151.7 212.6,1151.8 213.2,1152.5 213.9,1154.5 214.5,1154.1 215.1,1153.0 215.8,1154.2 216.4,1154.6 217.1,1155.6 217.7,1152.9 218.4,1154.3 219.0,1150.9 219.6,1150.8 220.3,1148.9 220.9,1150.9 221.6,1148.5 222.2,1149.1 222.8,1151.5 223.5,1151.1 224.1,1151.5 224.8,1153.8 225.4,1153.5 226.1,1154.6 226.7,1154.2 227.3,1155.4 228.0,1155.6 228.6,1153.5 229.3,1155.1 229.9,1152.2 230.5,1152.7 231.2,1152.1 231.8,1153.4 232.5,1151.6 233.1,1152.4 233.8,1153.5 234.4,1155.2 235.0,1152.7 235.7,1152.3 236.3,1152.5 237.0,1153.5 237.6,1152.4 238.3,1153.2 238.9,1150.9 239.5,1153.7 240.2,1153.2 240.8,1154.4 241.5,1154.1 242.1,1154.5 242.7,1152.5 243.4,1154.1 244.0,1151.7 244.7,1152.5 245.3,1153.6 246.0,1154.0 246.6,1151.2 247.2,1153.8 247.9,1152.9 248.5,1152.7 249.2,1153.6 249.8,1154.4 250.5,1154.7 251.1,1152.0 251.7,1152.3 252.4,1152.2 253.0,1149.8 253.7,1153.5 254.3,1153.6 254.9,1151.1 255.6,1151.7 256.2,1151.5 256.9,1152.3 257.5,1151.2 258.2,1152.2 258.8,1150.0 259.4,1153.5 260.1,1151.6 260.7,1154.3 261.4,1150.0 262.0,1152.2 262.6,1151.2 263.3,1152.0 263.9,1152.6 264.6,1152.0 265.2,1150.8 265.9,1150.4 266.5,1152.6 267.1,1154.4 267.8,1155.2 268.4,1153.6 269.1,1152.0 269.7,1153.5 270.4,1152.4 271.0,1151.3 271.6,1153.3 272.3,1151.1 272.9,1151.1 273.6,1151.2 274.2,1152.4 274.8,1152.7 275.5,1151.1 276.1,1151.9 276.8,1151.1 277.4,1153.4 278.1,1153.5 278.7,1151.7 279.3,1154.1 280.0,1151.1 280.6,1149.7 281.3,1149.4 281.9,1151.7 282.6,1152.2 283.2,1152.0 283.8,1153.3 284.5,1154.3 285.1,1152.2 285.8,1154.0 286.4,1155.2 287.0,1153.0 287.7,1151.1 288.3,1152.3 289.0,1152.4 289.6,1154.6 290.3,1150.8 290.9,1149.5 291.5,1152.4 292.2,1151.9 292.8,1150.7 293.5,1151.3 294.1,1151.2 294.7,1151.9 295.4,1149.6 296.0,1149.1 296.7,1149.8 297.3,1149.6 298.0,1151.9 298.6,1150.9 299.2,1150.7 299.9,1151.5 300.5,1150.8 301.2,1151.4 301.8,1151.0 302.5,1150.5 303.1,1150.9 303.7,1150.9 304.4,1149.9 305.0,1151.2 305.7,1152.7 306.3,1151.9 306.9,1149.2 307.6,1151.9 308.2,1148.2 308.9,1149.8 309.5,1149.3 310.2,1149.6 310.8,1147.0 311.4,1148.0 312.1,1148.3 312.7,1150.1 313.4,1149.8 314.0,1149.3 314.7,1148.9 315.3,1149.8 315.9,1148.9 316.6,1148.4 317.2,1145.9 317.9,1148.1 318.5,1146.1 319.1,1148.4 319.8,1148.5 320.4,1147.7 321.1,1148.5 321.7,1149.9 322.4,1149.6 323.0,1149.4 323.6,1150.6 324.3,1151.1 324.9,1150.1 325.6,1149.5 326.2,1149.6 326.8,1150.1 327.5,1150.2 328.1,1148.8 328.8,1150.3 329.4,1150.8 330.1,1148.9 330.7,1150.6 331.3,1149.8 332.0,1148.1 332.6,1148.7 333.3,1151.2 333.9,1149.7 334.6,1150.4 335.2,1149.4 335.8,1147.8 336.5,1149.2 337.1,1148.7 337.8,1149.9 338.4,1145.6 339.0,1149.0 339.7,1148.0 340.3,1145.7 341.0,1148.7 341.6,1148.8 342.3,1148.5 342.9,1148.5 343.5,1146.9 344.2,1144.0 344.8,1146.8 345.5,1146.4 346.1,1145.0 346.8,1145.8 347.4,1144.5 348.0,1147.8 348.7,1145.1 349.3,1145.3 350.0,1143.9 350.6,1144.7 351.2,1144.2 351.9,1144.4 352.5,1144.2 353.2,1146.3 353.8,1146.0 354.5,1147.2 355.1,1147.4 355.7,1145.8 356.4,1147.0 357.0,1145.7 357.7,1146.7 358.3,1144.3 358.9,1144.7 359.6,1144.4 360.2,1143.1 360.9,1143.9 361.5,1145.1 362.2,1143.4 362.8,1143.5 363.4,1143.8 364.1,1143.0 364.7,1143.2 365.4,1144.6 366.0,1143.9 366.7,1144.0 367.3,1144.6 367.9,1142.7 368.6,1141.4 369.2,1144.9 369.9,1142.9 370.5,1140.5 371.1,1141.3 371.8,1140.8 372.4,1140.4 373.1,1139.6 373.7,1138.6 374.4,1139.8 375.0,1141.5 375.6,1143.3 376.3,1143.5 376.9,1141.3 377.6,1140.7 378.2,1142.1 378.9,1143.2 379.5,1139.4 380.1,1141.6 380.8,1141.3 381.4,1140.7 382.1,1140.7 382.7,1140.3 383.3,1139.9 384.0,1137.9 384.6,1139.4 385.3,1140.2 385.9,1140.7 386.6,1141.3 387.2,1140.5 387.8,1140.4 388.5,1142.7 389.1,1139.8 389.8,1140.2 390.4,1140.6 391.0,1139.5 391.7,1137.6 392.3,1139.4 393.0,1138.7 393.6,1138.9 394.3,1138.9 394.9,1140.5 395.5,1139.5 396.2,1139.1 396.8,1137.2 397.5,1138.7 398.1,1138.3 398.8,1138.2 399.4,1134.4 400.0,1135.5 400.7,1137.9 401.3,1134.2 402.0,1135.1 402.6,1134.7 403.2,1135.7 403.9,1135.2 404.5,1135.3 405.2,1133.5 405.8,1136.2 406.5,1134.9 407.1,1136.5 407.7,1134.7 408.4,1134.0 409.0,1134.2 409.7,1134.5 410.3,1133.4 411.0,1132.6 411.6,1131.0 412.2,1131.3 412.9,1131.8 413.5,1131.0 414.2,1130.3 414.8,1130.4 415.4,1132.1 416.1,1131.3 416.7,1130.3 417.4,1130.2 418.0,1129.3 418.7,1132.2 419.3,1127.4 419.9,1130.4 420.6,1128.1 421.2,1130.6 421.9,1128.5 422.5,1129.7 423.1,1128.2 423.8,1129.3 424.4,1123.8 425.1,1125.2 425.7,1126.2 426.4,1124.5 427.0,1125.9 427.6,1126.3 428.3,1122.6 428.9,1123.9 429.6,1124.8 430.2,1126.1 430.9,1125.3 431.5,1125.1 432.1,1122.7 432.8,1124.1 433.4,1123.8 434.1,1122.5 434.7,1123.6 435.3,1122.4 436.0,1121.5 436.6,1124.2 437.3,1120.9 437.9,1122.4 438.6,1119.5 439.2,1119.4 439.8,1117.3 440.5,1118.7 441.1,1121.0 441.8,1119.3 442.4,1116.1 443.1,1120.3 443.7,1116.5 444.3,1116.6 445.0,1116.4 445.6,1114.2 446.3,1116.7 446.9,1116.7 447.5,1113.8 448.2,1114.8 448.8,1114.4 449.5,1113.0 450.1,1112.5 450.8,1112.0 451.4,1112.5 452.0,1113.1 452.7,1116.2 453.3,1111.6 454.0,1114.0 454.6,1113.4 455.2,1111.4 455.9,1110.4 456.5,1112.5 457.2,1111.3 457.8,1108.7 458.5,1108.9 459.1,1109.0 459.7,1111.3 460.4,1107.8 461.0,1108.4 461.7,1109.0 462.3,1105.5 463.0,1106.1 463.6,1107.4 464.2,1104.6 464.9,1103.6 465.5,1100.9 466.2,1103.9 466.8,1100.8 467.4,1101.4 468.1,1101.5 468.7,1100.2 469.4,1101.4 470.0,1101.0 470.7,1099.2 471.3,1101.0 471.9,1099.4 472.6,1097.4 473.2,1100.1 473.9,1099.9 474.5,1098.3 475.2,1097.4 475.8,1098.1 476.4,1095.2 477.1,1093.9 477.7,1094.3 478.4,1098.0 479.0,1093.6 479.6,1090.3 480.3,1093.6 480.9,1092.0 481.6,1090.2 482.2,1091.2 482.9,1090.0 483.5,1092.5 484.1,1090.7 484.8,1092.1 485.4,1091.9 486.1,1090.0 486.7,1091.0 487.3,1091.1 488.0,1088.2 488.6,1084.8 489.3,1085.2 489.9,1084.7 490.6,1085.1 491.2,1081.3 491.8,1082.9 492.5,1079.7 493.1,1079.9 493.8,1079.4 494.4,1078.8 495.1,1079.7 495.7,1081.4 496.3,1079.2 497.0,1078.6 497.6,1078.9 498.3,1078.5 498.9,1076.5 499.5,1077.4 500.2,1075.4 500.8,1076.8 501.5,1072.0 502.1,1074.6 502.8,1068.4 503.4,1067.8 504.0,1068.3 504.7,1066.9 505.3,1064.8 506.0,1064.0 506.6,1062.1 507.3,1060.6 507.9,1061.4 508.5,1061.6 509.2,1060.2 509.8,1060.5 510.5,1058.4 511.1,1059.8 511.7,1055.6 512.4,1058.7 513.0,1059.3 513.7,1060.0 514.3,1058.9 515.0,1058.9 515.6,1057.7 516.2,1054.2 516.9,1050.2 517.5,1052.5 518.2,1051.6 518.8,1052.2 519.4,1047.9 520.1,1047.4 520.7,1048.3 521.4,1045.5 522.0,1045.0 522.7,1044.5 523.3,1043.1 523.9,1042.6 524.6,1037.7 525.2,1037.4 525.9,1036.5 526.5,1039.3 527.2,1035.5 527.8,1034.8 528.4,1034.6 529.1,1036.5 529.7,1032.1 530.4,1034.4 531.0,1031.9 531.6,1031.5 532.3,1029.8 532.9,1029.6 533.6,1032.1 534.2,1029.8 534.9,1028.6 535.5,1023.5 536.1,1027.7 536.8,1024.5 537.4,1026.7 538.1,1025.1 538.7,1022.8 539.4,1022.8 540.0,1022.6 540.6,1026.6 541.3,1023.2 541.9,1022.8 542.6,1023.8 543.2,1022.2 543.8,1020.0 544.5,1018.9 545.1,1020.3 545.8,1014.2 546.4,1015.0 547.1,1011.7 547.7,1013.1 548.3,1008.6 549.0,1009.7 549.6,1012.2 550.3,1008.5 550.9,1009.4 551.5,1007.3 552.2,1007.2 552.8,1003.4 553.5,1004.4 554.1,1002.8 554.8,1005.3 555.4,1002.4 556.0,1005.0 556.7,1002.1 557.3,1001.2 558.0,1003.4 558.6,999.6 559.3,996.9 559.9,996.6 560.5,996.8 561.2,995.0 561.8,997.0 562.5,992.1 563.1,990.1 563.7,988.4 564.4,988.2 565.0,986.5 565.7,985.6 566.3,985.9 567.0,984.0 567.6,983.2 568.2,977.3 568.9,981.1 569.5,980.5 570.2,977.1 570.8,975.7 571.5,971.5 572.1,974.5 572.7,971.7 573.4,971.0 574.0,973.3 574.7,966.9 575.3,967.9 575.9,964.9 576.6,965.2 577.2,964.5 577.9,961.0 578.5,963.8 579.2,961.7 579.8,957.5 580.4,960.6 581.1,955.1 581.7,952.8 582.4,952.7 583.0,950.2 583.6,952.4 584.3,948.1 584.9,947.2 585.6,950.0 586.2,945.7 586.9,945.7 587.5,941.9 588.1,942.0 588.8,939.9 589.4,931.6 590.1,933.6 590.7,931.0 591.4,933.6 592.0,931.4 592.6,927.3 593.3,926.4 593.9,927.4 594.6,925.7 595.2,920.4 595.8,920.0 596.5,920.7 597.1,919.6 597.8,921.7 598.4,921.9 599.1,918.6 599.7,916.9 600.3,917.1 601.0,913.7 601.6,910.3 602.3,906.2 602.9,903.3 603.6,900.8 604.2,897.5 604.8,896.4 605.5,894.4 606.1,889.8 606.8,887.7 607.4,882.5 608.0,881.5 608.7,882.1 609.3,877.1 610.0,874.9 610.6,870.7 611.3,869.8 611.9,869.6 612.5,869.9 613.2,863.6 613.8,861.5 614.5,861.9 615.1,861.1 615.7,860.5 616.4,856.8 617.0,850.9 617.7,847.5 618.3,845.7 619.0,840.4 619.6,834.2 620.2,834.1 620.9,827.0 621.5,827.3 622.2,821.1 622.8,820.1 623.5,815.9 624.1,814.6 624.7,813.3 625.4,808.9 626.0,806.7 626.7,799.5 627.3,797.5 627.9,793.5 628.6,788.9 629.2,787.9 629.9,789.9 630.5,782.8 631.2,780.3 631.8,767.8 632.4,768.8 633.1,762.1 633.7,760.8 634.4,757.3 635.0,748.2 635.7,746.4 636.3,739.7 636.9,736.8 637.6,729.0 638.2,725.0 638.9,720.2 639.5,710.3 640.1,710.7 640.8,704.6 641.4,703.4 642.1,688.7 642.7,688.2 643.4,682.1 644.0,679.9 644.6,671.3 645.3,663.1 645.9,660.0 646.6,649.3 647.2,642.9 647.8,637.2 648.5,628.9 649.1,625.8 649.8,610.5 650.4,603.4 651.1,601.8 651.7,593.7 652.3,583.8 653.0,573.3 653.6,571.9 654.3,561.0 654.9,553.9 655.6,546.3 656.2,542.4 656.8,538.5 657.5,530.8 658.1,526.4 658.8,518.8 659.4,508.2 660.0,499.6 660.7,493.7 661.3,478.9 662.0,471.5 662.6,461.8 663.3,450.8 663.9,445.8 664.5,427.8 665.2,432.3 665.8,422.9 666.5,413.7 667.1,405.9 667.8,400.6 668.4,390.3 669.0,386.1 669.7,374.0 670.3,363.0 671.0,352.7 671.6,346.9 672.2,342.9 672.9,328.1 673.5,324.8 674.2,312.8 674.8,299.8 675.5,297.1 676.1,278.8 676.7,268.7 677.4,267.4 678.0,262.8 678.7,254.9 679.3,249.4 679.9,239.7 680.6,243.4 681.2,238.5 681.9,239.7 682.5,233.7 683.2,224.0 683.8,226.3 684.4,223.1 685.1,218.2 685.7,210.5 686.4,205.9 687.0,208.6 687.7,201.7 688.3,194.6 688.9,192.0 689.6,187.4 690.2,181.0 690.9,173.6 691.5,177.3 692.1,170.8 692.8,175.4 693.4,175.8 694.1,173.5 694.7,176.2 695.4,183.7 696.0,183.4 696.6,183.5 697.3,195.0 697.9,193.8 698.6,193.4 699.2,206.6 699.9,201.5 700.5,210.4 701.1,215.9 701.8,231.9 702.4,232.2 703.1,244.5 703.7,237.2 704.3,240.6 705.0,244.3 705.6,244.0 706.3,242.1 706.9,243.0 707.6,248.2 708.2,250.3 708.8,256.1 709.5,255.7 710.1,261.0 710.8,268.0 711.4,280.0 712.0,290.3 712.7,294.8 713.3,294.3 714.0,300.9 714.6,313.0 715.3,322.7 715.9,327.9 716.5,329.2 717.2,339.1 717.8,344.7 718.5,355.8 719.1,363.4 719.8,366.2 720.4,371.9 721.0,384.3 721.7,386.4 722.3,395.3 723.0,400.9 723.6,409.4 724.2,417.5 724.9,419.9 725.5,426.8 726.2,436.8 726.8,433.2 727.5,448.2 728.1,451.4 728.7,462.0 729.4,470.5 730.0,477.5 730.7,481.4 731.3,489.5 732.0,498.9 732.6,507.1 733.2,511.8 733.9,511.7 734.5,520.2 735.2,522.0 735.8,528.9 736.4,529.8 737.1,536.7 737.7,540.0 738.4,548.7 739.0,547.2 739.7,551.1 740.3,562.7 740.9,562.6 741.6,570.3 742.2,574.8 742.9,577.2 743.5,581.5 744.1,583.0 744.8,587.7 745.4,585.8 746.1,586.6 746.7,593.7 747.4,601.0 748.0,603.8 748.6,608.4 749.3,609.5 749.9,611.0 750.6,619.1 751.2,615.4 751.9,616.4 752.5,615.7 753.1,626.9 753.8,623.0 754.4,619.7 755.1,628.5 755.7,629.8 756.3,624.0 757.0,631.6 757.6,630.9 758.3,634.3 758.9,638.8 759.6,635.4 760.2,641.7 760.8,639.0 761.5,638.4 762.1,644.1 762.8,641.3 763.4,643.0 764.1,647.7 764.7,647.1 765.3,647.8 766.0,653.2 766.6,651.4 767.3,651.1 767.9,653.9 768.5,647.6 769.2,650.8 769.8,644.9 770.5,648.7 771.1,645.6 771.8,647.4 772.4,645.7 773.0,641.8 773.7,642.3 774.3,641.4 775.0,642.4 775.6,638.5 776.2,639.2 776.9,637.2 777.5,636.2 778.2,636.7 778.8,635.5 779.5,637.7 780.1,637.8 780.7,639.9 781.4,634.1 782.0,636.8 782.7,638.9 783.3,636.2 784.0,634.0 784.6,632.3 785.2,630.5 785.9,632.8 786.5,632.4 787.2,629.1 787.8,628.7 788.4,625.6 789.1,623.1 789.7,628.4 790.4,618.6 791.0,619.4 791.7,611.8 792.3,607.0 792.9,602.9 793.6,603.7 794.2,603.1 794.9,599.6 795.5,594.7 796.2,590.3 796.8,589.5 797.4,579.0 798.1,573.8 798.7,572.8 799.4,573.5 800.0,568.4 800.6,568.8 801.3,572.6 801.9,566.6 802.6,565.5 803.2,561.5 803.9,560.0 804.5,555.1 805.1,549.3 805.8,546.7 806.4,535.6 807.1,533.1 807.7,535.2 808.3,530.7 809.0,528.8 809.6,523.9 810.3,525.3 810.9,520.2 811.6,507.6 812.2,506.2 812.8,501.5 813.5,493.3 814.1,483.2 814.8,475.8 815.4,472.2 816.1,461.8 816.7,452.6 817.3,446.9 818.0,436.6 818.6,436.2 819.3,427.2 819.9,423.7 820.5,416.8 821.2,415.9 821.8,402.2 822.5,393.7 823.1,389.5 823.8,388.0 824.4,378.9 825.0,372.5 825.7,367.2 826.3,357.6 827.0,349.7 827.6,344.6 828.3,336.1 828.9,326.6 829.5,320.1 830.2,305.7 830.8,297.2 831.5,286.0 832.1,270.9 832.7,258.2 833.4,240.7 834.0,234.7 834.7,214.7 835.3,201.5 836.0,187.7 836.6,178.9 837.2,168.7 837.9,154.2 838.5,141.4 839.2,132.4 839.8,132.7 840.4,121.4 841.1,113.4 841.7,108.5 842.4,103.9 843.0,99.0 843.7,93.8 844.3,89.2 844.9,83.3 845.6,83.8 846.2,86.7 846.9,84.4 847.5,80.7 848.2,77.3 848.8,81.2 849.4,80.9 850.1,81.3 850.7,88.9 851.4,90.2 852.0,98.3 852.6,103.5 853.3,106.9 853.9,119.7 854.6,123.9 855.2,134.3 855.9,131.9 856.5,140.7 857.1,148.6 857.8,163.8 858.4,167.2 859.1,172.5 859.7,185.6 860.4,201.7 861.0,205.7 861.6,220.5 862.3,232.2 862.9,246.6 863.6,263.8 864.2,279.2 864.8,296.7 865.5,318.9 866.1,363.9 866.8,396.3 867.4,412.5 868.1,432.3 868.7,448.0 869.3,469.3 870.0,482.1 870.6,500.1 871.3,517.7 871.9,535.3 872.5,550.2 873.2,564.1 873.8,585.1 874.5,602.9 875.1,617.4 875.8,635.5 876.4,652.7 877.0,675.1 877.7,689.2 878.3,708.7 879.0,725.8 879.6,742.8 880.3,762.2 880.9,772.2 881.5,786.6 882.2,793.6 882.8,801.8 883.5,808.0 884.1,820.3 884.7,820.9 885.4,828.8 886.0,832.2 886.7,841.7 887.3,845.0 888.0,849.5 888.6,854.4 889.2,859.4 889.9,863.9 890.5,874.3 891.2,877.8 891.8,882.9 892.5,892.9 893.1,896.3 893.7,905.0 894.4,907.9 895.0,910.0 895.7,916.5 896.3,922.9 896.9,926.5 897.6,927.5 898.2,930.3 898.9,937.1 899.5,942.2 900.2,946.5 900.8,946.8 901.4,950.1 902.1,953.2 902.7,956.7 903.4,959.5 904.0,960.4 904.6,962.9 905.3,961.6 905.9,966.9 906.6,970.9 907.2,970.8 907.9,976.2 908.5,975.8 909.1,978.7 909.8,979.4 910.4,979.6 911.1,978.3 911.7,981.6 912.4,986.0 913.0,984.5 913.6,987.7 914.3,985.8 914.9,993.4 915.6,995.2 916.2,996.0 916.8,997.0 917.5,1001.4 918.1,1003.7 918.8,1003.3 919.4,1003.9 920.1,1008.5 920.7,1009.2 921.3,1007.1 922.0,1010.1 922.6,1007.5 923.3,1012.9 923.9,1015.7 924.6,1014.3 925.2,1014.0 925.8,1015.9 926.5,1016.8 927.1,1015.9 927.8,1015.1 928.4,1017.1 929.0,1019.7 929.7,1022.5 930.3,1022.5 931.0,1024.6 931.6,1026.9 932.3,1024.8 932.9,1028.4 933.5,1025.2 934.2,1026.1 934.8,1026.5 935.5,1025.1 936.1,1026.2 936.7,1028.4 937.4,1031.5 938.0,1031.0 938.7,1033.8 939.3,1031.8 940.0,1034.0 940.6,1034.6 941.2,1037.1 941.9,1037.2 942.5,1038.7 943.2,1041.8 943.8,1044.5 944.5,1040.4 945.1,1043.8 945.7,1043.9 946.4,1044.5 947.0,1043.7 947.7,1045.7 948.3,1046.1 948.9,1047.4 949.6,1046.9 950.2,1049.4 950.9,1048.0 951.5,1047.5 952.2,1051.0 952.8,1050.4 953.4,1049.6 954.1,1051.6 954.7,1054.4 955.4,1056.7 956.0,1056.0 956.7,1056.5 957.3,1057.8 957.9,1056.6 958.6,1057.6 959.2,1055.8 959.9,1058.2 960.5,1056.9 961.1,1059.7 961.8,1058.0 962.4,1059.9 963.1,1060.7 963.7,1061.4 964.4,1064.8 965.0,1062.1 965.6,1063.1 966.3,1064.1 966.9,1066.1 967.6,1063.7 968.2,1067.9 968.8,1065.4 969.5,1066.3 970.1,1066.6 970.8,1066.4 971.4,1064.0 972.1,1067.6 972.7,1068.2 973.3,1066.0 974.0,1066.6 974.6,1067.3 975.3,1070.4 975.9,1068.2 976.6,1067.7 977.2,1068.4 977.8,1069.2 978.5,1069.2 979.1,1068.7 979.8,1068.8 980.4,1070.1 981.0,1070.4 981.7,1071.8 982.3,1070.2 983.0,1072.6 983.6,1070.8 984.3,1072.0 984.9,1075.3 985.5,1075.9 986.2,1074.6 986.8,1072.7 987.5,1076.6 988.1,1075.7 988.8,1074.4 989.4,1076.9 990.0,1076.7 990.7,1073.7 991.3,1075.0 992.0,1077.4 992.6,1078.7 993.2,1079.3 993.9,1078.3 994.5,1081.0 995.2,1078.9 995.8,1078.7 996.5,1079.4 997.1,1078.4 997.7,1079.5 998.4,1079.5 999.0,1081.3 999.7,1081.4 1000.3,1081.9 1000.9,1079.8 1001.6,1078.1 1002.2,1078.9 1002.9,1080.1 1003.5,1080.0 1004.2,1080.9 1004.8,1080.8 1005.4,1079.6 1006.1,1079.2 1006.7,1082.2 1007.4,1079.6 1008.0,1078.2 1008.7,1081.1 1009.3,1083.9 1009.9,1083.5 1010.6,1081.9 1011.2,1083.9 1011.9,1085.5 1012.5,1084.3 1013.1,1085.4 1013.8,1083.5 1014.4,1084.2 1015.1,1083.8 1015.7,1086.8 1016.4,1086.8 1017.0,1088.1 1017.6,1083.6 1018.3,1085.1 1018.9,1086.0 1019.6,1087.3 1020.2,1087.3 1020.9,1084.9 1021.5,1089.8 1022.1,1086.8 1022.8,1087.5 1023.4,1088.9 1024.1,1088.0 1024.7,1088.8 1025.3,1088.3 1026.0,1088.4 1026.6,1088.0 1027.3,1089.3 1027.9,1089.9 1028.6,1089.1 1029.2,1088.5 1029.8,1090.5 1030.5,1090.1 1031.1,1091.1 1031.8,1087.4 1032.4,1089.6 1033.0,1088.3 1033.7,1087.0 1034.3,1088.4 1035.0,1089.5 1035.6,1089.8 1036.3,1089.7 1036.9,1091.6 1037.5,1092.5 1038.2,1093.1 1038.8,1091.4 1039.5,1089.4 1040.1,1092.1 1040.8,1089.0 1041.4,1091.3 1042.0,1087.4 1042.7,1086.2 1043.3,1089.9 1044.0,1089.6 1044.6,1093.8 1045.2,1092.9 1045.9,1092.4 1046.5,1092.1 1047.2,1093.8 1047.8,1094.2 1048.5,1092.5 1049.1,1091.8 1049.7,1093.0 1050.4,1092.7 1051.0,1092.9 1051.7,1093.6 1052.3,1098.0 1053.0,1095.0 1053.6,1094.4 1054.2,1094.5 1054.9,1094.8 1055.5,1093.1 1056.2,1094.6 1056.8,1095.7 1057.4,1095.2 1058.1,1092.4 1058.7,1092.9 1059.4,1092.2 1060.0,1093.0 1060.7,1091.5 1061.3,1092.3 1061.9,1095.1 1062.6,1092.0 1063.2,1094.2 1063.9,1093.2 1064.5,1093.8 1065.1,1094.0 1065.8,1093.9 1066.4,1095.1 1067.1,1090.9 1067.7,1092.2 1068.4,1094.0 1069.0,1090.4 1069.6,1090.7 1070.3,1094.3 1070.9,1091.5 1071.6,1091.5 1072.2,1094.8 1072.9,1095.3 1073.5,1096.5 1074.1,1096.0 1074.8,1095.8 1075.4,1095.1 1076.1,1096.7 1076.7,1093.5 1077.3,1095.8 1078.0,1094.5 1078.6,1097.4 1079.3,1097.3 1079.9,1098.6 1080.6,1096.2 1081.2,1095.5 1081.8,1096.6 1082.5,1096.0 1083.1,1094.3 1083.8,1095.6 1084.4,1095.8 1085.1,1098.8 1085.7,1096.4 1086.3,1097.0 1087.0,1097.4 1087.6,1098.9 1088.3,1097.5 1088.9,1097.7 1089.5,1098.5 1090.2,1096.7 1090.8,1097.9 1091.5,1095.4 1092.1,1095.2 1092.8,1097.3 1093.4,1094.9 1094.0,1096.2 1094.7,1098.3 1095.3,1098.0 1096.0,1099.8 1096.6,1096.4 1097.2,1097.8 1097.9,1093.9 1098.5,1095.2 1099.2,1095.1 1099.8,1097.8 1100.5,1097.5 1101.1,1093.4 1101.7,1094.9 1102.4,1094.3 1103.0,1097.4 1103.7,1097.5 1104.3,1096.9 1105.0,1099.1 1105.6,1100.6 1106.2,1098.7 1106.9,1101.8 1107.5,1101.8 1108.2,1102.7 1108.8,1099.0 1109.4,1101.6 1110.1,1098.9 1110.7,1101.8 1111.4,1099.5 1112.0,1102.6 1112.7,1101.4 1113.3,1098.0 1113.9,1101.1 1114.6,1098.0 1115.2,1099.9 1115.9,1099.7 1116.5,1098.5 1117.2,1099.3 1117.8,1099.1 1118.4,1101.7 1119.1,1100.9 1119.7,1099.4 1120.4,1101.8 1121.0,1100.7 1121.6,1100.4 1122.3,1099.4 1122.9,1101.2 1123.6,1100.2 1124.2,1099.6 1124.9,1101.2 1125.5,1101.4 1126.1,1101.6 1126.8,1099.6 1127.4,1102.6 1128.1,1098.2 1128.7,1097.4 1129.3,1100.4 1130.0,1099.7 1130.6,1099.5 1131.3,1103.5 1131.9,1102.4 1132.6,1101.5 1133.2,1100.2 1133.8,1100.8 1134.5,1102.3 1135.1,1099.4 1135.8,1103.3 1136.4,1102.4 1137.1,1102.2 1137.7,1104.8 1138.3,1103.1 1139.0,1103.8 1139.6,1102.9 1140.3,1098.6 1140.9,1102.0 1141.5,1102.2 1142.2,1100.2 1142.8,1102.4 1143.5,1099.7 1144.1,1101.3 1144.8,1101.0 1145.4,1102.2 1146.0,1099.7 1146.7,1102.7 1147.3,1102.1 1148.0,1104.8 1148.6,1102.2 1149.3,1103.5 1149.9,1101.7 1150.5,1100.3 1151.2,1100.7 1151.8,1102.4 1152.5,1104.5 1153.1,1105.6 1153.7,1103.4 1154.4,1103.4 1155.0,1104.3 1155.7,1102.5 1156.3,1106.3 1157.0,1103.7 1157.6,1103.4 1158.2,1105.4 1158.9,1103.6 1159.5,1101.8 1160.2,1103.8 1160.8,1102.7 1161.4,1101.1 1162.1,1101.9 1162.7,1100.8 1163.4,1102.6 1164.0,1101.4 1164.7,1101.4 1165.3,1103.5 1165.9,1102.2 1166.6,1102.3 1167.2,1104.1 1167.9,1102.8 1168.5,1102.2 1169.2,1101.7 1169.8,1102.9 1170.4,1102.7 1171.1,1100.2 1171.7,1100.3 1172.4,1098.7 1173.0,1101.2 1173.6,1102.6 1174.3,1103.6 1174.9,1100.3 1175.6,1103.8 1176.2,1100.1 1176.9,1103.8 1177.5,1103.2 1178.1,1104.4 1178.8,1102.4 1179.4,1103.9 1180.1,1102.3 1180.7,1101.1 1181.4,1101.3 1182.0,1103.9 1182.6,1099.9 1183.3,1099.8 1183.9,1101.4 1184.6,1103.1 1185.2,1100.3 1185.8,1100.6 1186.5,1100.5 1187.1,1103.9 1187.8,1104.4 1188.4,1103.6 1189.1,1103.1 1189.7,1100.4 1190.3,1104.1 1191.0,1102.5 1191.6,1099.2 1192.3,1099.7 1192.9,1100.3 1193.5,1100.4 1194.2,1104.1 1194.8,1103.3 1195.5,1101.3 1196.1,1106.0 1196.8,1103.8 1197.4,1103.6 1198.0,1103.5 1198.7,1104.8 1199.3,1104.6 1200.0,1107.8 1200.6,1102.6 1201.3,1103.2 1201.9,1104.4 1202.5,1103.0 1203.2,1101.3 1203.8,1105.8 1204.5,1103.3 1205.1,1102.5 1205.7,1102.5 1206.4,1103.9 1207.0,1104.5 1207.7,1103.6 1208.3,1102.5 1209.0,1101.6 1209.6,1104.1 1210.2,1104.3 1210.9,1102.7 1211.5,1103.1 1212.2,1104.8 1212.8,1103.0 1213.5,1102.0 1214.1,1101.9 1214.7,1099.3 1215.4,1100.3 1216.0,1102.9 1216.7,1102.3 1217.3,1098.8 1217.9,1103.7 1218.6,1103.7 1219.2,1101.3 1219.9,1105.3 1220.5,1102.5 1221.2,1106.1 1221.8,1102.5 1222.4,1104.3 1223.1,1104.1 1223.7,1104.9 1224.4,1102.2 1225.0,1104.1 1225.6,1102.8 1226.3,1103.1 1226.9,1103.7 1227.6,1103.1 1228.2,1105.5 1228.9,1104.5 1229.5,1105.2 1230.1,1102.6 1230.8,1103.4 1231.4,1100.8 1232.1,1102.1 1232.7,1100.7 1233.4,1100.5 1234.0,1103.6 1234.6,1102.9 1235.3,1104.4 1235.9,1102.1 1236.6,1104.0 1237.2,1104.9 1237.8,1103.1 1238.5,1102.9 1239.1,1102.2 1239.8,1099.2 1240.4,1102.9 1241.1,1099.9 1241.7,1102.8 1242.3,1099.7 1243.0,1103.9 1243.6,1100.5 1244.3,1105.3 1244.9,1100.5 1245.6,1104.5 1246.2,1102.8 1246.8,1100.8 1247.5,1104.1 1248.1,1103.5 1248.8,1103.3 1249.4,1104.0 1250.0,1105.4 1250.7,1102.9 1251.3,1104.4 1252.0,1101.8 1252.6,1102.4 1253.3,1105.0 1253.9,1106.4 1254.5,1104.2 1255.2,1103.6 1255.8,1104.3 1256.5,1103.6 1257.1,1101.3 1257.7,1104.3 1258.4,1100.0 1259.0,1099.4 1259.7,1101.2 1260.3,1100.6 1261.0,1101.2 1261.6,1099.9 1262.2,1101.0 1262.9,1101.3 1263.5,1098.9 1264.2,1098.9 1264.8,1102.0 1265.5,1101.3 1266.1,1100.2 1266.7,1104.9 1267.4,1103.3 1268.0,1103.7 1268.7,1102.8 1269.3,1099.4 1269.9,1104.3 1270.6,1099.4 1271.2,1100.3 1271.9,1101.9 1272.5,1101.2 1273.2,1102.2 1273.8,1102.2 1274.4,1101.1 1275.1,1103.0 1275.7,1098.4 1276.4,1101.4 1277.0,1102.7 1277.7,1103.6 1278.3,1101.7 1278.9,1098.3 1279.6,1101.3 1280.2,1100.0 1280.9,1100.1 1281.5,1100.5 1282.1,1101.6 1282.8,1098.1 1283.4,1099.6 1284.1,1100.3 1284.7,1100.3 1285.4,1100.1 1286.0,1097.0 1286.6,1099.3 1287.3,1100.1 1287.9,1098.2 1288.6,1098.2 1289.2,1097.9 1289.8,1097.9 1290.5,1095.6 1291.1,1093.8 1291.8,1096.5 1292.4,1096.0 1293.1,1094.9 1293.7,1095.4 1294.3,1095.9 1295.0,1095.6 1295.6,1098.7 1296.3,1096.7 1296.9,1097.7 1297.6,1094.7 1298.2,1096.9 1298.8,1095.1 1299.5,1098.0 1300.1,1097.0 1300.8,1097.6 1301.4,1098.5 1302.0,1094.2 1302.7,1095.9 1303.3,1095.3 1304.0,1093.2 1304.6,1093.8 1305.3,1095.1 1305.9,1095.5 1306.5,1095.9 1307.2,1096.3 1307.8,1095.1 1308.5,1096.1 1309.1,1095.5 1309.8,1095.8 1310.4,1095.8 1311.0,1094.1 1311.7,1095.1 1312.3,1093.8 1313.0,1092.8 1313.6,1093.6 1314.2,1096.1 1314.9,1094.8 1315.5,1094.7 1316.2,1096.9 1316.8,1096.1 1317.5,1096.0 1318.1,1091.7 1318.7,1092.2 1319.4,1093.0 1320.0,1093.1 1320.7,1093.9 1321.3,1090.9 1321.9,1092.7 1322.6,1092.5 1323.2,1091.5 1323.9,1093.4 1324.5,1092.1 1325.2,1091.7 1325.8,1089.7 1326.4,1090.3 1327.1,1090.4 1327.7,1091.4 1328.4,1088.6 1329.0,1087.5 1329.7,1089.4 1330.3,1092.9 1330.9,1090.0 1331.6,1088.0 1332.2,1088.5 1332.9,1089.7 1333.5,1090.1 1334.1,1089.2 1334.8,1091.8 1335.4,1090.3 1336.1,1088.4 1336.7,1091.2 1337.4,1088.2 1338.0,1091.5 1338.6,1089.2 1339.3,1085.5 1339.9,1085.8 1340.6,1087.5 1341.2,1087.2 1341.9,1088.7 1342.5,1086.6 1343.1,1088.9 1343.8,1087.7 1344.4,1084.6 1345.1,1084.8 1345.7,1087.9 1346.3,1087.7 1347.0,1087.4 1347.6,1084.7 1348.3,1086.3 1348.9,1083.5 1349.6,1085.2 1350.2,1083.5 1350.8,1082.7 1351.5,1078.7 1352.1,1086.0 1352.8,1082.7 1353.4,1082.2 1354.0,1082.5 1354.7,1083.5 1355.3,1083.0 1356.0,1086.5 1356.6,1084.3 1357.3,1084.2 1357.9,1082.5 1358.5,1085.0 1359.2,1083.2 1359.8,1083.9 1360.5,1080.9 1361.1,1078.9 1361.8,1081.6 1362.4,1081.9 1363.0,1082.4 1363.7,1082.9 1364.3,1080.8 1365.0,1082.5 1365.6,1080.1 1366.2,1083.7 1366.9,1085.6 1367.5,1080.0 1368.2,1078.8 1368.8,1078.2 1369.5,1078.9 1370.1,1079.9 1370.7,1077.1 1371.4,1075.8 1372.0,1078.7 1372.7,1078.0 1373.3,1078.8 1374.0,1077.8 1374.6,1075.6 1375.2,1078.8 1375.9,1076.0 1376.5,1074.7 1377.2,1077.0 1377.8,1077.0 1378.4,1075.9 1379.1,1073.8 1379.7,1075.3 1380.4,1075.9 1381.0,1076.0 1381.7,1076.5 1382.3,1073.9 1382.9,1077.8 1383.6,1074.1 1384.2,1074.9 1384.9,1074.2 1385.5,1070.3 1386.1,1073.1 1386.8,1075.1 1387.4,1075.6 1388.1,1074.8 1388.7,1076.4 1389.4,1075.9 1390.0,1076.1 1390.6,1078.3 1391.3,1081.7 1391.9,1075.4 1392.6,1075.2 1393.2,1076.0 1393.9,1073.6 1394.5,1075.8 1395.1,1073.2 1395.8,1075.3 1396.4,1071.5 1397.1,1073.3 1397.7,1071.2 1398.3,1073.6 1399.0,1070.8 1399.6,1070.0 1400.3,1070.3 1400.9,1068.9 1401.6,1069.6 1402.2,1067.7 1402.8,1069.2 1403.5,1067.6 1404.1,1066.9 1404.8,1066.0 1405.4,1067.4 1406.1,1069.2 1406.7,1064.7 1407.3,1065.4 1408.0,1065.8 1408.6,1066.8 1409.3,1065.5 1409.9,1062.8 1410.5,1066.7 1411.2,1068.0 1411.8,1067.3 1412.5,1065.8 1413.1,1062.0 1413.8,1064.7 1414.4,1061.4 1415.0,1062.1 1415.7,1064.8 1416.3,1064.6 1417.0,1062.3 1417.6,1064.1 1418.2,1066.1 1418.9,1065.6 1419.5,1063.3 1420.2,1059.7 1420.8,1058.6 1421.5,1058.3 1422.1,1059.0 1422.7,1060.8 1423.4,1061.4 1424.0,1057.1 1424.7,1059.2 1425.3,1058.9 1426.0,1058.5 1426.6,1059.3 1427.2,1058.0 1427.9,1055.5 1428.5,1058.9 1429.2,1054.4 1429.8,1053.1 1430.4,1054.4 1431.1,1058.0 1431.7,1055.9 1432.4,1053.6 1433.0,1055.0 1433.7,1055.0 1434.3,1058.6 1434.9,1057.3 1435.6,1052.8 1436.2,1056.2 1436.9,1055.8 1437.5,1051.9 1438.2,1052.4 1438.8,1050.7 1439.4,1051.4 1440.1,1048.4 1440.7,1051.9 1441.4,1051.5 1442.0,1054.0 1442.6,1053.1 1443.3,1051.4 1443.9,1050.0 1444.6,1050.4 1445.2,1052.2 1445.9,1049.9 1446.5,1047.8 1447.1,1047.5 1447.8,1045.5 1448.4,1045.1 1449.1,1045.1 1449.7,1045.1 1450.3,1045.8 1451.0,1047.4 1451.6,1049.1 1452.3,1044.9 1452.9,1047.9 1453.6,1046.4 1454.2,1042.9 1454.8,1045.1 1455.5,1047.5 1456.1,1041.6 1456.8,1042.0 1457.4,1039.6 1458.1,1042.6 1458.7,1043.8 1459.3,1043.1 1460.0,1043.0 1460.6,1045.9 1461.3,1046.6 1461.9,1043.7 1462.5,1044.3 1463.2,1045.0 1463.8,1045.5 1464.5,1043.0 1465.1,1045.1 1465.8,1042.2 1466.4,1041.5 1467.0,1041.8 1467.7,1039.1 1468.3,1038.8 1469.0,1038.8 1469.6,1038.0 1470.3,1041.1 1470.9,1039.3 1471.5,1037.4 1472.2,1034.1 1472.8,1035.5 1473.5,1035.3 1474.1,1032.5 1474.7,1030.0 1475.4,1031.9 1476.0,1030.7 1476.7,1032.1 1477.3,1032.9 1478.0,1034.8 1478.6,1032.2 1479.2,1031.4 1479.9,1031.3 1480.5,1030.7 1481.2,1028.5 1481.8,1030.2 1482.4,1028.7 1483.1,1027.2 1483.7,1027.5 1484.4,1027.1 1485.0,1026.5 1485.7,1025.1 1486.3,1024.9 1486.9,1024.2 1487.6,1021.5 1488.2,1019.8 1488.9,1025.2 1489.5,1021.6 1490.2,1023.0 1490.8,1018.8 1491.4,1020.5 1492.1,1022.5 1492.7,1022.3 1493.4,1019.1 1494.0,1021.2 1494.6,1018.7 1495.3,1015.6 1495.9,1013.8 1496.6,1011.6 1497.2,1013.7 1497.9,1015.5 1498.5,1011.5 1499.1,1014.4 1499.8,1012.5 1500.4,1012.3 1501.1,1010.9 1501.7,1010.6 1502.4,1012.0 1503.0,1009.2 1503.6,1012.1 1504.3,1012.3 1504.9,1011.3 1505.6,1005.9 1506.2,1006.9 1506.8,1004.6 1507.5,1008.9 1508.1,1005.4 1508.8,1006.3 1509.4,1004.9 1510.1,1003.8 1510.7,1006.2 1511.3,1004.4 1512.0,1005.6 1512.6,997.9 1513.3,999.2 1513.9,999.2 1514.5,998.4 1515.2,995.4 1515.8,995.7 1516.5,997.2 1517.1,996.4 1517.8,992.6 1518.4,993.6 1519.0,995.1 1519.7,995.5 1520.3,992.0 1521.0,994.4 1521.6,991.9 1522.3,992.3 1522.9,988.9 1523.5,989.4 1524.2,992.0 1524.8,990.8 1525.5,990.1 1526.1,991.2 1526.7,986.2 1527.4,990.8 1528.0,990.0 1528.7,988.2 1529.3,989.6 1530.0,987.6 1530.6,990.4 1531.2,989.6 1531.9,988.3 1532.5,989.5 1533.2,990.2 1533.8,986.3 1534.5,984.6 1535.1,984.7 1535.7,986.2 1536.4,987.6 1537.0,985.8 1537.7,985.1 1538.3,987.2 1538.9,981.3 1539.6,981.9 1540.2,984.9 1540.9,982.1 1541.5,982.0 1542.2,982.2 1542.8,980.2 1543.4,985.8 1544.1,982.9 1544.7,982.8 1545.4,982.3 1546.0,979.3 1546.6,977.4 1547.3,979.6 1547.9,983.7 1548.6,977.6 1549.2,978.9 1549.9,978.4 1550.5,980.4 1551.1,977.6 1551.8,976.9 1552.4,975.8 1553.1,981.3 1553.7,978.3 1554.4,972.9 1555.0,976.7 1555.6,975.0 1556.3,976.1 1556.9,974.0 1557.6,975.0 1558.2,979.0 1558.8,975.5 1559.5,975.8 1560.1,975.6 1560.8,975.6 1561.4,976.1 1562.1,978.5 1562.7,979.9 1563.3,980.2 1564.0,978.7 1564.6,978.8 1565.3,977.3 1565.9,976.0 1566.6,974.3 1567.2,975.9 1567.8,972.2 1568.5,976.6 1569.1,975.4 1569.8,975.2 1570.4,975.9 1571.0,975.7 1571.7,976.3 1572.3,976.6 1573.0,974.3 1573.6,974.4 1574.3,977.5 1574.9,975.3 1575.5,973.7 1576.2,974.9 1576.8,975.6 1577.5,974.7 1578.1,976.6 1578.7,973.8 1579.4,978.7 1580.0,975.5 1580.7,977.1 1581.3,976.6 1582.0,971.2 1582.6,973.2 1583.2,975.6 1583.9,974.9 1584.5,972.9 1585.2,974.9 1585.8,976.8 1586.5,977.0 1587.1,977.9 1587.7,976.5 1588.4,977.0 1589.0,979.8 1589.7,979.8 1590.3,976.9 1590.9,976.3 1591.6,977.5 1592.2,977.6 1592.9,978.2 1593.5,975.8 1594.2,976.9 1594.8,977.8 1595.4,975.6 1596.1,976.6 1596.7,971.8 1597.4,972.8 1598.0,973.7 1598.7,973.8 1599.3,973.9 1599.9,975.6 1600.6,973.5 1601.2,978.3 1601.9,977.2 1602.5,977.4 1603.1,972.6 1603.8,973.9 1604.4,970.6 1605.1,970.1 1605.7,971.1 1606.4,970.0 1607.0,973.5 1607.6,970.3 1608.3,973.2 1608.9,971.3 1609.6,975.6 1610.2,978.3 1610.8,975.7 1611.5,975.0 1612.1,977.5 1612.8,976.5 1613.4,973.6 1614.1,971.8 1614.7,971.0 1615.3,973.2 1616.0,973.4 1616.6,972.1 1617.3,973.9 1617.9,974.2 1618.6,973.1 1619.2,976.0 1619.8,971.6 1620.5,972.4 1621.1,972.0 1621.8,973.3 1622.4,968.8 1623.0,976.3 1623.7,975.8 1624.3,975.5 1625.0,970.5 1625.6,975.3 1626.3,974.1 1626.9,975.8 1627.5,972.6 1628.2,974.3 1628.8,971.2 1629.5,974.9 1630.1,974.3 1630.8,971.7 1631.4,968.6 1632.0,971.4 1632.7,969.3 1633.3,972.2 1634.0,969.8 1634.6,972.6 1635.2,971.7 1635.9,970.5 1636.5,971.7 1637.2,967.1 1637.8,971.4 1638.5,968.3 1639.1,966.0 1639.7,970.2 1640.4,970.6 1641.0,970.2 1641.7,970.9 1642.3,965.9 1642.9,968.4 1643.6,963.8 1644.2,967.2 1644.9,966.0 1645.5,966.3 1646.2,964.3 1646.8,969.2 1647.4,965.6 1648.1,969.5 1648.7,971.6 1649.4,971.0 1650.0,968.0 1650.7,966.4 1651.3,968.9 1651.9,964.8 1652.6,964.4 1653.2,965.3 1653.9,961.6 1654.5,959.7 1655.1,958.6 1655.8,960.0 1656.4,959.7 1657.1,960.1 1657.7,962.5 1658.4,960.1 1659.0,958.0 1659.6,961.4 1660.3,957.5 1660.9,961.4 1661.6,960.7 1662.2,960.9 1662.9,959.1 1663.5,958.6 1664.1,958.2 1664.8,957.2 1665.4,958.9 1666.1,957.8 1666.7,960.3 1667.3,957.4 1668.0,962.7 1668.6,959.4 1669.3,964.0 1669.9,956.9 1670.6,957.2 1671.2,959.4 1671.8,957.2 1672.5,952.3 1673.1,954.7 1673.8,952.9 1674.4,951.7 1675.0,957.2 1675.7,954.6 1676.3,957.9 1677.0,953.9 1677.6,955.0 1678.3,957.3 1678.9,953.8 1679.5,955.7 1680.2,952.2 1680.8,957.6 1681.5,958.5 1682.1,956.7 1682.8,954.4 1683.4,952.4 1684.0,956.5 1684.7,952.4 1685.3,953.7 1686.0,958.0 1686.6,956.8 1687.2,955.5 1687.9,956.3 1688.5,951.3 1689.2,952.1 1689.8,947.2 1690.5,946.9 1691.1,948.4 1691.7,949.4 1692.4,951.2 1693.0,948.1 1693.7,951.8 1694.3,954.0 1695.0,950.6 1695.6,953.8 1696.2,953.0 1696.9,948.2 1697.5,947.2 1698.2,950.6 1698.8,948.0 1699.4,945.8 1700.1,946.3 1700.7,948.0 1701.4,947.8 1702.0,946.5 1702.7,952.6 1703.3,949.5 1703.9,949.7 1704.6,951.7 1705.2,953.2 1705.9,951.2 1706.5,951.4 1707.1,953.2 1707.8,950.4 1708.4,949.8 1709.1,951.2 1709.7,950.6 1710.4,950.9 1711.0,950.0 1711.6,952.1 1712.3,952.9 1712.9,954.4 1713.6,952.5 1714.2,951.2 1714.9,952.2 1715.5,959.5 1716.1,954.7 1716.8,954.2 1717.4,953.6 1718.1,950.8 1718.7,950.5 1719.3,952.6 1720.0,953.2 1720.6,951.2 1721.3,954.1 1721.9,954.9 1722.6,959.0 1723.2,959.9 1723.8,960.8 1724.5,960.9 1725.1,961.8 1725.8,960.3 1726.4,961.8 1727.1,961.6 1727.7,958.0 1728.3,961.6 1729.0,960.0 1729.6,961.8 1730.3,961.2 1730.9,959.3 1731.5,960.6 1732.2,963.3 1732.8,965.0 1733.5,964.4 1734.1,964.0 1734.8,967.6 1735.4,962.3 1736.0,969.4 1736.7,970.8 1737.3,970.0 1738.0,972.3 1738.6,969.9 1739.2,973.2 1739.9,975.2 1740.5,975.4 1741.2,977.6 1741.8,975.6 1742.5,980.4 1743.1,974.9 1743.7,980.1 1744.4,981.6 1745.0,981.7 1745.7,982.2 1746.3,981.7 1747.0,981.8 1747.6,982.8 1748.2,982.4 1748.9,984.4 1749.5,985.3 1750.2,985.7 1750.8,991.5 1751.4,987.5 1752.1,990.9 1752.7,992.1 1753.4,990.5 1754.0,991.5 1754.7,986.7 1755.3,989.3 1755.9,992.3 1756.6,995.0 1757.2,992.7 1757.9,992.6 1758.5,996.9 1759.2,998.2 1759.8,995.8 1760.4,1000.8 1761.1,1002.9 1761.7,1001.5 1762.4,1003.4 1763.0,1006.1 1763.6,1004.4 1764.3,1006.9 1764.9,1006.2 1765.6,1008.9 1766.2,1010.0 1766.9,1009.1 1767.5,1006.7 1768.1,1007.1 1768.8,1005.8 1769.4,1007.0 1770.1,1007.4 1770.7,1010.4 1771.3,1010.0 1772.0,1011.7 1772.6,1010.2 1773.3,1010.1 1773.9,1011.6 1774.6,1015.6 1775.2,1013.0 1775.8,1014.4 1776.5,1015.5 1777.1,1015.6 1777.8,1019.2 1778.4,1018.0 1779.1,1015.9 1779.7,1016.0 1780.3,1018.0 1781.0,1019.9 1781.6,1021.5 1782.3,1020.7 1782.9,1020.7 1783.5,1023.8 1784.2,1021.9 1784.8,1024.2 1785.5,1021.6 1786.1,1020.4 1786.8,1021.8 1787.4,1019.6 1788.0,1019.0 1788.7,1019.8 1789.3,1020.8 1790.0,1021.6 1790.6,1020.2 1791.3,1021.8 1791.9,1021.4 1792.5,1023.7 1793.2,1024.3 1793.8,1025.1 1794.5,1024.2 1795.1,1027.1 1795.7,1024.7 1796.4,1027.6 1797.0,1024.9 1797.7,1029.6 1798.3,1028.2 1799.0,1026.9 1799.6,1028.6 1800.2,1028.3 1800.9,1027.6 1801.5,1027.8 1802.2,1031.6 1802.8,1030.8 1803.4,1032.5 1804.1,1032.6 1804.7,1030.1 1805.4,1029.1 1806.0,1026.2 1806.7,1030.4 1807.3,1028.4 1807.9,1027.7 1808.6,1030.7 1809.2,1033.5 1809.9,1032.7 1810.5,1030.8 1811.2,1034.6 1811.8,1033.2 1812.4,1032.4 1813.1,1034.7 1813.7,1032.1 1814.4,1033.2 1815.0,1034.6 1815.6,1035.1 1816.3,1037.1 1816.9,1034.2 1817.6,1036.0 1818.2,1036.1 1818.9,1034.5 1819.5,1034.9 1820.1,1034.4 1820.8,1040.3 1821.4,1039.7 1822.1,1036.5 1822.7,1038.3 1823.4,1040.3 1824.0,1043.3 1824.6,1039.2 1825.3,1043.4 1825.9,1040.9 1826.6,1043.0 1827.2,1042.2 1827.8,1037.3 1828.5,1041.6 1829.1,1041.7 1829.8,1040.5 1830.4,1040.3 1831.1,1041.1 1831.7,1036.2 1832.3,1037.7 1833.0,1040.3 1833.6,1038.3 1834.3,1039.7 1834.9,1038.6 1835.5,1042.5 1836.2,1041.0 1836.8,1043.2 1837.5,1042.4 1838.1,1042.7 1838.8,1041.1 1839.4,1044.0 1840.0,1040.3 1840.7,1043.5 1841.3,1040.2 1842.0,1043.9 1842.6,1042.2 1843.3,1042.4 1843.9,1042.8 1844.5,1042.5 1845.2,1043.1 1845.8,1044.7 1846.5,1042.0 1847.1,1046.0 1847.7,1044.5 1848.4,1047.2 1849.0,1046.0 1849.7,1048.0 1850.3,1045.3 1851.0,1045.6 1851.6,1047.6 1852.2,1046.6 1852.9,1045.9 1853.5,1047.9 1854.2,1044.6 1854.8,1045.5 1855.5,1047.8 1856.1,1048.7 1856.7,1049.6 1857.4,1050.0 1858.0,1049.3 1858.7,1051.7 1859.3,1051.7 1859.9,1051.6 1860.6,1050.5 1861.2,1048.5 1861.9,1053.0 1862.5,1048.7 1863.2,1051.8 1863.8,1051.2 1864.4,1052.8 1865.1,1049.9 1865.7,1052.9 1866.4,1052.8 1867.0,1053.5 1867.6,1050.7 1868.3,1055.0 1868.9,1054.3 1869.6,1054.1 1870.2,1053.2 1870.9,1054.4 1871.5,1053.5 1872.1,1055.4 1872.8,1056.5 1873.4,1057.0 1874.1,1054.2 1874.7,1057.6 1875.4,1058.4 1876.0,1057.6 1876.6,1057.7 1877.3,1054.8 1877.9,1055.7 1878.6,1056.9 1879.2,1057.1 1879.8,1058.6 1880.5,1057.5 1881.1,1058.6 1881.8,1063.2 1882.4,1062.9 1883.1,1060.5 1883.7,1060.6 1884.3,1063.6 1885.0,1064.4 1885.6,1064.7 1886.3,1065.2 1886.9,1064.9 1887.6,1067.6 1888.2,1063.9 1888.8,1067.3 1889.5,1067.6 1890.1,1066.5 1890.8,1065.6 1891.4,1067.3 1892.0,1067.1 1892.7,1070.9 1893.3,1069.1 1894.0,1071.9 1894.6,1071.4 1895.3,1070.3 1895.9,1073.8 1896.5,1076.4 1897.2,1076.1 1897.8,1073.3 1898.5,1075.8 1899.1,1075.9 1899.7,1078.1 1900.4,1076.9 1901.0,1079.6 1901.7,1078.8 1902.3,1081.4 1903.0,1081.9 1903.6,1082.2 1904.2,1083.6 1904.9,1083.6 1905.5,1086.9 1906.2,1082.1 1906.8,1087.2 1907.5,1085.7 1908.1,1086.2 1908.7,1087.7 1909.4,1088.6 1910.0,1087.3 1910.7,1087.2 1911.3,1092.7 1911.9,1092.0 1912.6,1091.0 1913.2,1094.8 1913.9,1092.3 1914.5,1091.0 1915.2,1093.2 1915.8,1092.7 1916.4,1092.5 1917.1,1093.4 1917.7,1094.1 1918.4,1091.8 1919.0,1096.4 1919.7,1092.9 1920.3,1093.4 1920.9,1093.6 1921.6,1093.0 1922.2,1098.6 1922.9,1095.4 1923.5,1098.0 1924.1,1095.9 1924.8,1101.9 1925.4,1099.5 1926.1,1100.3 1926.7,1097.2 1927.4,1097.8 1928.0,1096.5 1928.6,1098.8 1929.3,1099.1 1929.9,1096.5 1930.6,1097.2 1931.2,1102.0 1931.8,1102.4 1932.5,1101.0 1933.1,1102.0 1933.8,1101.7 1934.4,1104.6 1935.1,1102.1 1935.7,1100.5 1936.3,1102.1 1937.0,1106.4 1937.6,1102.4 1938.3,1104.0 1938.9,1105.3 1939.6,1104.2 1940.2,1106.4 1940.8,1105.7 1941.5,1106.8 1942.1,1106.7 1942.8,1109.6 1943.4,1106.5 1944.0,1104.8 1944.7,1111.5 1945.3,1111.5 1946.0,1108.9 1946.6,1108.3 1947.3,1107.0 1947.9,1111.1 1948.5,1108.7 1949.2,1109.7 1949.8,1109.6 1950.5,1109.1 1951.1,1112.4 1951.8,1108.9 1952.4,1111.0 1953.0,1109.8 1953.7,1111.2 1954.3,1107.1 1955.0,1108.7 1955.6,1109.7 1956.2,1107.9 1956.9,1110.9 1957.5,1112.7 1958.2,1112.9 1958.8,1111.5 1959.5,1115.3 1960.1,1113.2 1960.7,1115.8 1961.4,1112.7 1962.0,1113.6 1962.7,1112.2 1963.3,1117.1 1963.9,1115.5 1964.6,1113.3 1965.2,1113.7 1965.9,1116.1 1966.5,1115.3 1967.2,1115.1 1967.8,1116.1 1968.4,1117.0 1969.1,1116.0 1969.7,1114.4 1970.4,1115.1 1971.0,1118.0 1971.7,1118.0 1972.3,1117.9 1972.9,1117.7 1973.6,1116.9 1974.2,1115.6 1974.9,1118.8 1975.5,1115.7 1976.1,1116.4 1976.8,1118.9 1977.4,1119.2 1978.1,1117.6 1978.7,1116.9 1979.4,1117.2 1980.0,1119.5 1980.6,1117.6 1981.3,1119.6 1981.9,1115.4 1982.6,1118.3 1983.2,1116.6 1983.9,1118.3 1984.5,1119.9 1985.1,1118.4 1985.8,1118.5 1986.4,1116.6 1987.1,1116.8 1987.7,1117.5 1988.3,1119.8 1989.0,1118.6 1989.6,1120.6 1990.3,1122.3 1990.9,1119.4 1991.6,1121.6 1992.2,1119.0 1992.8,1122.5 1993.5,1121.1 1994.1,1122.6 1994.8,1121.7 1995.4,1122.7 1996.0,1118.9 1996.7,1119.5 1997.3,1121.3 1998.0,1121.5 1998.6,1121.2 1999.3,1121.1 1999.9,1120.9 2000.5,1120.5 2001.2,1122.9 2001.8,1121.5 2002.5,1120.9 2003.1,1119.3 2003.8,1123.5 2004.4,1123.1 2005.0,1121.5 2005.7,1121.0 2006.3,1120.2 2007.0,1123.1 2007.6,1122.6 2008.2,1122.9 2008.9,1121.0 2009.5,1120.6 2010.2,1122.5 2010.8,1123.5 2011.5,1124.3 2012.1,1124.0 2012.7,1128.0 2013.4,1125.0 2014.0,1125.7 2014.7,1127.6 2015.3,1124.4 2016.0,1125.8 2016.6,1125.4 2017.2,1124.4 2017.9,1124.2 2018.5,1124.3 2019.2,1125.1 2019.8,1123.3 2020.4,1125.0 2021.1,1126.3 2021.7,1122.3 2022.4,1125.9 2023.0,1124.5 2023.7,1125.3 2024.3,1126.1 2024.9,1126.6 2025.6,1127.9 2026.2,1125.9 2026.9,1128.2 2027.5,1129.2 2028.1,1127.8 2028.8,1128.2 2029.4,1125.7 2030.1,1126.6 2030.7,1126.3 2031.4,1123.6 2032.0,1123.7 2032.6,1122.6 2033.3,1123.5 2033.9,1126.5 2034.6,1124.7 2035.2,1124.8 2035.9,1125.4 2036.5,1125.9 2037.1,1130.3 2037.8,1128.3 2038.4,1126.2 2039.1,1127.8 2039.7,1128.2 2040.3,1127.8 2041.0,1128.4 2041.6,1128.2 2042.3,1129.2 2042.9,1130.2 2043.6,1127.0 2044.2,1127.1 2044.8,1127.7 2045.5,1128.9 2046.1,1126.2 2046.8,1126.1 2047.4,1129.4 2048.1,1127.0 2048.7,1125.8 2049.3,1129.7 2050.0,1128.7 2050.6,1130.2 2051.3,1127.9 2051.9,1125.7 2052.5,1126.8 2053.2,1131.7 2053.8,1130.9 2054.5,1129.9 2055.1,1130.3 2055.8,1128.2 2056.4,1128.8 2057.0,1125.3 2057.7,1126.6 2058.3,1127.6 2059.0,1126.4 2059.6,1129.4 2060.2,1125.2 2060.9,1126.7 2061.5,1126.2 2062.2,1126.7 2062.8,1126.8 2063.5,1127.8 2064.1,1127.2 2064.7,1130.8 2065.4,1129.4 2066.0,1128.6 2066.7,1128.1 2067.3,1130.0 2068.0,1128.8 2068.6,1128.2 2069.2,1127.3 2069.9,1129.3 2070.5,1129.2 2071.2,1127.1" fill="none" stroke="#008000" stroke-width="7" stroke-linejoin="round" stroke-linecap="round" shape-rendering="crispEdges"/>
<path d="M150.3,1557.8 150.9,1558.2 151.6,1559.7 152.2,1558.8 152.9,1560.2 153.5,1561.0 154.2,1559.0 154.8,1561.6 155.4,1559.5 156.1,1562.2 156.7,1560.7 157.4,1558.6 158.0,1559.4 158.6,1558.9 159.3,1558.0 159.9,1559.9 160.6,1558.9 161.2,1560.3 161.9,1559.5 162.5,1558.1 163.1,1558.1 163.8,1558.7 164.4,1560.0 165.1,1560.8 165.7,1562.3 166.3,1560.7 167.0,1561.9 167.6,1560.4 168.3,1561.5 168.9,1560.5 169.6,1563.3 170.2,1561.9 170.8,1563.3 171.5,1563.7 172.1,1563.9 172.8,1561.0 173.4,1563.9 174.1,1562.9 174.7,1562.1 175.3,1559.8 176.0,1559.0 176.6,1558.9 177.3,1561.4 177.9,1561.2 178.5,1561.1 179.2,1563.5 179.8,1561.6 180.5,1562.2 181.1,1562.0 181.8,1559.4 182.4,1561.9 183.0,1561.7 183.7,1559.5 184.3,1562.5 185.0,1564.6 185.6,1564.1 186.3,1565.0 186.9,1561.9 187.5,1562.8 188.2,1562.4 188.8,1563.5 189.5,1561.4 190.1,1562.4 190.7,1561.5 191.4,1560.2 192.0,1561.3 192.7,1562.5 193.3,1560.4 194.0,1559.3 194.6,1560.6 195.2,1560.4 195.9,1558.3 196.5,1561.0 197.2,1560.4 197.8,1563.2 198.4,1562.1 199.1,1561.0 199.7,1559.9 200.4,1561.5 201.0,1560.5 201.7,1559.2 202.3,1560.4 202.9,1558.7 203.6,1558.7 204.2,1561.2 204.9,1562.9 205.5,1562.7 206.2,1562.6 206.8,1563.5 207.4,1561.6 208.1,1563.4 208.7,1563.4 209.4,1561.2 210.0,1561.7 210.6,1559.2 211.3,1560.1 211.9,1562.6 212.6,1561.7 213.2,1563.5 213.9,1563.7 214.5,1563.4 215.1,1564.6 215.8,1565.0 216.4,1562.7 217.1,1563.0 217.7,1563.5 218.4,1561.2 219.0,1561.5 219.6,1560.6 220.3,1564.4 220.9,1565.0 221.6,1564.7 222.2,1566.1 222.8,1564.7 223.5,1563.4 224.1,1561.9 224.8,1560.8 225.4,1561.5 226.1,1561.9 226.7,1561.7 227.3,1561.4 228.0,1561.0 228.6,1562.3 229.3,1560.1 229.9,1562.4 230.5,1562.3 231.2,1562.7 231.8,1563.0 232.5,1562.5 233.1,1561.9 233.8,1560.3 234.4,1562.3 235.0,1562.7 235.7,1562.8 236.3,1562.1 237.0,1561.7 237.6,1563.9 238.3,1564.1 238.9,1564.2 239.5,1564.7 240.2,1560.1 240.8,1561.3 241.5,1562.0 242.1,1562.4 242.7,1558.8 243.4,1559.6 244.0,1559.2 244.7,1559.9 245.3,1560.7 246.0,1560.5 246.6,1561.8 247.2,1561.6 247.9,1562.4 248.5,1559.5 249.2,1560.7 249.8,1558.3 250.5,1558.5 251.1,1559.3 251.7,1561.8 252.4,1561.8 253.0,1559.9 253.7,1562.4 254.3,1562.0 254.9,1560.5 255.6,1559.2 256.2,1559.1 256.9,1558.2 257.5,1562.0 258.2,1559.4 258.8,1560.1 259.4,1560.1 260.1,1559.7 260.7,1559.2 261.4,1560.2 262.0,1558.6 262.6,1558.7 263.3,1558.5 263.9,1560.5 264.6,1558.9 265.2,1560.3 265.9,1561.4 266.5,1560.4 267.1,1561.7 267.8,1562.9 268.4,1562.3 269.1,1561.4 269.7,1561.4 270.4,1559.7 271.0,1558.8 271.6,1557.9 272.3,1559.5 272.9,1559.0 273.6,1558.7 274.2,1561.8 274.8,1560.7 275.5,1560.6 276.1,1558.2 276.8,1559.7 277.4,1560.4 278.1,1556.7 278.7,1559.5 279.3,1559.2 280.0,1557.5 280.6,1559.4 281.3,1561.3 281.9,1559.5 282.6,1558.7 283.2,1559.1 283.8,1561.1 284.5,1559.2 285.1,1560.1 285.8,1560.1 286.4,1560.8 287.0,1562.3 287.7,1558.8 288.3,1560.6 289.0,1559.9 289.6,1559.8 290.3,1557.9 290.9,1559.6 291.5,1558.3 292.2,1555.5 292.8,1557.4 293.5,1557.7 294.1,1557.6 294.7,1558.1 295.4,1557.8 296.0,1560.3 296.7,1559.8 297.3,1558.6 298.0,1559.9 298.6,1560.7 299.2,1558.5 299.9,1556.2 300.5,1557.5 301.2,1558.6 301.8,1555.7 302.5,1557.2 303.1,1558.8 303.7,1558.7 304.4,1559.2 305.0,1559.4 305.7,1558.9 306.3,1558.6 306.9,1559.1 307.6,1559.4 308.2,1558.3 308.9,1558.2 309.5,1559.5 310.2,1558.6 310.8,1556.7 311.4,1556.5 312.1,1557.6 312.7,1558.2 313.4,1558.4 314.0,1558.5 314.7,1555.9 315.3,1557.6 315.9,1556.3 316.6,1555.4 317.2,1558.7 317.9,1555.0 318.5,1555.1 319.1,1554.6 319.8,1554.8 320.4,1556.0 321.1,1554.5 321.7,1554.8 322.4,1555.0 323.0,1554.2 323.6,1554.7 324.3,1555.6 324.9,1555.2 325.6,1554.6 326.2,1552.6 326.8,1555.0 327.5,1554.4 328.1,1556.9 328.8,1554.1 329.4,1552.4 330.1,1551.9 330.7,1553.2 331.3,1553.0 332.0,1554.1 332.6,1550.6 333.3,1551.8 333.9,1553.9 334.6,1552.1 335.2,1551.5 335.8,1552.3 336.5,1550.5 337.1,1551.5 337.8,1552.3 338.4,1554.3 339.0,1554.2 339.7,1553.5 340.3,1553.2 341.0,1552.7 341.6,1554.1 342.3,1552.3 342.9,1554.2 343.5,1556.1 344.2,1553.0 344.8,1554.4 345.5,1555.0 346.1,1554.4 346.8,1554.5 347.4,1554.1 348.0,1554.3 348.7,1554.4 349.3,1554.1 350.0,1556.3 350.6,1553.5 351.2,1554.0 351.9,1554.4 352.5,1553.2 353.2,1552.5 353.8,1552.0 354.5,1555.3 355.1,1552.8 355.7,1551.2 356.4,1555.3 357.0,1553.2 357.7,1553.7 358.3,1552.1 358.9,1552.5 359.6,1552.8 360.2,1554.8 360.9,1553.9 361.5,1553.8 362.2,1554.4 362.8,1553.7 363.4,1554.4 364.1,1552.5 364.7,1552.6 365.4,1552.2 366.0,1552.6 366.7,1548.8 367.3,1552.6 367.9,1550.4 368.6,1551.1 369.2,1551.4 369.9,1551.5 370.5,1552.4 371.1,1551.0 371.8,1550.9 372.4,1552.6 373.1,1553.3 373.7,1550.0 374.4,1549.6 375.0,1549.0 375.6,1548.7 376.3,1551.1 376.9,1549.7 377.6,1548.8 378.2,1549.5 378.9,1549.5 379.5,1550.4 380.1,1550.6 380.8,1547.5 381.4,1550.4 382.1,1551.5 382.7,1550.4 383.3,1551.3 384.0,1550.3 384.6,1548.7 385.3,1551.7 385.9,1549.5 386.6,1550.0 387.2,1547.8 387.8,1548.8 388.5,1549.1 389.1,1548.8 389.8,1545.9 390.4,1545.4 391.0,1546.7 391.7,1547.1 392.3,1545.3 393.0,1548.4 393.6,1547.1 394.3,1547.9 394.9,1550.5 395.5,1548.8 396.2,1548.5 396.8,1547.1 397.5,1544.0 398.1,1546.9 398.8,1546.1 399.4,1546.0 400.0,1547.3 400.7,1545.6 401.3,1548.1 402.0,1547.7 402.6,1545.8 403.2,1545.3 403.9,1545.6 404.5,1546.4 405.2,1546.7 405.8,1544.9 406.5,1544.6 407.1,1547.9 407.7,1546.5 408.4,1546.6 409.0,1548.7 409.7,1547.8 410.3,1544.1 411.0,1546.8 411.6,1545.0 412.2,1545.7 412.9,1541.8 413.5,1542.6 414.2,1543.1 414.8,1544.9 415.4,1544.8 416.1,1545.0 416.7,1544.2 417.4,1544.4 418.0,1544.1 418.7,1546.1 419.3,1546.6 419.9,1545.7 420.6,1543.8 421.2,1542.8 421.9,1543.8 422.5,1545.8 423.1,1543.7 423.8,1542.7 424.4,1542.4 425.1,1542.9 425.7,1542.1 426.4,1542.3 427.0,1542.3 427.6,1541.6 428.3,1543.0 428.9,1540.2 429.6,1541.4 430.2,1542.0 430.9,1539.5 431.5,1539.8 432.1,1539.7 432.8,1540.9 433.4,1540.6 434.1,1540.2 434.7,1539.7 435.3,1540.7 436.0,1542.2 436.6,1539.5 437.3,1541.2 437.9,1539.7 438.6,1538.1 439.2,1536.9 439.8,1538.1 440.5,1535.2 441.1,1537.3 441.8,1536.1 442.4,1538.3 443.1,1534.9 443.7,1538.2 444.3,1538.9 445.0,1537.8 445.6,1535.4 446.3,1536.2 446.9,1536.4 447.5,1536.2 448.2,1536.4 448.8,1534.0 449.5,1535.1 450.1,1536.2 450.8,1534.1 451.4,1532.3 452.0,1533.3 452.7,1531.9 453.3,1529.9 454.0,1531.2 454.6,1531.6 455.2,1530.9 455.9,1531.1 456.5,1533.6 457.2,1533.9 457.8,1537.0 458.5,1536.1 459.1,1538.3 459.7,1536.6 460.4,1536.6 461.0,1536.8 461.7,1533.6 462.3,1534.2 463.0,1535.2 463.6,1529.9 464.2,1529.9 464.9,1530.8 465.5,1531.6 466.2,1529.8 466.8,1528.2 467.4,1526.8 468.1,1528.7 468.7,1529.0 469.4,1527.7 470.0,1529.3 470.7,1527.7 471.3,1528.8 471.9,1525.1 472.6,1526.5 473.2,1528.2 473.9,1526.0 474.5,1525.8 475.2,1526.1 475.8,1528.9 476.4,1527.9 477.1,1528.9 477.7,1525.1 478.4,1524.8 479.0,1524.3 479.6,1522.4 480.3,1521.5 480.9,1518.2 481.6,1520.9 482.2,1522.0 482.9,1521.4 483.5,1519.3 484.1,1520.3 484.8,1520.3 485.4,1520.4 486.1,1523.5 486.7,1520.0 487.3,1520.8 488.0,1519.9 488.6,1518.9 489.3,1522.4 489.9,1520.4 490.6,1517.8 491.2,1517.3 491.8,1514.1 492.5,1516.8 493.1,1513.7 493.8,1511.4 494.4,1511.9 495.1,1513.6 495.7,1513.5 496.3,1514.0 497.0,1513.5 497.6,1512.1 498.3,1513.4 498.9,1510.4 499.5,1513.1 500.2,1513.4 500.8,1512.4 501.5,1512.3 502.1,1510.4 502.8,1509.3 503.4,1506.5 504.0,1507.1 504.7,1507.4 505.3,1508.1 506.0,1505.4 506.6,1503.9 507.3,1503.4 507.9,1504.0 508.5,1503.3 509.2,1503.6 509.8,1503.7 510.5,1499.1 511.1,1500.4 511.7,1501.3 512.4,1499.8 513.0,1499.3 513.7,1499.6 514.3,1495.0 515.0,1493.8 515.6,1489.4 516.2,1485.4 516.9,1481.8 517.5,1479.5 518.2,1479.9 518.8,1480.3 519.4,1485.1 520.1,1486.4 520.7,1485.5 521.4,1490.9 522.0,1492.9 522.7,1494.4 523.3,1494.9 523.9,1495.8 524.6,1491.8 525.2,1493.2 525.9,1490.0 526.5,1491.1 527.2,1491.6 527.8,1486.4 528.4,1490.0 529.1,1488.3 529.7,1487.7 530.4,1487.4 531.0,1486.9 531.6,1485.6 532.3,1486.8 532.9,1488.1 533.6,1486.5 534.2,1484.5 534.9,1486.5 535.5,1488.0 536.1,1487.4 536.8,1484.9 537.4,1481.2 538.1,1482.7 538.7,1480.6 539.4,1479.8 540.0,1477.4 540.6,1479.3 541.3,1478.5 541.9,1477.1 542.6,1477.2 543.2,1477.8 543.8,1479.5 544.5,1480.2 545.1,1476.6 545.8,1482.0 546.4,1478.7 547.1,1475.9 547.7,1478.5 548.3,1477.1 549.0,1475.6 549.6,1474.5 550.3,1471.5 550.9,1474.1 551.5,1472.2 552.2,1474.4 552.8,1473.8 553.5,1471.3 554.1,1470.7 554.8,1473.3 555.4,1473.7 556.0,1472.7 556.7,1468.6 557.3,1471.5 558.0,1472.3 558.6,1467.5 559.3,1467.5 559.9,1462.3 560.5,1464.0 561.2,1462.9 561.8,1464.7 562.5,1462.7 563.1,1460.8 563.7,1465.2 564.4,1463.5 565.0,1466.4 565.7,1467.0 566.3,1464.7 567.0,1464.0 567.6,1464.3 568.2,1460.5 568.9,1461.0 569.5,1460.9 570.2,1459.9 570.8,1456.8 571.5,1458.3 572.1,1456.6 572.7,1454.0 573.4,1457.2 574.0,1456.4 574.7,1456.3 575.3,1456.1 575.9,1458.8 576.6,1458.8 577.2,1452.5 577.9,1453.3 578.5,1451.3 579.2,1453.0 579.8,1454.3 580.4,1452.3 581.1,1453.3 581.7,1451.6 582.4,1450.5 583.0,1453.7 583.6,1451.7 584.3,1448.8 584.9,1451.9 585.6,1450.0 586.2,1449.1 586.9,1450.8 587.5,1450.5 588.1,1447.6 588.8,1449.4 589.4,1444.7 590.1,1445.1 590.7,1445.1 591.4,1442.8 592.0,1440.9 592.6,1442.0 593.3,1443.1 593.9,1442.1 594.6,1439.8 595.2,1437.2 595.8,1435.1 596.5,1435.4 597.1,1433.9 597.8,1435.5 598.4,1435.4 599.1,1433.2 599.7,1434.6 600.3,1431.1 601.0,1430.9 601.6,1428.2 602.3,1429.1 602.9,1425.5 603.6,1423.6 604.2,1424.7 604.8,1424.4 605.5,1418.5 606.1,1420.4 606.8,1417.7 607.4,1419.0 608.0,1418.9 608.7,1415.0 609.3,1413.2 610.0,1415.3 610.6,1412.2 611.3,1411.6 611.9,1408.7 612.5,1406.5 613.2,1405.2 613.8,1403.0 614.5,1401.6 615.1,1404.3 615.7,1399.5 616.4,1397.3 617.0,1395.8 617.7,1398.2 618.3,1397.0 619.0,1395.4 619.6,1394.1 620.2,1392.2 620.9,1393.1 621.5,1389.5 622.2,1387.9 622.8,1382.8 623.5,1385.9 624.1,1382.8 624.7,1380.8 625.4,1381.6 626.0,1376.7 626.7,1379.3 627.3,1375.4 627.9,1376.2 628.6,1375.4 629.2,1370.7 629.9,1370.8 630.5,1367.7 631.2,1366.6 631.8,1359.6 632.4,1362.9 633.1,1358.5 633.7,1354.9 634.4,1351.4 635.0,1352.5 635.7,1346.4 636.3,1345.9 636.9,1338.2 637.6,1337.2 638.2,1329.1 638.9,1328.9 639.5,1323.5 640.1,1320.6 640.8,1321.9 641.4,1317.8 642.1,1313.1 642.7,1309.4 643.4,1309.9 644.0,1301.6 644.6,1301.9 645.3,1297.3 645.9,1297.2 646.6,1293.6 647.2,1290.6 647.8,1286.5 648.5,1285.5 649.1,1280.3 649.8,1274.5 650.4,1275.3 651.1,1267.4 651.7,1263.8 652.3,1262.4 653.0,1254.1 653.6,1252.2 654.3,1245.6 654.9,1244.4 655.6,1238.7 656.2,1236.9 656.8,1230.7 657.5,1232.6 658.1,1227.3 658.8,1223.6 659.4,1217.0 660.0,1210.3 660.7,1212.0 661.3,1208.4 662.0,1203.6 662.6,1205.4 663.3,1202.2 663.9,1197.7 664.5,1197.7 665.2,1194.9 665.8,1192.0 666.5,1189.1 667.1,1185.2 667.8,1179.6 668.4,1176.2 669.0,1175.0 669.7,1173.3 670.3,1171.8 671.0,1167.0 671.6,1161.9 672.2,1159.7 672.9,1165.8 673.5,1161.7 674.2,1157.0 674.8,1155.6 675.5,1156.8 676.1,1150.8 676.7,1147.0 677.4,1139.0 678.0,1140.2 678.7,1133.2 679.3,1125.1 679.9,1126.9 680.6,1121.7 681.2,1121.2 681.9,1115.1 682.5,1114.3 683.2,1111.9 683.8,1114.0 684.4,1112.7 685.1,1110.4 685.7,1106.6 686.4,1110.3 687.0,1104.9 687.7,1107.5 688.3,1106.7 688.9,1108.1 689.6,1102.9 690.2,1105.2 690.9,1100.0 691.5,1101.5 692.1,1100.7 692.8,1103.6 693.4,1092.3 694.1,1093.4 694.7,1093.2 695.4,1094.6 696.0,1097.0 696.6,1095.5 697.3,1098.6 697.9,1103.5 698.6,1105.8 699.2,1106.6 699.9,1112.0 700.5,1109.4 701.1,1111.1 701.8,1109.8 702.4,1112.6 703.1,1115.8 703.7,1113.8 704.3,1119.4 705.0,1119.3 705.6,1113.8 706.3,1126.4 706.9,1124.4 707.6,1122.2 708.2,1124.2 708.8,1130.2 709.5,1133.7 710.1,1139.3 710.8,1138.3 711.4,1146.1 712.0,1145.1 712.7,1150.3 713.3,1156.9 714.0,1157.4 714.6,1163.4 715.3,1166.1 715.9,1172.0 716.5,1179.6 717.2,1178.1 717.8,1182.6 718.5,1190.9 719.1,1189.8 719.8,1191.3 720.4,1195.2 721.0,1194.0 721.7,1201.5 722.3,1197.7 723.0,1201.8 723.6,1206.2 724.2,1205.0 724.9,1207.0 725.5,1210.6 726.2,1215.1 726.8,1220.5 727.5,1224.1 728.1,1224.4 728.7,1230.0 729.4,1225.9 730.0,1235.3 730.7,1235.6 731.3,1241.4 732.0,1242.2 732.6,1244.0 733.2,1251.5 733.9,1254.5 734.5,1253.7 735.2,1253.5 735.8,1259.3 736.4,1251.5 737.1,1258.7 737.7,1258.2 738.4,1259.7 739.0,1265.7 739.7,1264.6 740.3,1270.8 740.9,1274.2 741.6,1278.8 742.2,1281.3 742.9,1283.7 743.5,1283.2 744.1,1284.3 744.8,1285.7 745.4,1289.1 746.1,1291.9 746.7,1288.6 747.4,1291.4 748.0,1290.6 748.6,1293.9 749.3,1291.8 749.9,1293.8 750.6,1297.1 751.2,1296.1 751.9,1292.9 752.5,1296.4 753.1,1295.9 753.8,1299.1 754.4,1299.7 755.1,1299.5 755.7,1299.1 756.3,1301.1 757.0,1301.7 757.6,1299.8 758.3,1300.6 758.9,1296.0 759.6,1297.2 760.2,1300.7 760.8,1297.3 761.5,1298.4 762.1,1301.9 762.8,1304.4 763.4,1305.2 764.1,1306.8 764.7,1307.2 765.3,1304.1 766.0,1304.9 766.6,1304.6 767.3,1301.2 767.9,1302.2 768.5,1304.0 769.2,1303.1 769.8,1301.7 770.5,1300.3 771.1,1299.5 771.8,1299.1 772.4,1292.8 773.0,1292.7 773.7,1295.1 774.3,1296.9 775.0,1297.9 775.6,1298.3 776.2,1297.1 776.9,1293.9 777.5,1296.4 778.2,1295.4 778.8,1293.1 779.5,1291.3 780.1,1293.7 780.7,1295.5 781.4,1294.5 782.0,1295.8 782.7,1292.4 783.3,1289.3 784.0,1288.1 784.6,1288.2 785.2,1289.3 785.9,1290.2 786.5,1289.0 787.2,1285.4 787.8,1286.8 788.4,1287.9 789.1,1286.2 789.7,1285.9 790.4,1283.5 791.0,1281.5 791.7,1281.5 792.3,1279.9 792.9,1280.6 793.6,1281.9 794.2,1275.0 794.9,1273.1 795.5,1265.9 796.2,1267.0 796.8,1265.2 797.4,1267.8 798.1,1265.7 798.7,1267.0 799.4,1261.6 800.0,1266.6 800.6,1268.0 801.3,1262.7 801.9,1262.1 802.6,1255.3 803.2,1257.9 803.9,1254.4 804.5,1253.2 805.1,1245.6 805.8,1247.0 806.4,1247.5 807.1,1238.3 807.7,1239.1 808.3,1234.2 809.0,1236.3 809.6,1234.6 810.3,1230.7 810.9,1236.2 811.6,1231.9 812.2,1230.3 812.8,1228.9 813.5,1226.9 814.1,1220.3 814.8,1218.9 815.4,1214.2 816.1,1208.0 816.7,1207.6 817.3,1206.7 818.0,1203.4 818.6,1202.6 819.3,1197.9 819.9,1194.8 820.5,1195.8 821.2,1192.0 821.8,1185.0 822.5,1181.0 823.1,1184.8 823.8,1178.5 824.4,1171.9 825.0,1170.9 825.7,1168.1 826.3,1161.5 827.0,1163.6 827.6,1156.3 828.3,1153.3 828.9,1152.2 829.5,1150.6 830.2,1145.1 830.8,1143.5 831.5,1135.3 832.1,1131.4 832.7,1126.0 833.4,1114.7 834.0,1115.1 834.7,1112.4 835.3,1108.9 836.0,1103.0 836.6,1096.3 837.2,1094.3 837.9,1087.9 838.5,1083.5 839.2,1080.1 839.8,1074.7 840.4,1077.5 841.1,1078.0 841.7,1073.9 842.4,1069.8 843.0,1070.7 843.7,1067.0 844.3,1066.3 844.9,1067.0 845.6,1062.6 846.2,1062.1 846.9,1060.6 847.5,1064.4 848.2,1059.0 848.8,1059.7 849.4,1061.0 850.1,1053.5 850.7,1049.6 851.4,1055.0 852.0,1055.5 852.6,1063.6 853.3,1059.5 853.9,1058.5 854.6,1063.5 855.2,1065.7 855.9,1069.5 856.5,1076.0 857.1,1086.3 857.8,1092.5 858.4,1098.7 859.1,1108.5 859.7,1115.5 860.4,1117.4 861.0,1122.7 861.6,1123.7 862.3,1132.2 862.9,1133.9 863.6,1139.3 864.2,1142.3 864.8,1151.5 865.5,1160.0 866.1,1163.6 866.8,1170.6 867.4,1185.4 868.1,1188.1 868.7,1199.5 869.3,1207.7 870.0,1211.2 870.6,1224.6 871.3,1237.3 871.9,1244.3 872.5,1251.5 873.2,1262.3 873.8,1272.7 874.5,1275.0 875.1,1281.4 875.8,1285.7 876.4,1292.4 877.0,1302.5 877.7,1310.2 878.3,1323.4 879.0,1337.3 879.6,1345.9 880.3,1352.8 880.9,1358.5 881.5,1364.6 882.2,1367.2 882.8,1370.2 883.5,1373.3 884.1,1377.8 884.7,1383.0 885.4,1391.1 886.0,1392.9 886.7,1392.2 887.3,1400.4 888.0,1399.7 888.6,1400.8 889.2,1405.5 889.9,1405.7 890.5,1407.4 891.2,1409.4 891.8,1413.5 892.5,1412.6 893.1,1418.5 893.7,1422.8 894.4,1422.3 895.0,1424.6 895.7,1425.7 896.3,1426.4 896.9,1426.8 897.6,1430.4 898.2,1431.5 898.9,1430.3 899.5,1433.7 900.2,1436.1 900.8,1435.2 901.4,1438.4 902.1,1436.7 902.7,1438.5 903.4,1444.3 904.0,1444.7 904.6,1446.5 905.3,1447.8 905.9,1445.0 906.6,1448.6 907.2,1447.7 907.9,1447.4 908.5,1449.5 909.1,1450.2 909.8,1450.8 910.4,1452.2 911.1,1452.0 911.7,1452.5 912.4,1457.1 913.0,1456.5 913.6,1456.8 914.3,1454.2 914.9,1454.7 915.6,1456.7 916.2,1458.0 916.8,1457.3 917.5,1457.2 918.1,1456.0 918.8,1455.3 919.4,1458.8 920.1,1460.4 920.7,1462.1 921.3,1460.0 922.0,1464.2 922.6,1465.4 923.3,1463.6 923.9,1464.7 924.6,1464.1 925.2,1464.5 925.8,1465.0 926.5,1463.1 927.1,1464.6 927.8,1464.5 928.4,1463.9 929.0,1465.5 929.7,1465.8 930.3,1465.1 931.0,1470.1 931.6,1469.7 932.3,1471.8 932.9,1469.1 933.5,1471.8 934.2,1470.7 934.8,1467.3 935.5,1472.6 936.1,1469.7 936.7,1470.2 937.4,1470.2 938.0,1471.1 938.7,1475.1 939.3,1473.6 940.0,1468.9 940.6,1477.5 941.2,1476.3 941.9,1475.6 942.5,1477.2 943.2,1477.8 943.8,1476.0 944.5,1478.8 945.1,1478.6 945.7,1479.3 946.4,1478.3 947.0,1479.1 947.7,1478.4 948.3,1476.1 948.9,1476.6 949.6,1478.5 950.2,1477.7 950.9,1478.0 951.5,1476.8 952.2,1477.4 952.8,1479.7 953.4,1478.5 954.1,1477.7 954.7,1480.1 955.4,1482.3 956.0,1483.9 956.7,1482.1 957.3,1483.3 957.9,1483.8 958.6,1484.1 959.2,1485.0 959.9,1487.3 960.5,1485.3 961.1,1482.6 961.8,1482.5 962.4,1482.9 963.1,1485.4 963.7,1486.7 964.4,1485.0 965.0,1486.9 965.6,1487.0 966.3,1489.5 966.9,1485.1 967.6,1484.8 968.2,1486.0 968.8,1484.3 969.5,1485.4 970.1,1485.0 970.8,1485.4 971.4,1485.1 972.1,1485.7 972.7,1483.9 973.3,1489.0 974.0,1485.3 974.6,1489.2 975.3,1489.6 975.9,1487.4 976.6,1486.5 977.2,1489.3 977.8,1487.1 978.5,1490.2 979.1,1492.0 979.8,1489.4 980.4,1484.6 981.0,1489.1 981.7,1488.3 982.3,1487.6 983.0,1488.9 983.6,1487.0 984.3,1489.7 984.9,1488.6 985.5,1487.4 986.2,1490.1 986.8,1490.1 987.5,1488.5 988.1,1491.8 988.8,1489.8 989.4,1488.3 990.0,1489.7 990.7,1488.9 991.3,1491.6 992.0,1491.9 992.6,1490.9 993.2,1492.0 993.9,1488.5 994.5,1489.6 995.2,1489.5 995.8,1486.4 996.5,1489.8 997.1,1488.5 997.7,1492.8 998.4,1491.3 999.0,1494.1 999.7,1493.7 1000.3,1491.2 1000.9,1494.0 1001.6,1492.9 1002.2,1491.1 1002.9,1489.6 1003.5,1491.4 1004.2,1488.3 1004.8,1489.3 1005.4,1490.1 1006.1,1490.0 1006.7,1490.0 1007.4,1491.3 1008.0,1491.7 1008.7,1490.4 1009.3,1492.0 1009.9,1491.2 1010.6,1491.5 1011.2,1488.7 1011.9,1491.8 1012.5,1491.1 1013.1,1492.6 1013.8,1492.8 1014.4,1493.8 1015.1,1493.7 1015.7,1493.8 1016.4,1498.3 1017.0,1494.8 1017.6,1494.2 1018.3,1496.1 1018.9,1496.4 1019.6,1492.9 1020.2,1492.9 1020.9,1493.5 1021.5,1494.5 1022.1,1495.2 1022.8,1496.6 1023.4,1494.4 1024.1,1495.2 1024.7,1495.4 1025.3,1494.3 1026.0,1493.4 1026.6,1487.1 1027.3,1491.1 1027.9,1490.1 1028.6,1490.7 1029.2,1488.9 1029.8,1491.2 1030.5,1490.7 1031.1,1494.9 1031.8,1494.8 1032.4,1494.3 1033.0,1495.4 1033.7,1494.9 1034.3,1497.0 1035.0,1494.5 1035.6,1496.3 1036.3,1496.4 1036.9,1495.6 1037.5,1497.2 1038.2,1499.9 1038.8,1496.8 1039.5,1495.4 1040.1,1496.9 1040.8,1498.3 1041.4,1496.5 1042.0,1494.4 1042.7,1494.4 1043.3,1495.3 1044.0,1496.8 1044.6,1499.7 1045.2,1498.4 1045.9,1495.1 1046.5,1497.2 1047.2,1497.0 1047.8,1496.6 1048.5,1495.5 1049.1,1494.5 1049.7,1496.3 1050.4,1495.0 1051.0,1496.1 1051.7,1495.1 1052.3,1494.2 1053.0,1499.2 1053.6,1496.0 1054.2,1497.8 1054.9,1495.6 1055.5,1498.3 1056.2,1496.6 1056.8,1496.9 1057.4,1498.9 1058.1,1497.3 1058.7,1496.9 1059.4,1495.0 1060.0,1497.9 1060.7,1497.9 1061.3,1498.5 1061.9,1498.0 1062.6,1495.3 1063.2,1495.7 1063.9,1498.0 1064.5,1499.0 1065.1,1498.1 1065.8,1499.9 1066.4,1498.3 1067.1,1497.7 1067.7,1497.2 1068.4,1494.4 1069.0,1494.7 1069.6,1498.0 1070.3,1495.0 1070.9,1497.9 1071.6,1498.0 1072.2,1496.0 1072.9,1496.9 1073.5,1496.0 1074.1,1499.0 1074.8,1495.2 1075.4,1493.1 1076.1,1497.8 1076.7,1497.1 1077.3,1501.2 1078.0,1498.8 1078.6,1496.4 1079.3,1498.5 1079.9,1494.9 1080.6,1492.4 1081.2,1495.4 1081.8,1494.9 1082.5,1493.3 1083.1,1495.2 1083.8,1498.3 1084.4,1495.5 1085.1,1492.3 1085.7,1498.5 1086.3,1496.6 1087.0,1499.2 1087.6,1498.9 1088.3,1497.9 1088.9,1497.2 1089.5,1497.2 1090.2,1496.7 1090.8,1497.3 1091.5,1497.9 1092.1,1496.5 1092.8,1493.6 1093.4,1496.4 1094.0,1494.9 1094.7,1496.6 1095.3,1497.8 1096.0,1498.0 1096.6,1498.0 1097.2,1499.2 1097.9,1499.4 1098.5,1495.6 1099.2,1496.0 1099.8,1494.0 1100.5,1496.8 1101.1,1500.1 1101.7,1498.5 1102.4,1498.9 1103.0,1498.6 1103.7,1496.9 1104.3,1499.2 1105.0,1498.6 1105.6,1498.0 1106.2,1500.9 1106.9,1499.8 1107.5,1501.5 1108.2,1499.2 1108.8,1500.0 1109.4,1500.7 1110.1,1500.5 1110.7,1501.6 1111.4,1499.7 1112.0,1500.2 1112.7,1500.3 1113.3,1501.8 1113.9,1499.1 1114.6,1498.8 1115.2,1500.2 1115.9,1498.9 1116.5,1498.1 1117.2,1501.0 1117.8,1497.8 1118.4,1498.8 1119.1,1496.8 1119.7,1498.0 1120.4,1498.1 1121.0,1500.5 1121.6,1498.7 1122.3,1500.1 1122.9,1497.0 1123.6,1498.7 1124.2,1498.9 1124.9,1501.7 1125.5,1500.7 1126.1,1498.0 1126.8,1502.2 1127.4,1501.6 1128.1,1501.6 1128.7,1497.8 1129.3,1501.5 1130.0,1498.2 1130.6,1500.0 1131.3,1499.9 1131.9,1501.4 1132.6,1501.5 1133.2,1502.2 1133.8,1504.7 1134.5,1499.7 1135.1,1501.2 1135.8,1501.0 1136.4,1503.1 1137.1,1501.9 1137.7,1498.7 1138.3,1503.9 1139.0,1500.8 1139.6,1503.2 1140.3,1503.9 1140.9,1500.4 1141.5,1501.3 1142.2,1499.6 1142.8,1500.0 1143.5,1503.2 1144.1,1499.5 1144.8,1501.7 1145.4,1500.6 1146.0,1501.1 1146.7,1499.7 1147.3,1501.2 1148.0,1499.3 1148.6,1499.0 1149.3,1499.7 1149.9,1498.1 1150.5,1497.5 1151.2,1496.4 1151.8,1501.9 1152.5,1500.4 1153.1,1499.9 1153.7,1500.8 1154.4,1500.8 1155.0,1500.6 1155.7,1501.6 1156.3,1500.5 1157.0,1501.5 1157.6,1501.2 1158.2,1500.9 1158.9,1501.3 1159.5,1499.9 1160.2,1499.5 1160.8,1501.1 1161.4,1501.4 1162.1,1501.3 1162.7,1502.8 1163.4,1501.9 1164.0,1500.3 1164.7,1500.2 1165.3,1500.6 1165.9,1499.6 1166.6,1500.8 1167.2,1496.2 1167.9,1501.1 1168.5,1498.3 1169.2,1501.4 1169.8,1499.9 1170.4,1502.9 1171.1,1500.4 1171.7,1501.1 1172.4,1499.9 1173.0,1499.6 1173.6,1501.2 1174.3,1500.6 1174.9,1499.8 1175.6,1499.8 1176.2,1500.6 1176.9,1502.4 1177.5,1502.3 1178.1,1501.7 1178.8,1503.7 1179.4,1502.8 1180.1,1503.1 1180.7,1503.2 1181.4,1500.8 1182.0,1499.8 1182.6,1498.3 1183.3,1501.6 1183.9,1498.5 1184.6,1501.1 1185.2,1498.3 1185.8,1499.5 1186.5,1503.8 1187.1,1502.9 1187.8,1503.3 1188.4,1502.2 1189.1,1502.1 1189.7,1502.7 1190.3,1501.1 1191.0,1502.6 1191.6,1501.7 1192.3,1500.1 1192.9,1499.9 1193.5,1502.0 1194.2,1501.7 1194.8,1500.3 1195.5,1502.1 1196.1,1500.2 1196.8,1498.5 1197.4,1502.3 1198.0,1501.4 1198.7,1500.8 1199.3,1500.2 1200.0,1503.2 1200.6,1504.0 1201.3,1501.8 1201.9,1503.8 1202.5,1499.7 1203.2,1496.3 1203.8,1500.6 1204.5,1502.2 1205.1,1500.9 1205.7,1500.6 1206.4,1501.8 1207.0,1500.2 1207.7,1502.9 1208.3,1500.7 1209.0,1502.6 1209.6,1500.4 1210.2,1500.4 1210.9,1503.6 1211.5,1501.7 1212.2,1502.9 1212.8,1498.2 1213.5,1500.5 1214.1,1500.2 1214.7,1501.1 1215.4,1501.9 1216.0,1500.9 1216.7,1500.5 1217.3,1499.5 1217.9,1500.4 1218.6,1500.0 1219.2,1499.3 1219.9,1500.7 1220.5,1498.6 1221.2,1500.4 1221.8,1499.7 1222.4,1500.3 1223.1,1502.1 1223.7,1499.0 1224.4,1502.1 1225.0,1501.7 1225.6,1502.6 1226.3,1499.1 1226.9,1500.4 1227.6,1498.2 1228.2,1498.8 1228.9,1499.2 1229.5,1499.9 1230.1,1498.5 1230.8,1498.5 1231.4,1497.8 1232.1,1500.6 1232.7,1498.9 1233.4,1503.0 1234.0,1503.1 1234.6,1503.2 1235.3,1499.8 1235.9,1500.4 1236.6,1501.1 1237.2,1502.0 1237.8,1501.9 1238.5,1501.9 1239.1,1502.8 1239.8,1502.0 1240.4,1500.5 1241.1,1498.9 1241.7,1500.6 1242.3,1500.1 1243.0,1501.2 1243.6,1499.9 1244.3,1502.9 1244.9,1501.6 1245.6,1501.2 1246.2,1497.6 1246.8,1499.6 1247.5,1497.1 1248.1,1497.0 1248.8,1497.4 1249.4,1497.4 1250.0,1498.5 1250.7,1501.3 1251.3,1500.4 1252.0,1501.4 1252.6,1498.4 1253.3,1497.6 1253.9,1498.5 1254.5,1496.2 1255.2,1500.3 1255.8,1498.5 1256.5,1502.0 1257.1,1499.7 1257.7,1500.0 1258.4,1498.7 1259.0,1498.8 1259.7,1501.7 1260.3,1502.4 1261.0,1500.2 1261.6,1502.6 1262.2,1501.0 1262.9,1500.2 1263.5,1501.6 1264.2,1501.7 1264.8,1499.4 1265.5,1497.3 1266.1,1498.8 1266.7,1498.9 1267.4,1501.7 1268.0,1499.7 1268.7,1500.1 1269.3,1497.3 1269.9,1499.6 1270.6,1498.1 1271.2,1501.4 1271.9,1496.8 1272.5,1497.5 1273.2,1497.1 1273.8,1498.4 1274.4,1497.9 1275.1,1499.2 1275.7,1499.9 1276.4,1500.2 1277.0,1499.6 1277.7,1498.5 1278.3,1498.4 1278.9,1500.0 1279.6,1502.0 1280.2,1499.9 1280.9,1497.4 1281.5,1497.0 1282.1,1498.6 1282.8,1498.1 1283.4,1499.5 1284.1,1497.8 1284.7,1497.1 1285.4,1495.6 1286.0,1494.7 1286.6,1500.2 1287.3,1498.9 1287.9,1496.7 1288.6,1496.2 1289.2,1494.9 1289.8,1497.7 1290.5,1499.6 1291.1,1494.8 1291.8,1495.3 1292.4,1497.2 1293.1,1496.4 1293.7,1497.2 1294.3,1498.7 1295.0,1496.9 1295.6,1498.0 1296.3,1496.4 1296.9,1497.5 1297.6,1496.7 1298.2,1497.1 1298.8,1495.4 1299.5,1494.5 1300.1,1495.9 1300.8,1496.0 1301.4,1498.4 1302.0,1496.9 1302.7,1497.1 1303.3,1496.2 1304.0,1496.9 1304.6,1496.6 1305.3,1494.5 1305.9,1494.0 1306.5,1492.1 1307.2,1495.7 1307.8,1497.8 1308.5,1493.5 1309.1,1496.9 1309.8,1498.4 1310.4,1494.8 1311.0,1497.2 1311.7,1494.7 1312.3,1493.2 1313.0,1493.9 1313.6,1494.5 1314.2,1495.3 1314.9,1494.2 1315.5,1492.6 1316.2,1495.0 1316.8,1494.3 1317.5,1492.2 1318.1,1493.3 1318.7,1495.5 1319.4,1496.3 1320.0,1493.1 1320.7,1494.8 1321.3,1493.5 1321.9,1495.1 1322.6,1496.3 1323.2,1489.3 1323.9,1494.0 1324.5,1490.4 1325.2,1492.5 1325.8,1493.2 1326.4,1492.4 1327.1,1489.5 1327.7,1492.9 1328.4,1490.0 1329.0,1490.0 1329.7,1487.1 1330.3,1488.3 1330.9,1487.8 1331.6,1490.2 1332.2,1487.9 1332.9,1490.4 1333.5,1488.4 1334.1,1492.1 1334.8,1492.0 1335.4,1490.8 1336.1,1491.4 1336.7,1492.9 1337.4,1493.1 1338.0,1491.1 1338.6,1491.5 1339.3,1493.7 1339.9,1496.8 1340.6,1493.9 1341.2,1491.7 1341.9,1491.6 1342.5,1492.1 1343.1,1491.6 1343.8,1489.7 1344.4,1487.7 1345.1,1491.7 1345.7,1490.9 1346.3,1492.1 1347.0,1488.8 1347.6,1491.1 1348.3,1493.5 1348.9,1490.7 1349.6,1488.2 1350.2,1489.6 1350.8,1487.2 1351.5,1490.8 1352.1,1490.0 1352.8,1488.6 1353.4,1489.4 1354.0,1491.7 1354.7,1491.1 1355.3,1492.5 1356.0,1492.2 1356.6,1488.9 1357.3,1487.9 1357.9,1488.5 1358.5,1486.5 1359.2,1487.8 1359.8,1485.3 1360.5,1486.6 1361.1,1485.1 1361.8,1489.1 1362.4,1489.7 1363.0,1487.3 1363.7,1488.9 1364.3,1488.0 1365.0,1488.1 1365.6,1489.6 1366.2,1490.4 1366.9,1488.3 1367.5,1489.0 1368.2,1486.2 1368.8,1489.5 1369.5,1489.6 1370.1,1486.8 1370.7,1488.0 1371.4,1484.8 1372.0,1486.1 1372.7,1485.0 1373.3,1483.2 1374.0,1484.0 1374.6,1485.7 1375.2,1482.9 1375.9,1486.6 1376.5,1484.8 1377.2,1484.4 1377.8,1485.8 1378.4,1485.0 1379.1,1481.9 1379.7,1485.9 1380.4,1484.4 1381.0,1483.9 1381.7,1485.2 1382.3,1482.1 1382.9,1481.9 1383.6,1479.9 1384.2,1480.2 1384.9,1478.6 1385.5,1479.1 1386.1,1480.5 1386.8,1479.2 1387.4,1478.7 1388.1,1478.2 1388.7,1479.4 1389.4,1477.9 1390.0,1481.9 1390.6,1478.6 1391.3,1481.5 1391.9,1479.1 1392.6,1480.9 1393.2,1480.4 1393.9,1480.2 1394.5,1478.9 1395.1,1480.4 1395.8,1479.2 1396.4,1477.9 1397.1,1476.3 1397.7,1481.5 1398.3,1477.8 1399.0,1481.4 1399.6,1479.9 1400.3,1478.5 1400.9,1478.8 1401.6,1480.1 1402.2,1481.2 1402.8,1478.9 1403.5,1481.7 1404.1,1478.4 1404.8,1479.9 1405.4,1482.0 1406.1,1478.8 1406.7,1480.1 1407.3,1481.4 1408.0,1483.5 1408.6,1482.5 1409.3,1480.8 1409.9,1480.9 1410.5,1478.3 1411.2,1477.4 1411.8,1475.1 1412.5,1477.2 1413.1,1473.6 1413.8,1472.7 1414.4,1473.4 1415.0,1474.7 1415.7,1476.4 1416.3,1474.6 1417.0,1473.9 1417.6,1479.9 1418.2,1475.7 1418.9,1476.9 1419.5,1474.0 1420.2,1472.2 1420.8,1472.7 1421.5,1468.8 1422.1,1465.6 1422.7,1470.6 1423.4,1470.8 1424.0,1471.8 1424.7,1470.7 1425.3,1469.9 1426.0,1470.0 1426.6,1472.2 1427.2,1472.9 1427.9,1471.1 1428.5,1471.5 1429.2,1473.1 1429.8,1471.8 1430.4,1472.5 1431.1,1469.5 1431.7,1467.8 1432.4,1467.6 1433.0,1468.9 1433.7,1467.3 1434.3,1468.5 1434.9,1466.0 1435.6,1469.1 1436.2,1470.4 1436.9,1469.3 1437.5,1469.1 1438.2,1466.9 1438.8,1466.3 1439.4,1466.4 1440.1,1468.2 1440.7,1467.3 1441.4,1466.4 1442.0,1464.8 1442.6,1465.6 1443.3,1466.7 1443.9,1463.4 1444.6,1463.6 1445.2,1463.5 1445.9,1465.1 1446.5,1465.3 1447.1,1468.0 1447.8,1464.0 1448.4,1467.4 1449.1,1466.4 1449.7,1465.3 1450.3,1464.2 1451.0,1462.9 1451.6,1462.8 1452.3,1463.5 1452.9,1459.9 1453.6,1466.6 1454.2,1465.1 1454.8,1464.7 1455.5,1463.1 1456.1,1465.9 1456.8,1465.6 1457.4,1459.9 1458.1,1461.2 1458.7,1460.4 1459.3,1460.1 1460.0,1458.9 1460.6,1461.1 1461.3,1456.8 1461.9,1461.8 1462.5,1460.9 1463.2,1458.9 1463.8,1461.6 1464.5,1459.3 1465.1,1462.1 1465.8,1460.6 1466.4,1459.4 1467.0,1460.9 1467.7,1456.9 1468.3,1458.4 1469.0,1460.2 1469.6,1462.3 1470.3,1461.7 1470.9,1460.1 1471.5,1458.6 1472.2,1459.7 1472.8,1456.6 1473.5,1458.4 1474.1,1457.7 1474.7,1455.4 1475.4,1454.7 1476.0,1453.2 1476.7,1456.1 1477.3,1454.4 1478.0,1453.7 1478.6,1452.2 1479.2,1452.0 1479.9,1455.3 1480.5,1452.8 1481.2,1455.2 1481.8,1454.6 1482.4,1454.6 1483.1,1455.1 1483.7,1452.5 1484.4,1456.9 1485.0,1455.5 1485.7,1453.5 1486.3,1452.9 1486.9,1452.5 1487.6,1448.8 1488.2,1453.6 1488.9,1451.6 1489.5,1450.8 1490.2,1448.0 1490.8,1450.2 1491.4,1450.5 1492.1,1453.7 1492.7,1450.6 1493.4,1450.9 1494.0,1453.4 1494.6,1452.1 1495.3,1453.3 1495.9,1452.9 1496.6,1451.8 1497.2,1450.9 1497.9,1449.6 1498.5,1449.2 1499.1,1446.8 1499.8,1449.6 1500.4,1447.4 1501.1,1448.2 1501.7,1445.1 1502.4,1445.8 1503.0,1441.3 1503.6,1440.1 1504.3,1444.1 1504.9,1441.7 1505.6,1442.8 1506.2,1439.5 1506.8,1439.4 1507.5,1440.7 1508.1,1442.2 1508.8,1439.4 1509.4,1439.9 1510.1,1438.7 1510.7,1440.2 1511.3,1440.2 1512.0,1438.2 1512.6,1436.0 1513.3,1437.9 1513.9,1441.4 1514.5,1440.1 1515.2,1441.7 1515.8,1438.3 1516.5,1439.7 1517.1,1443.3 1517.8,1438.7 1518.4,1438.7 1519.0,1438.4 1519.7,1440.1 1520.3,1438.6 1521.0,1441.5 1521.6,1439.5 1522.3,1437.3 1522.9,1435.2 1523.5,1435.5 1524.2,1431.2 1524.8,1435.4 1525.5,1432.5 1526.1,1434.1 1526.7,1437.7 1527.4,1437.3 1528.0,1434.1 1528.7,1435.4 1529.3,1434.7 1530.0,1435.7 1530.6,1433.6 1531.2,1431.8 1531.9,1435.6 1532.5,1431.2 1533.2,1433.6 1533.8,1431.5 1534.5,1431.7 1535.1,1435.5 1535.7,1431.0 1536.4,1431.0 1537.0,1433.3 1537.7,1428.6 1538.3,1431.1 1538.9,1435.0 1539.6,1433.0 1540.2,1432.5 1540.9,1434.0 1541.5,1427.2 1542.2,1430.2 1542.8,1429.6 1543.4,1430.0 1544.1,1428.8 1544.7,1427.3 1545.4,1430.8 1546.0,1430.4 1546.6,1429.9 1547.3,1427.9 1547.9,1430.1 1548.6,1428.0 1549.2,1430.2 1549.9,1430.9 1550.5,1426.1 1551.1,1427.3 1551.8,1429.1 1552.4,1429.6 1553.1,1428.7 1553.7,1428.4 1554.4,1428.1 1555.0,1429.4 1555.6,1429.3 1556.3,1425.5 1556.9,1427.0 1557.6,1429.7 1558.2,1426.5 1558.8,1427.9 1559.5,1427.7 1560.1,1426.2 1560.8,1428.8 1561.4,1429.7 1562.1,1429.0 1562.7,1428.0 1563.3,1428.0 1564.0,1429.3 1564.6,1431.1 1565.3,1426.6 1565.9,1428.8 1566.6,1425.4 1567.2,1429.1 1567.8,1425.9 1568.5,1428.3 1569.1,1428.0 1569.8,1425.5 1570.4,1424.0 1571.0,1425.4 1571.7,1427.2 1572.3,1426.3 1573.0,1423.5 1573.6,1426.6 1574.3,1426.2 1574.9,1429.2 1575.5,1428.1 1576.2,1427.4 1576.8,1426.8 1577.5,1427.2 1578.1,1428.9 1578.7,1424.1 1579.4,1424.4 1580.0,1426.6 1580.7,1426.8 1581.3,1428.3 1582.0,1427.3 1582.6,1425.7 1583.2,1424.6 1583.9,1429.8 1584.5,1423.2 1585.2,1426.4 1585.8,1426.5 1586.5,1427.0 1587.1,1429.7 1587.7,1428.2 1588.4,1422.7 1589.0,1426.3 1589.7,1428.6 1590.3,1430.2 1590.9,1427.7 1591.6,1424.9 1592.2,1425.1 1592.9,1426.6 1593.5,1425.5 1594.2,1428.0 1594.8,1427.3 1595.4,1429.0 1596.1,1431.2 1596.7,1430.2 1597.4,1427.8 1598.0,1432.1 1598.7,1428.5 1599.3,1427.1 1599.9,1428.4 1600.6,1426.1 1601.2,1429.0 1601.9,1430.4 1602.5,1427.8 1603.1,1428.5 1603.8,1430.4 1604.4,1429.7 1605.1,1429.2 1605.7,1428.2 1606.4,1428.2 1607.0,1430.0 1607.6,1429.5 1608.3,1429.8 1608.9,1429.3 1609.6,1427.8 1610.2,1430.7 1610.8,1427.4 1611.5,1431.2 1612.1,1431.3 1612.8,1430.9 1613.4,1429.1 1614.1,1430.1 1614.7,1428.9 1615.3,1425.2 1616.0,1428.1 1616.6,1429.8 1617.3,1426.1 1617.9,1426.4 1618.6,1429.8 1619.2,1427.4 1619.8,1429.9 1620.5,1428.3 1621.1,1425.9 1621.8,1424.9 1622.4,1428.9 1623.0,1425.6 1623.7,1424.2 1624.3,1424.3 1625.0,1426.6 1625.6,1424.9 1626.3,1423.9 1626.9,1423.5 1627.5,1425.3 1628.2,1424.8 1628.8,1424.3 1629.5,1424.5 1630.1,1420.3 1630.8,1426.2 1631.4,1424.4 1632.0,1423.4 1632.7,1421.3 1633.3,1425.2 1634.0,1420.9 1634.6,1427.3 1635.2,1419.3 1635.9,1423.3 1636.5,1421.4 1637.2,1423.0 1637.8,1417.3 1638.5,1419.9 1639.1,1417.8 1639.7,1419.4 1640.4,1419.5 1641.0,1419.5 1641.7,1419.6 1642.3,1417.5 1642.9,1416.3 1643.6,1417.5 1644.2,1417.1 1644.9,1416.1 1645.5,1415.9 1646.2,1420.8 1646.8,1419.7 1647.4,1421.2 1648.1,1422.1 1648.7,1419.9 1649.4,1425.6 1650.0,1425.0 1650.7,1420.6 1651.3,1422.1 1651.9,1422.2 1652.6,1421.0 1653.2,1420.7 1653.9,1418.4 1654.5,1416.6 1655.1,1418.4 1655.8,1418.4 1656.4,1419.6 1657.1,1420.9 1657.7,1417.0 1658.4,1419.4 1659.0,1420.5 1659.6,1418.8 1660.3,1417.5 1660.9,1417.4 1661.6,1412.2 1662.2,1416.9 1662.9,1418.4 1663.5,1415.9 1664.1,1417.7 1664.8,1418.1 1665.4,1419.9 1666.1,1420.8 1666.7,1421.1 1667.3,1416.6 1668.0,1413.1 1668.6,1418.0 1669.3,1415.6 1669.9,1415.0 1670.6,1414.7 1671.2,1415.4 1671.8,1415.3 1672.5,1418.0 1673.1,1415.1 1673.8,1416.9 1674.4,1414.3 1675.0,1416.2 1675.7,1414.8 1676.3,1417.4 1677.0,1415.7 1677.6,1416.3 1678.3,1414.2 1678.9,1413.9 1679.5,1414.5 1680.2,1412.9 1680.8,1412.7 1681.5,1410.8 1682.1,1409.7 1682.8,1408.3 1683.4,1410.2 1684.0,1411.2 1684.7,1413.3 1685.3,1411.8 1686.0,1412.8 1686.6,1412.0 1687.2,1410.6 1687.9,1414.2 1688.5,1411.8 1689.2,1412.8 1689.8,1408.3 1690.5,1410.2 1691.1,1406.9 1691.7,1408.3 1692.4,1403.6 1693.0,1407.6 1693.7,1408.6 1694.3,1409.5 1695.0,1409.5 1695.6,1414.4 1696.2,1412.8 1696.9,1412.4 1697.5,1412.3 1698.2,1412.2 1698.8,1410.0 1699.4,1409.7 1700.1,1405.0 1700.7,1405.7 1701.4,1408.2 1702.0,1405.6 1702.7,1410.2 1703.3,1408.4 1703.9,1413.3 1704.6,1408.0 1705.2,1404.3 1705.9,1405.7 1706.5,1408.6 1707.1,1406.4 1707.8,1406.8 1708.4,1406.3 1709.1,1406.6 1709.7,1410.1 1710.4,1414.1 1711.0,1412.0 1711.6,1410.6 1712.3,1408.8 1712.9,1410.7 1713.6,1412.7 1714.2,1410.4 1714.9,1409.1 1715.5,1406.8 1716.1,1411.5 1716.8,1409.3 1717.4,1414.2 1718.1,1410.1 1718.7,1412.7 1719.3,1410.3 1720.0,1410.7 1720.6,1413.5 1721.3,1409.6 1721.9,1409.3 1722.6,1412.1 1723.2,1414.3 1723.8,1413.6 1724.5,1416.5 1725.1,1415.3 1725.8,1412.7 1726.4,1414.9 1727.1,1418.3 1727.7,1415.1 1728.3,1416.2 1729.0,1421.1 1729.6,1423.3 1730.3,1419.8 1730.9,1420.0 1731.5,1422.1 1732.2,1420.3 1732.8,1420.8 1733.5,1420.3 1734.1,1422.6 1734.8,1421.7 1735.4,1425.0 1736.0,1423.2 1736.7,1423.7 1737.3,1426.8 1738.0,1422.0 1738.6,1418.1 1739.2,1421.2 1739.9,1422.7 1740.5,1424.5 1741.2,1425.8 1741.8,1423.4 1742.5,1426.5 1743.1,1426.5 1743.7,1426.0 1744.4,1427.3 1745.0,1423.9 1745.7,1426.3 1746.3,1429.4 1747.0,1427.4 1747.6,1430.0 1748.2,1428.2 1748.9,1431.0 1749.5,1430.4 1750.2,1434.0 1750.8,1433.0 1751.4,1432.1 1752.1,1439.0 1752.7,1430.6 1753.4,1434.1 1754.0,1435.0 1754.7,1437.9 1755.3,1433.5 1755.9,1436.1 1756.6,1436.5 1757.2,1437.0 1757.9,1438.1 1758.5,1436.4 1759.2,1434.9 1759.8,1438.1 1760.4,1435.5 1761.1,1438.4 1761.7,1436.0 1762.4,1435.9 1763.0,1439.6 1763.6,1438.7 1764.3,1437.7 1764.9,1438.8 1765.6,1441.1 1766.2,1440.0 1766.9,1440.8 1767.5,1440.1 1768.1,1440.3 1768.8,1444.3 1769.4,1445.4 1770.1,1445.4 1770.7,1445.6 1771.3,1446.6 1772.0,1445.4 1772.6,1444.3 1773.3,1443.9 1773.9,1447.1 1774.6,1446.4 1775.2,1446.5 1775.8,1445.2 1776.5,1445.2 1777.1,1446.1 1777.8,1446.5 1778.4,1446.8 1779.1,1448.0 1779.7,1450.6 1780.3,1448.7 1781.0,1447.3 1781.6,1447.0 1782.3,1447.9 1782.9,1449.1 1783.5,1444.4 1784.2,1445.1 1784.8,1447.9 1785.5,1450.5 1786.1,1450.2 1786.8,1451.4 1787.4,1449.6 1788.0,1451.5 1788.7,1452.2 1789.3,1448.6 1790.0,1450.6 1790.6,1451.9 1791.3,1450.6 1791.9,1448.2 1792.5,1450.9 1793.2,1449.4 1793.8,1450.4 1794.5,1452.1 1795.1,1450.5 1795.7,1451.0 1796.4,1451.2 1797.0,1448.3 1797.7,1450.0 1798.3,1452.5 1799.0,1454.3 1799.6,1454.7 1800.2,1450.1 1800.9,1453.9 1801.5,1452.1 1802.2,1450.3 1802.8,1455.0 1803.4,1453.9 1804.1,1457.0 1804.7,1455.5 1805.4,1452.8 1806.0,1453.2 1806.7,1455.4 1807.3,1453.9 1807.9,1454.2 1808.6,1452.2 1809.2,1453.2 1809.9,1457.5 1810.5,1457.3 1811.2,1455.0 1811.8,1454.9 1812.4,1458.0 1813.1,1457.9 1813.7,1454.4 1814.4,1457.7 1815.0,1458.8 1815.6,1457.0 1816.3,1460.2 1816.9,1457.2 1817.6,1458.1 1818.2,1455.7 1818.9,1456.7 1819.5,1458.5 1820.1,1460.0 1820.8,1460.2 1821.4,1459.6 1822.1,1460.0 1822.7,1458.1 1823.4,1458.5 1824.0,1456.7 1824.6,1456.3 1825.3,1458.5 1825.9,1459.2 1826.6,1460.9 1827.2,1459.9 1827.8,1456.6 1828.5,1462.7 1829.1,1462.5 1829.8,1462.7 1830.4,1461.5 1831.1,1462.5 1831.7,1461.9 1832.3,1461.2 1833.0,1460.2 1833.6,1459.9 1834.3,1460.3 1834.9,1461.7 1835.5,1460.8 1836.2,1462.9 1836.8,1462.8 1837.5,1461.7 1838.1,1463.7 1838.8,1461.6 1839.4,1464.2 1840.0,1464.9 1840.7,1463.4 1841.3,1466.1 1842.0,1464.1 1842.6,1461.7 1843.3,1467.1 1843.9,1464.7 1844.5,1465.5 1845.2,1465.2 1845.8,1465.0 1846.5,1466.4 1847.1,1465.7 1847.7,1468.5 1848.4,1467.2 1849.0,1468.8 1849.7,1470.6 1850.3,1469.2 1851.0,1467.9 1851.6,1467.8 1852.2,1464.7 1852.9,1462.8 1853.5,1463.4 1854.2,1460.6 1854.8,1460.9 1855.5,1460.3 1856.1,1465.6 1856.7,1465.8 1857.4,1469.9 1858.0,1467.8 1858.7,1469.2 1859.3,1467.6 1859.9,1467.6 1860.6,1468.2 1861.2,1467.1 1861.9,1468.1 1862.5,1467.1 1863.2,1466.7 1863.8,1471.3 1864.4,1468.7 1865.1,1466.2 1865.7,1467.1 1866.4,1466.8 1867.0,1467.9 1867.6,1467.0 1868.3,1469.4 1868.9,1470.3 1869.6,1471.2 1870.2,1470.9 1870.9,1471.0 1871.5,1471.5 1872.1,1472.7 1872.8,1469.8 1873.4,1469.5 1874.1,1469.6 1874.7,1469.5 1875.4,1472.7 1876.0,1468.3 1876.6,1467.0 1877.3,1470.5 1877.9,1470.9 1878.6,1470.6 1879.2,1469.6 1879.8,1472.3 1880.5,1470.7 1881.1,1471.0 1881.8,1470.1 1882.4,1473.3 1883.1,1471.2 1883.7,1470.8 1884.3,1469.7 1885.0,1470.9 1885.6,1471.0 1886.3,1470.7 1886.9,1473.7 1887.6,1471.9 1888.2,1471.6 1888.8,1475.0 1889.5,1477.0 1890.1,1474.4 1890.8,1474.1 1891.4,1475.7 1892.0,1476.6 1892.7,1476.7 1893.3,1476.0 1894.0,1478.1 1894.6,1478.3 1895.3,1476.0 1895.9,1479.9 1896.5,1479.0 1897.2,1480.0 1897.8,1479.6 1898.5,1482.7 1899.1,1481.7 1899.7,1480.9 1900.4,1482.1 1901.0,1480.4 1901.7,1487.9 1902.3,1483.3 1903.0,1488.3 1903.6,1487.8 1904.2,1487.1 1904.9,1489.3 1905.5,1488.1 1906.2,1488.5 1906.8,1490.1 1907.5,1488.0 1908.1,1491.9 1908.7,1487.3 1909.4,1491.0 1910.0,1490.3 1910.7,1489.9 1911.3,1489.4 1911.9,1490.3 1912.6,1491.3 1913.2,1488.7 1913.9,1489.9 1914.5,1490.7 1915.2,1488.0 1915.8,1489.5 1916.4,1488.3 1917.1,1489.5 1917.7,1491.4 1918.4,1488.6 1919.0,1490.1 1919.7,1491.9 1920.3,1493.1 1920.9,1493.1 1921.6,1493.2 1922.2,1491.5 1922.9,1491.4 1923.5,1493.6 1924.1,1491.8 1924.8,1493.1 1925.4,1490.2 1926.1,1492.6 1926.7,1492.4 1927.4,1489.5 1928.0,1492.7 1928.6,1492.6 1929.3,1492.8 1929.9,1493.5 1930.6,1493.1 1931.2,1491.2 1931.8,1495.3 1932.5,1494.4 1933.1,1497.3 1933.8,1495.8 1934.4,1493.5 1935.1,1490.2 1935.7,1493.3 1936.3,1494.6 1937.0,1493.3 1937.6,1496.7 1938.3,1496.9 1938.9,1496.8 1939.6,1496.1 1940.2,1497.1 1940.8,1496.6 1941.5,1494.5 1942.1,1496.9 1942.8,1494.5 1943.4,1497.1 1944.0,1500.0 1944.7,1496.8 1945.3,1499.4 1946.0,1494.3 1946.6,1494.4 1947.3,1494.3 1947.9,1494.9 1948.5,1494.5 1949.2,1496.0 1949.8,1499.0 1950.5,1497.2 1951.1,1497.6 1951.8,1499.1 1952.4,1498.9 1953.0,1497.9 1953.7,1499.5 1954.3,1498.7 1955.0,1499.2 1955.6,1500.8 1956.2,1498.4 1956.9,1498.5 1957.5,1499.7 1958.2,1501.7 1958.8,1499.3 1959.5,1498.4 1960.1,1499.4 1960.7,1501.2 1961.4,1501.0 1962.0,1501.7 1962.7,1499.5 1963.3,1499.3 1963.9,1499.4 1964.6,1499.6 1965.2,1498.8 1965.9,1498.8 1966.5,1498.1 1967.2,1499.6 1967.8,1499.0 1968.4,1498.3 1969.1,1499.8 1969.7,1498.9 1970.4,1500.5 1971.0,1499.4 1971.7,1499.1 1972.3,1501.9 1972.9,1501.1 1973.6,1502.5 1974.2,1503.3 1974.9,1501.8 1975.5,1502.3 1976.1,1505.6 1976.8,1504.1 1977.4,1506.7 1978.1,1503.9 1978.7,1502.7 1979.4,1503.3 1980.0,1501.7 1980.6,1500.1 1981.3,1504.3 1981.9,1501.8 1982.6,1500.1 1983.2,1499.7 1983.9,1501.0 1984.5,1501.6 1985.1,1501.1 1985.8,1500.1 1986.4,1501.6 1987.1,1502.8 1987.7,1504.7 1988.3,1499.9 1989.0,1501.0 1989.6,1501.7 1990.3,1503.3 1990.9,1502.8 1991.6,1504.0 1992.2,1501.3 1992.8,1502.0 1993.5,1501.6 1994.1,1502.4 1994.8,1502.7 1995.4,1505.4 1996.0,1506.1 1996.7,1503.8 1997.3,1503.6 1998.0,1506.2 1998.6,1501.5 1999.3,1501.8 1999.9,1501.9 2000.5,1501.7 2001.2,1502.6 2001.8,1503.7 2002.5,1503.8 2003.1,1504.2 2003.8,1505.9 2004.4,1508.4 2005.0,1504.9 2005.7,1502.0 2006.3,1503.4 2007.0,1502.9 2007.6,1505.3 2008.2,1504.6 2008.9,1503.7 2009.5,1505.6 2010.2,1503.3 2010.8,1505.0 2011.5,1505.2 2012.1,1503.1 2012.7,1503.0 2013.4,1503.9 2014.0,1506.8 2014.7,1507.0 2015.3,1507.5 2016.0,1509.0 2016.6,1508.1 2017.2,1508.4 2017.9,1507.8 2018.5,1506.4 2019.2,1506.4 2019.8,1507.3 2020.4,1508.1 2021.1,1506.6 2021.7,1506.9 2022.4,1504.9 2023.0,1506.2 2023.7,1509.2 2024.3,1508.2 2024.9,1510.6 2025.6,1507.5 2026.2,1509.0 2026.9,1509.5 2027.5,1507.0 2028.1,1509.1 2028.8,1510.8 2029.4,1509.2 2030.1,1510.1 2030.7,1512.8 2031.4,1510.4 2032.0,1510.2 2032.6,1510.4 2033.3,1509.5 2033.9,1511.2 2034.6,1507.7 2035.2,1508.3 2035.9,1511.0 2036.5,1509.4 2037.1,1508.6 2037.8,1511.8 2038.4,1507.3 2039.1,1509.6 2039.7,1508.5 2040.3,1507.2 2041.0,1507.7 2041.6,1508.4 2042.3,1509.9 2042.9,1508.8 2043.6,1507.0 2044.2,1509.7 2044.8,1508.6 2045.5,1510.4 2046.1,1510.9 2046.8,1511.0 2047.4,1508.4 2048.1,1508.7 2048.7,1511.3 2049.3,1509.1 2050.0,1509.4 2050.6,1510.8 2051.3,1509.4 2051.9,1511.6 2052.5,1507.7 2053.2,1506.0 2053.8,1507.9 2054.5,1509.9 2055.1,1508.7 2055.8,1504.0 2056.4,1509.3 2057.0,1507.7 2057.7,1508.6 2058.3,1511.5 2059.0,1510.2 2059.6,1511.6 2060.2,1507.6 2060.9,1509.8 2061.5,1507.0 2062.2,1509.9 2062.8,1509.9 2063.5,1511.5 2064.1,1512.9 2064.7,1512.0 2065.4,1511.3 2066.0,1514.0 2066.7,1512.3 2067.3,1511.5 2068.0,1511.2 2068.6,1512.7 2069.2,1509.5 2069.9,1511.7 2070.5,1510.2 2071.2,1510.1" fill="none" stroke="#800080" stroke-width="7" stroke-linejoin="round" stroke-linecap="round" shape-rendering="crispEdges"/>
<text x="147.0" y="1659.3" font-size="59" text-anchor="middle">500</text>
<text x="468.0" y="1659.3" font-size="59" text-anchor="middle">1000</text>
<text x="789.0" y="1659.3" font-size="59" text-anchor="middle">1500</text>
<text x="1110.0" y="1659.3" font-size="59" text-anchor="middle">2000</text>
<text x="1431.0" y="1659.3" font-size="59" text-anchor="middle">2500</text>
<text x="1752.0" y="1659.3" font-size="59" text-anchor="middle">3000</text>
<text x="2073.0" y="1659.3" font-size="59" text-anchor="middle">3500</text>
<text x="1109" y="1751" font-size="73.3" text-anchor="middle">Raman shift (cm<tspan font-size="49.5" dy="-27">-1</tspan><tspan dy="27">)</tspan></text>
<text transform="translate(66,776.5) rotate(-90)" font-size="73.7" text-anchor="middle">Intensity (a.u.)</text>
<text x="691" y="164" font-size="60" text-anchor="middle">D</text>
<text x="847" y="72.5" font-size="60.5" text-anchor="middle">G</text>
<text x="1667" y="917.5" font-size="59.6" text-anchor="middle">2D</text>
<text x="169.2" y="1111.7" font-size="58">I<tspan font-size="40" dy="16">D</tspan><tspan dy="-16">/I</tspan><tspan font-size="40" dy="16">G</tspan><tspan dy="-16">=0.92</tspan></text>
<text x="171.1" y="1213.9" font-size="58">I<tspan font-size="40" dy="16">D</tspan><tspan dy="-16">/I</tspan><tspan font-size="40" dy="16">G</tspan><tspan dy="-16">=0.91</tspan></text>
<text x="166.3" y="1332.7" font-size="58">I<tspan font-size="40" dy="16">D</tspan><tspan dy="-16">/I</tspan><tspan font-size="40" dy="16">G</tspan><tspan dy="-16">=0.88</tspan></text>
<text x="167.3" y="1424.2" font-size="58">I<tspan font-size="40" dy="16">D</tspan><tspan dy="-16">/I</tspan><tspan font-size="40" dy="16">G</tspan><tspan dy="-16">=0.91</tspan></text>
<text x="169.2" y="1524.8" font-size="58">I<tspan font-size="40" dy="16">D</tspan><tspan dy="-16">/I</tspan><tspan font-size="40" dy="16">G</tspan><tspan dy="-16">=0.94</tspan></text>
<rect x="1545.5" y="101.5" width="476.5" height="511.5" fill="#000"/>
<rect x="1523.5" y="78.5" width="476" height="510.5" fill="#fff" stroke="#000" stroke-width="3"/>
<line x1="1534" y1="132.7" x2="1696" y2="132.7" stroke="#000000" stroke-width="7"/>
<text x="1709" y="162.3" font-size="59">GO</text>
<line x1="1534" y1="232.5" x2="1696" y2="232.5" stroke="#ff0000" stroke-width="7"/>
<text x="1709" y="262.3" font-size="59">rGO-25<tspan font-size="39" dy="-23.3">o</tspan><tspan dy="23.3">C</tspan></text>
<line x1="1534" y1="332.3" x2="1696" y2="332.3" stroke="#0000ff" stroke-width="7"/>
<text x="1709" y="362.3" font-size="59">rGO-40<tspan font-size="39" dy="-23.3">o</tspan><tspan dy="23.3">C</tspan></text>
<line x1="1534" y1="432.1" x2="1696" y2="432.1" stroke="#008000" stroke-width="7"/>
<text x="1709" y="462.3" font-size="59">rGO-60<tspan font-size="39" dy="-23.3">o</tspan><tspan dy="23.3">C</tspan></text>
<line x1="1534" y1="531.9" x2="1696" y2="531.9" stroke="#800080" stroke-width="7"/>
<text x="1709" y="562.3" font-size="59">rGO-80<tspan font-size="39" dy="-23.3">o</tspan><tspan dy="23.3">C</tspan></text>
</svg></body></html>
